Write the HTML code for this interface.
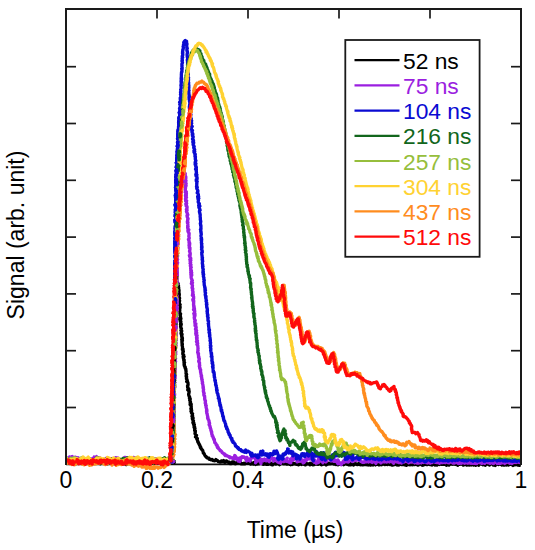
<!DOCTYPE html>
<html><head><meta charset="utf-8"><style>
html,body{margin:0;padding:0;background:#fff;}
svg{display:block;}
text{font-family:"Liberation Sans",sans-serif;}
</style></head><body>
<svg width="535" height="550" viewBox="0 0 535 550">
<defs><clipPath id="pc"><rect x="66.2" y="0" width="454.6" height="470"/></clipPath></defs>
<rect width="535" height="550" fill="#fff"/>
<line x1="66" y1="464.4" x2="521" y2="464.4" stroke="#111" stroke-width="1.7"/>
<g fill="none" stroke-width="3.3" stroke-linejoin="round" stroke-linecap="round" clip-path="url(#pc)">
<path d="M65.4,462.2 67.1,461.1 67.4,462.2 68.3,462.7 68.2,459.7 70.0,460.5 70.6,459.0 70.8,461.2 71.2,461.9 72.9,459.3 72.2,461.2 74.4,460.9 73.9,461.0 74.3,460.3 75.7,461.1 76.1,460.1 76.8,460.7 77.6,459.2 79.1,460.9 79.5,459.6 80.8,461.8 80.1,460.4 81.8,461.8 82.8,461.1 83.3,462.2 83.2,462.2 84.8,463.1 84.9,461.6 84.9,459.9 86.8,460.1 86.5,460.7 88.0,461.4 88.2,460.8 89.1,461.7 89.8,460.3 90.5,459.2 90.5,461.9 92.7,462.2 92.4,461.1 93.3,463.1 94.4,461.1 95.3,459.9 95.4,462.8 96.2,461.8 96.4,462.2 98.2,459.6 98.7,461.4 99.5,460.8 100.1,461.1 100.4,461.8 100.3,463.8 101.8,461.1 102.4,461.5 102.9,460.9 103.9,462.4 104.7,462.5 104.4,462.1 105.4,463.1 107.2,463.6 107.8,463.6 107.6,463.7 109.0,461.3 108.6,460.9 110.5,460.7 110.2,460.9 111.3,458.7 111.7,461.0 112.4,461.0 113.9,462.2 114.0,461.9 114.2,461.4 115.6,460.7 115.8,463.4 117.1,461.6 118.0,463.8 117.7,460.8 118.6,462.7 119.4,462.3 120.9,461.5 120.9,462.7 122.5,461.2 122.3,462.3 123.2,462.7 123.8,463.4 124.1,462.5 126.2,464.5 125.9,464.2 126.6,463.6 128.0,461.0 127.9,459.0 129.6,459.0 130.2,461.9 130.5,459.4 131.7,462.3 132.1,461.2 132.3,461.0 132.7,462.3 133.8,461.1 134.0,462.6 135.0,461.5 135.7,462.1 137.3,459.1 136.9,460.6 138.9,462.6 138.5,461.1 139.8,463.1 140.9,461.4 141.5,462.6 141.6,463.9 141.9,463.4 142.3,461.6 144.4,461.0 144.8,461.4 145.6,460.1 145.5,459.9 147.1,460.9 147.9,461.9 147.3,461.3 148.0,460.1 148.6,463.2 150.5,463.4 150.4,463.0 151.8,462.4 152.2,461.7 152.1,461.6 154.1,462.5 154.9,462.4 154.5,463.6 156.1,461.1 156.6,460.8 156.4,462.8 157.0,460.2 159.2,460.6 158.5,459.5 159.4,461.3 159.9,462.7 161.0,463.7 162.6,462.0 162.2,462.6 162.7,463.1 163.3,460.8 165.5,461.0 165.6,460.7 165.8,459.0 167.5,461.9 168.2,459.2 167.7,461.1 169.7,461.6 169.9,462.7 169.9,462.8 170.9,461.7 171.4,461.7 172.7,461.9 173.2,462.2 174.3,462.1 173.0,462.1 172.3,462.6 172.0,461.7 171.1,461.6 170.7,461.1 170.3,459.8 170.2,459.1 170.7,458.4 170.2,458.4 170.5,457.9 170.8,457.3 170.5,456.2 171.3,455.0 171.6,454.4 171.5,454.7 171.6,453.2 170.8,452.7 171.9,451.7 171.9,450.9 172.0,450.0 171.3,450.4 172.0,449.7 172.1,448.8 171.9,447.4 171.7,446.7 172.1,446.6 171.6,445.2 172.5,445.4 172.0,444.4 172.4,443.6 171.9,442.7 171.8,441.7 172.3,441.4 172.2,440.3 172.0,439.7 171.8,439.1 172.6,438.6 172.2,438.2 172.0,436.7 172.4,436.6 172.5,435.9 172.6,435.5 172.1,434.5 172.4,433.5 172.3,433.2 173.0,432.9 172.2,431.9 172.0,430.5 172.5,430.8 172.1,430.0 173.0,428.7 172.8,428.7 172.4,427.8 172.9,426.9 173.1,426.6 173.2,425.5 172.3,424.4 172.3,424.1 173.0,422.8 172.9,422.9 172.5,422.0 172.3,421.5 172.2,421.1 173.1,420.0 172.5,419.6 173.4,418.0 173.1,418.1 173.0,417.3 172.8,416.8 173.4,415.5 173.2,414.9 172.5,414.0 172.5,414.0 173.5,412.4 173.1,412.0 172.5,411.2 172.7,411.0 172.4,409.7 172.9,408.8 173.2,408.8 173.4,407.6 172.8,407.3 172.8,406.6 172.8,406.1 173.4,405.5 173.7,404.5 173.1,404.2 173.5,403.1 173.0,402.1 172.7,402.0 172.7,401.2 173.2,400.8 173.5,400.1 172.8,398.8 173.3,397.9 173.3,397.3 173.3,396.1 173.2,396.0 173.1,395.2 173.7,394.9 173.3,394.1 173.2,392.9 172.8,392.3 173.5,392.3 173.8,391.2 174.0,390.4 173.8,389.6 173.8,389.6 173.2,387.9 173.6,387.7 173.3,386.3 173.4,386.2 173.4,386.0 173.7,385.1 174.1,384.4 173.6,383.7 173.8,382.9 173.8,381.9 173.8,381.5 174.2,381.0 174.1,380.3 174.1,379.4 173.5,378.3 174.0,378.3 173.8,376.7 174.2,376.4 173.7,375.2 173.8,375.3 173.7,374.2 174.0,373.1 173.8,373.5 174.1,372.1 174.1,371.7 173.5,370.5 174.4,369.9 173.4,369.8 174.0,368.6 174.0,368.3 173.6,367.5 174.2,367.0 173.7,366.1 173.7,365.3 173.6,364.9 174.5,363.6 173.7,363.7 174.3,362.9 173.5,362.2 174.3,360.8 174.1,360.7 174.5,359.3 174.3,358.6 174.8,358.2 174.7,357.8 174.4,356.6 174.3,355.7 173.8,355.7 174.1,355.1 174.0,354.3 174.6,353.1 173.9,352.5 174.3,351.5 174.0,350.7 174.5,351.0 174.1,349.3 174.7,349.5 175.0,348.6 174.3,348.2 174.0,347.3 174.0,346.2 174.5,345.5 174.1,344.6 174.9,344.2 174.7,343.2 174.8,342.7 174.7,342.6 175.2,340.9 175.0,341.2 174.4,339.9 174.8,339.9 174.6,339.1 175.0,337.5 175.2,336.7 174.3,336.8 174.2,335.7 174.3,335.1 175.2,334.9 174.3,333.2 175.2,332.5 174.6,331.9 174.4,331.1 175.1,331.3 175.1,330.7 175.1,329.4 175.1,329.4 175.1,327.9 174.5,328.0 175.1,326.6 175.2,326.1 175.1,324.8 174.9,324.6 174.7,324.4 175.0,323.5 175.4,322.9 175.4,322.2 174.9,321.7 174.8,321.0 175.6,320.2 174.7,318.6 175.6,318.3 175.1,318.2 174.7,317.0 175.2,315.8 175.2,315.8 175.8,314.3 175.4,313.7 175.8,313.0 174.9,312.6 175.7,311.8 175.0,311.7 175.9,311.1 175.3,309.9 175.2,309.3 175.4,308.4 175.9,308.4 175.7,306.7 175.8,306.4 176.3,306.0 176.1,305.3 175.8,304.9 176.2,303.4 175.4,302.8 175.9,301.8 175.7,301.7 175.4,301.3 176.1,300.0 175.7,299.3 175.8,299.1 176.1,298.1 175.7,297.9 176.0,296.5 175.7,296.6 176.3,295.8 176.9,295.2 176.8,294.4 177.0,293.6 176.1,292.5 176.7,292.4 177.0,291.4 177.1,290.3 177.4,289.9 176.8,289.0 177.5,288.4 176.6,287.2 177.3,287.0 177.6,285.9 177.1,285.8 176.7,284.4 177.3,283.9 176.8,283.2 177.4,282.8 177.4,282.3 178.2,283.7 177.5,284.6 177.4,284.7 178.5,285.9 177.9,286.8 178.3,287.4 178.7,287.6 178.6,288.4 178.9,289.4 178.8,290.2 179.1,290.2 178.2,291.5 179.0,291.9 178.7,292.5 179.2,293.6 178.9,293.4 179.3,294.6 178.5,295.1 179.2,295.5 178.5,296.5 179.5,297.8 179.6,298.2 179.2,298.9 179.2,299.6 179.6,300.8 179.1,301.1 179.1,301.4 179.3,302.5 179.4,303.6 179.0,303.9 180.1,304.7 179.6,305.0 179.4,306.4 180.1,306.7 180.1,307.7 180.1,307.8 179.7,309.0 179.6,309.6 179.8,309.8 179.8,310.3 179.7,311.3 179.3,311.7 179.7,313.3 180.1,313.3 180.6,313.9 180.1,315.2 180.3,315.5 180.5,316.3 180.4,317.0 180.8,318.0 179.8,318.0 180.9,318.8 179.8,319.5 180.4,321.1 180.3,321.5 180.9,321.4 180.7,323.2 180.7,323.4 180.5,324.5 181.3,324.2 180.8,325.3 181.0,325.6 180.6,326.5 180.9,327.9 181.4,328.5 181.2,328.4 181.0,329.8 180.9,330.3 181.7,330.5 181.7,331.2 181.2,332.9 181.0,333.1 181.3,334.2 182.1,334.2 181.6,335.6 181.7,335.5 182.0,336.4 181.7,336.7 182.4,338.1 182.4,339.2 181.7,339.4 181.9,340.4 182.5,340.4 181.9,341.7 182.1,341.7 181.9,342.9 182.4,344.1 182.4,344.4 182.0,344.8 182.2,345.9 182.3,346.0 182.5,347.0 182.5,347.8 182.4,348.9 183.1,349.2 182.4,349.6 183.2,350.7 183.4,351.7 182.9,351.9 183.0,352.2 182.8,353.0 182.8,354.0 183.6,354.8 183.7,355.1 183.2,356.2 184.1,356.7 183.1,356.9 183.5,358.3 183.4,358.5 184.2,360.1 183.8,360.4 184.1,360.4 184.0,361.2 184.0,362.7 184.6,362.5 184.0,364.0 184.1,364.2 184.4,364.6 184.2,365.4 184.8,367.0 185.2,366.9 185.3,367.6 185.2,368.4 185.9,369.1 185.8,370.1 186.0,370.8 186.1,371.2 186.0,372.2 185.9,372.8 186.0,373.3 186.6,374.3 186.3,374.3 186.3,375.1 186.1,376.1 186.6,376.6 186.4,377.6 186.7,378.1 186.4,378.8 187.1,379.7 187.1,380.7 187.4,381.2 186.7,381.5 187.6,382.0 188.0,382.7 188.0,383.4 188.1,384.9 187.6,385.6 187.5,386.3 187.8,386.5 187.6,387.4 187.9,388.1 188.7,388.8 187.8,389.9 189.0,390.2 188.5,390.8 189.2,391.4 189.1,392.2 188.8,393.3 188.9,393.6 188.6,394.1 188.7,395.1 188.7,395.0 189.0,395.8 189.6,396.8 189.4,398.2 190.2,398.5 190.2,399.4 189.7,400.1 189.7,400.5 190.0,400.7 190.6,402.3 190.1,402.9 190.3,403.4 191.2,404.2 190.1,404.5 190.6,405.0 191.3,405.9 191.2,406.8 191.1,406.8 191.4,408.5 190.9,408.9 191.4,409.2 191.7,410.7 191.0,411.3 191.5,411.9 191.4,412.4 191.4,412.7 192.6,413.7 192.4,414.2 192.2,414.9 192.6,415.9 192.0,416.3 192.6,417.1 193.1,418.1 192.3,418.3 192.4,418.5 192.5,419.4 193.4,420.7 193.5,420.9 192.9,422.4 193.8,423.1 193.0,423.1 193.8,424.2 194.3,424.7 193.7,424.7 194.4,426.6 194.6,426.9 194.0,427.1 194.7,428.6 195.0,428.4 194.7,429.5 194.6,430.5 195.4,431.1 195.2,431.7 195.3,432.2 195.0,433.2 195.0,433.7 195.4,434.3 195.9,434.9 196.5,435.3 195.5,436.8 196.0,436.7 196.4,437.7 197.3,438.5 196.8,439.0 197.1,439.6 197.3,439.9 197.6,440.8 197.8,441.9 198.1,441.8 198.5,443.3 199.0,443.6 199.2,443.9 199.2,444.4 199.6,445.1 200.0,445.6 200.1,446.3 200.4,447.6 200.9,447.5 201.2,449.0 201.6,449.2 201.8,449.4 202.3,449.9 202.7,450.5 203.0,451.5 203.3,452.3 203.3,452.9 203.7,453.1 204.2,453.8 204.8,455.2 205.0,455.6 205.4,456.0 205.9,456.3 206.2,457.1 206.8,457.2 207.4,458.0 208.2,458.2 208.9,458.1 209.1,459.1 209.9,459.4 210.9,459.4 211.1,459.9 212.1,459.4 212.5,459.9 213.1,460.5 214.1,460.6 214.6,460.8 215.1,460.5 215.9,459.5 216.4,460.1 217.7,460.7 218.1,461.4 218.6,461.6 219.7,462.1 220.2,462.0 221.3,461.9 221.5,460.9 221.9,461.9 222.7,461.4 223.6,460.6 224.1,462.1 225.1,462.3 226.1,460.8 226.6,460.8 227.1,461.7 228.3,462.3 228.3,462.4 229.3,462.1 229.8,463.5 231.1,463.4 230.9,463.6 232.0,463.2 232.4,461.8 233.8,462.0 233.7,462.6 235.3,463.5 235.4,463.8 236.5,463.2 237.1,462.2 238.0,462.2 238.7,462.5 239.4,462.4 239.7,462.8 240.3,462.3 241.2,463.8 241.6,463.9 242.8,463.6 243.1,463.9 244.2,463.1 244.3,463.2 244.9,463.8 245.9,462.8 246.8,463.1 247.5,462.7 248.2,463.4 248.8,463.0 249.8,462.4 249.9,463.1 250.7,464.1 251.3,462.7 252.2,463.4 253.3,464.1 254.0,463.3 254.0,462.4 255.2,464.0 255.6,464.5 256.6,463.8 257.3,462.7 257.6,464.0 258.4,462.4 259.1,463.7 259.8,462.8 260.5,463.3 261.6,462.8 262.5,463.9 263.1,462.4 263.4,464.4 264.5,463.4 264.9,464.0 265.8,463.2 266.2,464.3 267.4,463.1 267.8,464.4 268.8,464.1 269.5,463.7 269.5,463.3 270.6,463.0 271.0,463.1 271.5,464.7 272.5,464.9 273.5,463.7 274.4,463.3 275.1,463.3 275.2,464.0 275.7,464.1 276.4,463.9 277.1,463.4 278.0,463.4 278.9,464.1 279.5,464.7 280.0,463.7 281.2,463.6 282.1,463.7 282.4,462.9 282.7,463.0 283.9,463.9 284.9,463.5 285.4,463.4 285.5,463.5 286.8,464.2 287.7,464.2 288.1,463.8 288.7,463.9 289.6,464.4 290.4,464.2 290.8,464.7 291.7,464.0 292.3,464.4 293.0,463.4 293.4,464.0 293.9,463.8 295.4,463.4 295.7,464.2 296.8,464.3 297.2,463.9 297.8,464.5 298.4,464.8 298.8,464.7 300.1,463.8 300.2,463.7 301.4,464.5 302.3,463.5 302.3,463.3 303.9,464.3 303.8,464.4 305.2,464.2 305.3,464.9 306.4,463.5 307.2,464.0 307.7,463.8 308.1,463.9 309.0,464.0 310.0,463.3 310.1,464.8 311.2,464.3 311.9,463.6 312.4,463.5 312.9,464.9 314.1,464.7 314.2,464.4 315.1,464.1 316.2,463.2 316.6,464.2 317.8,464.1 318.0,464.3 318.9,463.7 319.6,463.7 319.8,463.7 320.5,464.1 321.6,464.8 322.5,464.5 323.5,463.7 323.6,463.6 324.1,464.1 325.1,463.4 326.2,465.0 326.1,463.2 326.8,464.5 328.2,463.3 328.2,464.2 329.2,463.2 329.6,463.6 330.4,463.8 331.5,463.7 331.9,463.6 333.2,463.7 333.6,464.0 334.1,464.0 334.5,463.6 335.7,464.6 336.1,463.6 337.4,463.4 338.0,464.8 338.1,464.7 338.8,463.3 339.6,463.9 340.6,464.0 341.5,464.4 341.6,463.6 342.8,463.5 343.7,464.7 343.8,463.8 344.5,464.0 345.2,463.3 345.9,463.6 346.7,464.1 347.9,464.5 348.3,464.8 348.8,464.0 349.4,464.8 350.7,464.9 351.1,463.5 351.3,464.7 352.8,464.2 353.5,465.0 354.0,464.0 354.5,463.9 355.1,464.1 355.5,463.5 356.3,464.3 357.6,464.6 357.7,464.1 358.8,463.5 359.0,464.4 359.9,464.5 360.5,464.8 361.3,464.1 362.3,464.9 363.3,464.8 363.8,463.4 364.0,464.3 365.5,464.6 365.4,464.0 366.8,464.2 367.4,464.9 368.1,464.5 368.7,463.9 368.9,465.0 369.5,463.8 370.7,465.1 371.1,463.8 372.3,463.9 372.6,464.0 373.0,465.0 374.3,463.4 374.5,463.6 375.4,464.9 375.9,463.8 376.7,464.3 378.0,464.3 378.7,464.3 379.0,464.9 379.8,464.2 380.4,464.0 381.1,463.5 381.5,464.7 382.2,463.7 382.9,464.0 383.5,464.0 384.7,464.6 385.6,463.5 386.1,463.7 386.6,464.4 387.7,464.6 388.6,463.4 388.6,464.2 389.1,463.5 390.1,464.4 390.6,463.5 391.5,464.7 392.4,465.2 393.1,465.0 393.8,464.3 394.3,463.5 394.7,464.6 396.1,463.4 396.2,464.0 397.0,464.9 397.7,463.9 398.6,465.1 399.1,464.5 399.6,464.2 401.1,463.8 401.3,464.6 402.2,464.4 402.9,464.6 403.4,464.0 404.1,464.3 405.0,465.0 405.5,464.2 406.6,465.2 406.8,464.7 407.5,464.8 408.0,464.3 409.2,464.7 410.2,464.9 410.6,464.3 410.8,464.4 412.0,464.8 412.3,464.5 412.9,464.7 414.3,464.2 414.9,464.6 415.2,463.6 416.3,464.1 416.5,464.2 417.8,465.2 418.3,465.2 418.6,464.3 419.2,463.9 420.7,463.5 421.2,464.4 422.2,465.2 422.1,463.9 423.6,464.0 423.5,465.1 424.6,464.0 425.3,464.2 425.9,464.4 426.3,464.6 427.7,464.5 428.3,464.0 428.4,463.5 429.8,463.7 430.0,464.6 431.0,464.6 431.5,464.9 432.2,465.0 432.5,464.8 433.3,464.2 434.3,463.8 435.0,465.0 435.3,463.8 436.8,464.3 437.0,465.1 438.1,463.8 438.6,463.8 439.5,464.5 440.2,463.6 441.0,463.9 441.6,464.3 442.4,463.7 442.3,464.3 443.8,464.3 444.1,463.8 444.9,464.3 445.9,464.8 446.2,463.8 446.6,465.2 447.7,463.9 448.6,463.9 449.0,465.1 449.4,463.7 450.0,463.8 451.0,464.1 451.6,463.5 452.5,464.3 453.4,464.0 454.0,464.1 454.8,463.8 455.3,464.3 456.0,464.5 456.7,464.1 457.7,465.2 458.2,464.6 459.0,464.1 459.6,464.3 460.2,464.2 460.9,463.9 461.4,463.9 462.4,464.0 463.3,465.1 463.9,464.1 464.8,464.1 465.0,464.6 466.0,464.3 466.8,465.1 467.0,463.9 467.8,464.8 468.8,463.8 469.2,465.1 470.4,464.6 471.0,465.0 471.2,463.6 472.2,464.2 473.0,464.1 473.5,465.0 473.8,464.3 474.6,464.5 475.8,465.3 476.5,463.8 477.0,464.5 477.8,464.8 478.8,465.2 478.9,463.8 480.2,463.8 480.9,463.8 481.3,463.8 481.6,464.1 482.9,464.8 483.1,463.8 483.9,463.9 484.5,464.4 485.4,465.2 485.7,464.5 486.9,463.8 487.4,463.8 488.6,464.2 488.5,464.4 489.6,465.1 490.5,463.9 491.4,463.6 491.9,463.6 492.7,463.9 493.4,465.0 494.1,463.8 494.4,463.7 495.4,465.4 495.9,464.7 496.8,463.8 497.2,464.2 498.2,464.3 498.6,464.6 499.1,463.7 499.9,463.6 501.0,464.4 501.6,464.6 501.8,465.0 503.2,463.6 503.6,465.0 504.2,465.1 505.2,464.8 506.1,465.0 506.5,463.7 507.1,464.8 507.8,464.6 508.4,465.1 509.0,464.7 509.9,463.9 510.2,463.8 511.1,464.4 511.6,463.7 513.0,465.4 513.4,464.4 514.2,463.8 514.8,464.8 515.9,464.7 516.3,464.3 517.3,464.5 517.6,464.9 518.3,463.7 519.1,465.2 519.6,463.8 520.1,465.2 520.6,464.8" stroke="#000000" />
<path d="M66.8,461.7 65.9,458.1 68.0,460.1 68.4,458.1 69.0,458.8 69.6,456.9 70.1,457.8 71.3,460.1 72.4,458.5 72.2,457.4 72.2,456.5 73.6,457.5 74.2,459.8 75.1,458.9 75.3,457.2 76.2,457.6 77.2,460.7 78.2,457.7 79.3,459.8 79.7,460.1 80.5,459.7 80.4,460.8 82.2,458.2 82.6,460.6 82.7,460.3 83.5,462.1 84.2,462.0 84.6,462.1 86.3,460.4 86.4,462.0 87.4,460.3 87.2,459.7 88.8,459.1 89.8,459.9 90.5,460.4 91.3,461.9 91.2,460.7 92.2,460.5 92.3,458.6 93.3,460.6 94.2,457.0 95.3,458.9 96.1,457.0 96.5,456.6 97.1,457.5 97.0,459.7 97.5,458.4 99.5,457.6 99.1,460.2 100.2,459.9 100.2,459.0 101.1,460.4 101.6,461.7 102.2,461.2 102.9,459.8 105.1,459.8 104.6,461.7 105.7,458.5 107.5,457.9 106.5,458.1 108.2,459.9 108.0,458.8 108.6,459.6 110.6,460.8 111.5,461.1 112.2,461.0 112.2,459.0 113.2,459.1 112.9,459.4 115.0,458.0 115.2,458.8 115.7,457.7 117.2,458.0 117.3,458.4 116.9,459.1 117.9,458.0 118.4,459.2 119.2,461.4 120.6,462.8 122.1,462.9 121.5,460.8 122.3,460.5 123.6,460.5 124.5,458.0 124.7,459.0 124.6,457.3 126.0,457.7 127.3,458.4 126.9,458.5 127.8,458.8 129.0,459.6 129.4,460.2 129.9,461.2 131.9,460.8 131.7,460.4 132.6,458.7 133.1,459.7 133.3,457.4 135.1,458.0 135.3,460.4 136.2,458.5 137.6,459.2 136.5,460.8 137.4,460.0 139.4,461.7 138.6,460.6 140.0,460.5 140.4,460.5 140.8,458.8 142.1,460.5 142.2,459.7 143.1,459.9 144.2,460.4 145.6,460.8 145.1,459.7 145.7,462.3 147.5,462.4 148.2,458.3 148.9,460.3 149.7,459.0 149.7,459.6 151.2,459.6 151.4,460.8 152.9,461.7 153.6,461.6 153.1,459.2 154.2,459.0 154.8,460.1 156.3,459.8 156.9,458.8 156.7,462.9 157.1,461.4 157.6,460.1 159.8,463.3 160.1,460.3 160.1,460.8 161.5,462.6 161.8,462.0 161.9,461.3 164.1,461.4 163.3,460.2 165.1,460.0 166.1,461.4 166.5,461.5 167.7,462.5 167.6,459.9 168.1,459.2 169.1,462.0 169.0,460.5 170.3,459.8 171.1,461.2 171.8,460.5 172.7,460.4 173.2,461.0 173.9,461.5 173.4,461.6 172.9,461.9 172.6,461.8 171.3,461.3 171.3,461.4 171.2,460.6 170.5,460.1 171.4,459.0 171.7,458.7 170.9,457.9 171.7,456.3 171.8,456.2 171.2,455.8 171.2,454.8 171.7,453.6 171.9,453.2 171.5,453.2 171.4,451.2 172.0,451.6 172.3,450.8 172.1,450.0 172.0,448.7 172.3,447.7 171.8,448.0 172.0,447.3 172.8,446.2 172.7,446.0 173.0,444.4 172.2,444.0 172.6,443.2 172.1,442.9 173.2,441.9 172.8,441.2 172.7,441.2 172.6,440.2 172.8,439.3 173.4,438.0 173.3,437.6 173.1,437.6 173.1,436.3 173.4,435.2 173.1,434.9 173.0,434.9 173.4,433.9 172.8,432.6 173.0,431.9 172.8,432.2 172.6,431.3 173.0,430.0 172.9,428.9 173.1,428.3 173.1,427.8 173.7,428.0 173.2,426.9 173.8,425.8 172.8,424.9 172.9,424.9 173.1,423.7 173.7,422.8 173.7,422.7 173.2,422.3 173.2,421.6 173.9,420.4 173.6,420.3 173.7,419.4 173.8,418.9 173.7,418.3 173.2,417.1 173.6,416.0 173.3,415.0 174.0,414.6 173.5,414.7 173.1,414.0 173.1,412.0 173.3,411.8 174.0,411.8 173.9,410.5 173.6,409.5 174.0,409.1 173.3,408.7 173.2,407.5 174.1,406.5 173.2,406.0 173.4,405.6 173.4,404.8 173.4,403.9 173.8,403.4 173.6,403.3 173.2,401.7 174.2,401.4 174.1,400.3 173.8,400.6 173.6,399.8 174.0,398.6 174.5,397.9 173.8,397.5 173.7,397.1 174.0,396.0 174.0,395.9 174.5,395.0 173.9,393.7 174.0,392.5 173.5,393.1 173.6,392.3 174.3,391.6 173.6,390.0 174.4,388.9 173.6,388.7 173.7,387.7 174.3,386.9 174.7,387.0 173.6,386.7 173.9,385.4 174.3,384.2 174.2,383.4 173.9,383.9 174.7,382.6 174.5,382.4 173.9,381.2 173.9,380.0 173.9,379.4 173.8,378.7 174.3,378.6 174.8,378.3 174.7,377.0 175.0,375.8 174.0,376.1 174.6,374.5 174.4,373.9 174.5,373.4 174.4,373.2 174.9,372.2 174.6,371.1 174.9,371.4 174.3,370.3 174.9,369.5 174.1,368.7 174.3,367.5 174.8,367.4 174.9,366.9 175.0,365.8 174.2,365.5 175.2,364.9 174.9,363.1 174.5,362.5 175.0,362.4 174.5,362.3 175.5,361.5 174.9,359.9 174.6,360.0 175.2,358.5 175.5,358.2 174.9,357.3 175.3,356.7 175.2,355.5 175.3,355.0 175.6,354.2 174.9,354.0 175.0,353.3 175.6,352.1 175.5,352.1 175.5,351.1 175.1,350.2 175.2,349.4 174.9,349.0 174.9,348.3 175.4,347.4 174.9,347.1 175.7,345.8 175.5,345.8 175.8,345.1 175.1,343.7 175.8,343.1 174.8,343.2 175.1,341.8 175.2,341.0 175.7,340.4 175.4,339.8 175.9,338.6 175.6,338.0 175.1,338.0 175.4,336.5 175.7,337.0 175.8,335.7 176.0,335.6 175.3,334.1 176.3,334.2 175.4,333.2 176.2,332.4 176.0,331.6 175.5,330.4 175.3,330.4 175.4,329.6 175.7,328.6 176.4,327.9 175.9,327.2 175.6,326.3 176.0,326.4 175.5,325.9 176.2,323.9 176.2,323.7 176.0,322.6 176.1,322.5 176.4,321.9 176.3,321.4 175.8,319.7 176.1,319.1 175.7,318.7 176.2,318.4 176.4,318.2 175.7,316.9 175.7,316.4 176.2,314.9 176.0,315.0 176.2,314.7 176.1,313.1 176.8,312.8 175.9,312.3 176.2,311.9 176.5,311.0 176.9,309.9 177.0,308.5 176.2,308.9 175.8,308.0 177.0,307.3 176.9,305.8 176.5,305.8 176.4,304.8 176.9,303.8 176.0,303.7 177.1,303.3 176.8,301.9 177.1,300.8 176.3,301.2 177.1,299.9 177.1,298.8 176.7,298.0 176.3,297.5 176.1,297.1 176.7,296.2 176.8,295.2 176.7,295.2 176.6,295.0 176.2,293.6 176.7,292.9 177.3,292.4 176.7,291.6 176.7,291.6 177.1,290.5 176.3,289.7 176.3,288.6 176.2,288.4 177.3,287.6 176.9,286.4 176.7,286.0 176.7,285.0 176.5,285.0 177.3,284.4 176.9,282.6 176.6,283.0 177.4,281.9 176.9,281.4 176.5,280.7 176.7,280.2 176.8,279.3 176.9,278.4 176.8,278.3 177.2,276.8 176.9,276.8 177.2,275.8 177.4,274.3 177.0,274.3 176.8,274.1 177.4,272.6 177.0,272.4 177.1,271.2 177.2,270.4 176.5,270.2 177.1,269.1 176.9,269.2 177.3,267.7 177.4,267.2 176.8,266.7 177.3,266.3 177.1,265.3 176.8,263.7 176.9,263.1 177.5,262.8 177.1,262.6 176.6,262.0 176.8,260.3 177.1,260.0 177.5,259.4 176.5,258.1 176.4,258.0 177.3,256.7 176.8,256.6 177.5,256.6 177.5,255.4 177.1,254.2 177.2,253.4 176.8,253.6 177.1,252.8 177.0,251.4 177.1,251.2 176.8,250.8 177.7,249.2 176.8,249.4 177.4,247.9 177.2,247.2 177.6,247.0 177.2,245.7 177.1,245.4 177.0,244.3 176.8,244.3 177.7,243.8 177.4,243.1 176.8,241.5 177.5,240.6 176.8,240.9 176.9,239.4 177.2,239.6 176.8,239.0 177.1,237.9 177.4,236.5 178.0,235.9 177.8,236.2 177.4,235.6 177.0,233.8 177.5,233.0 177.9,232.9 177.9,231.9 177.0,232.0 177.3,230.6 177.2,230.2 177.7,228.9 177.2,228.4 178.1,227.5 177.5,227.4 178.0,227.0 178.0,226.4 177.5,225.8 177.4,223.9 177.5,224.2 178.0,223.7 178.6,223.0 178.2,221.5 178.7,221.3 177.8,220.3 177.6,218.9 178.4,219.2 178.7,218.5 177.9,217.8 178.9,217.0 178.4,215.8 177.9,215.6 179.0,214.1 178.9,214.5 178.4,213.8 178.2,212.3 178.7,212.4 178.8,210.6 179.3,210.6 179.1,209.4 178.7,208.5 178.5,208.3 178.8,207.9 179.4,206.8 179.6,206.5 178.9,205.2 179.7,205.1 178.6,204.5 179.1,203.4 179.6,202.4 179.1,202.2 179.9,200.8 179.8,201.0 179.1,200.2 179.7,199.6 179.7,198.4 179.7,197.6 179.7,197.1 179.3,196.2 179.7,195.7 180.0,195.5 179.7,194.5 179.9,193.4 179.7,193.7 180.7,192.8 179.9,191.2 179.9,190.7 180.4,189.6 180.5,189.8 181.1,188.5 180.2,188.6 180.8,187.2 180.6,186.5 180.9,185.8 180.9,185.5 181.7,184.5 181.3,184.0 181.9,183.7 182.2,182.2 182.1,181.7 181.9,181.3 182.0,180.3 181.5,179.2 182.7,179.7 182.2,177.9 182.8,177.8 182.5,177.3 182.3,176.1 183.2,176.1 183.6,175.0 183.8,175.0 183.5,174.3 183.5,172.5 184.3,172.0 184.6,173.2 184.9,173.2 185.3,173.6 185.1,175.5 185.2,175.4 185.8,176.7 185.7,177.6 185.9,177.8 185.8,178.4 185.1,178.8 185.2,179.2 185.6,180.4 186.0,180.6 185.8,181.5 185.3,182.3 186.1,183.5 185.5,183.6 185.0,184.5 186.1,185.4 185.8,186.7 185.1,186.6 185.5,187.1 185.5,188.5 185.2,189.2 185.4,189.8 185.3,190.7 185.6,191.5 186.3,191.8 185.2,192.2 186.4,193.3 186.1,193.8 186.4,195.1 186.0,195.3 185.4,195.2 185.6,196.9 186.4,197.7 186.5,197.4 185.5,198.4 185.5,199.5 186.6,200.7 185.6,201.0 186.4,201.7 186.1,201.8 186.7,203.5 186.5,203.7 185.8,204.0 186.1,204.7 186.1,205.9 186.7,206.0 187.0,206.4 187.1,207.9 186.8,208.2 186.9,209.7 186.4,209.4 187.1,210.2 186.4,211.3 186.5,211.6 186.7,212.1 187.4,213.5 187.3,213.8 187.5,215.4 187.8,214.8 187.0,215.6 187.3,217.1 187.5,217.4 188.0,218.4 188.1,218.9 187.7,219.1 187.7,220.6 187.4,221.2 187.3,221.7 187.9,222.4 187.4,222.7 187.8,224.1 187.9,224.1 187.8,225.0 187.6,226.1 188.1,226.4 187.6,227.9 187.7,227.5 188.0,229.1 188.8,229.8 188.0,230.6 187.9,230.3 188.0,231.6 188.6,232.4 189.1,233.3 188.9,233.2 189.1,234.9 189.1,234.4 189.0,235.7 188.8,236.1 189.1,237.5 189.2,237.5 189.2,237.9 189.2,238.6 188.4,239.4 189.2,241.3 189.1,241.5 189.2,242.5 189.7,243.2 189.0,242.8 189.7,243.8 189.6,245.3 189.0,245.1 189.3,246.7 189.9,247.6 189.2,247.8 190.0,248.1 189.7,248.6 190.0,249.6 189.6,250.6 189.5,251.5 189.7,251.7 190.1,252.7 190.1,253.7 190.3,253.8 190.1,255.1 189.4,255.5 190.1,255.8 189.6,256.4 190.4,257.9 190.8,258.4 190.7,259.2 189.9,259.7 190.8,260.5 190.1,261.1 190.3,261.5 190.7,262.5 190.1,263.2 190.0,263.2 191.0,264.9 190.4,265.4 190.3,265.8 190.6,265.9 190.7,267.2 191.3,267.3 190.7,267.9 190.6,268.9 191.4,270.6 190.7,270.6 191.1,271.3 191.7,272.7 190.7,272.6 191.3,273.6 191.3,274.6 190.9,274.8 191.8,275.1 191.1,276.4 191.1,277.0 191.1,277.2 191.4,278.7 191.8,279.2 191.9,279.6 192.3,280.5 192.0,280.5 191.6,281.9 192.5,282.8 191.4,283.6 191.7,284.0 191.7,284.0 192.5,285.3 192.3,286.3 192.4,286.6 192.1,287.4 192.0,287.8 192.8,288.6 192.7,289.7 192.5,290.6 192.4,290.2 193.0,291.9 193.0,292.9 192.6,292.9 192.9,294.2 192.6,294.7 193.4,294.7 192.4,295.3 193.2,296.1 193.6,296.6 193.6,297.7 193.7,298.3 192.8,299.5 193.0,300.6 193.7,300.3 193.4,301.4 193.8,301.7 193.6,302.8 193.7,303.5 193.5,304.0 193.6,305.5 193.8,305.0 193.7,306.6 194.1,306.3 193.8,307.6 194.4,308.0 194.5,309.5 193.5,309.7 194.2,310.6 194.7,310.7 194.7,311.1 194.7,312.2 193.8,313.6 195.0,314.1 194.8,314.5 194.3,315.5 195.0,315.7 194.5,316.4 194.5,317.9 194.2,317.4 194.5,319.2 195.0,319.8 195.3,320.7 195.2,320.2 194.7,321.5 194.8,322.0 195.0,323.6 195.9,323.9 195.3,324.2 195.0,325.0 195.1,325.8 196.0,326.3 195.9,327.6 196.2,327.7 195.5,329.1 195.9,328.9 196.2,330.4 196.6,330.5 195.8,331.0 195.9,331.6 196.7,332.9 195.7,332.9 196.0,334.8 196.2,335.2 196.1,335.1 197.1,335.6 196.6,336.9 196.5,338.0 197.2,337.9 196.6,339.0 196.9,339.9 197.3,340.2 197.5,341.0 196.5,341.7 197.2,342.0 197.7,343.3 197.3,343.6 196.9,344.3 197.6,345.5 197.7,345.3 197.9,346.9 197.9,347.4 198.1,348.7 197.9,348.7 197.9,349.9 198.1,350.5 197.8,351.0 197.8,351.6 197.6,352.3 198.5,353.5 198.3,354.1 198.0,353.6 198.5,354.8 198.4,355.8 198.9,356.9 198.5,357.2 198.9,358.1 198.9,358.4 199.3,358.5 199.3,359.4 198.7,360.8 199.1,361.1 198.7,361.3 199.0,362.1 199.6,362.9 199.4,363.9 199.8,365.2 199.8,365.0 199.3,366.2 199.7,367.1 199.6,367.8 200.0,367.9 200.0,369.3 200.3,369.7 200.6,369.6 200.6,370.7 200.5,372.1 200.6,372.2 200.8,372.5 200.8,373.0 201.1,374.6 201.6,375.8 201.2,376.5 201.2,376.0 201.6,377.4 201.7,377.2 201.7,378.6 201.8,379.6 202.2,379.4 202.1,380.9 202.4,381.6 202.6,382.4 202.3,383.2 202.6,383.6 202.7,384.5 202.9,384.7 203.0,385.4 203.1,386.8 203.0,386.4 203.4,387.2 203.0,387.6 203.3,388.8 203.6,389.2 203.4,390.7 203.3,390.9 203.5,392.1 203.7,391.9 203.7,392.7 204.2,393.3 203.8,394.1 203.9,395.5 204.5,395.9 204.3,395.9 204.7,396.9 204.7,398.6 204.6,398.9 204.9,399.4 204.9,400.3 205.1,400.1 205.5,401.0 205.2,402.1 205.5,403.2 205.3,403.3 205.8,404.1 205.6,405.3 206.2,405.8 206.0,405.8 206.1,407.3 206.1,407.5 206.3,408.1 206.5,408.7 206.9,410.2 206.6,409.8 206.5,411.5 206.9,411.2 206.7,412.9 207.0,413.7 207.2,414.0 207.3,414.8 207.3,414.9 207.4,415.3 207.9,417.3 207.6,417.8 207.9,417.5 207.9,418.4 208.1,419.3 208.5,419.6 208.9,420.8 209.0,421.0 209.1,422.4 209.3,422.3 209.6,423.4 209.1,424.7 209.4,425.4 209.5,424.9 209.9,426.2 210.2,427.0 210.1,427.9 210.4,427.7 210.6,428.7 210.8,429.1 210.8,429.9 211.2,430.3 211.2,431.5 211.7,431.7 211.7,433.4 211.8,434.2 211.9,434.3 212.2,434.6 212.2,436.0 212.9,436.7 213.0,436.5 213.3,438.2 213.5,437.9 213.7,439.4 214.2,439.7 214.4,439.5 214.2,440.2 214.7,441.5 214.7,442.6 215.4,443.1 216.0,443.8 216.1,444.2 216.3,445.0 216.8,445.0 217.2,445.4 217.3,447.1 217.5,447.6 218.0,448.0 218.2,447.6 218.7,448.9 219.6,449.4 219.7,449.7 220.2,450.7 220.9,450.7 221.2,451.3 221.5,451.3 222.1,452.6 222.7,452.8 223.4,453.3 223.9,453.9 224.6,454.0 224.8,455.0 225.3,455.5 225.9,454.9 226.6,455.9 227.1,455.8 228.2,456.4 228.6,456.6 229.2,456.7 229.6,457.7 230.6,457.2 231.1,457.8 231.5,458.0 232.8,458.3 233.1,457.6 233.9,458.4 234.7,458.9 234.7,455.3 237.0,458.4 237.5,459.9 238.2,461.0 238.5,461.1 239.7,461.6 240.5,460.1 239.5,458.0 240.7,458.3 241.9,456.7 243.2,456.8 241.8,457.8 243.9,456.9 244.8,457.5 245.9,459.4 246.7,461.0 246.9,458.0 247.9,460.3 247.0,457.4 247.7,459.8 250.0,461.1 250.5,459.9 250.9,457.7 250.4,459.2 252.5,457.3 251.6,455.9 253.0,457.0 255.0,458.1 255.6,459.9 255.9,461.4 255.6,462.8 257.1,461.0 257.6,458.9 259.1,459.2 258.3,460.8 259.8,458.7 261.0,463.7 260.9,461.1 261.3,459.3 262.6,459.7 263.5,460.5 263.2,460.8 264.5,459.0 264.6,460.0 266.4,460.9 267.4,459.1 267.5,460.3 267.9,457.7 269.3,461.7 269.4,460.7 269.2,458.2 270.7,457.4 271.3,458.7 271.6,457.8 272.8,459.4 273.5,461.2 274.4,459.1 274.3,458.5 276.4,459.7 277.5,459.7 276.9,461.4 278.9,462.6 277.7,462.0 278.5,461.0 280.6,463.2 280.9,460.4 281.4,460.0 281.6,459.0 283.8,461.7 282.8,460.9 284.7,460.7 284.4,460.1 286.3,461.2 287.2,458.1 286.6,459.3 287.5,461.7 289.4,461.9 289.4,462.5 290.6,460.9 290.8,462.8 290.5,458.9 291.6,459.1 292.5,457.0 293.0,460.3 294.1,458.6 295.4,458.7 294.4,459.1 296.5,458.0 295.9,456.8 298.0,460.3 297.1,461.9 298.0,461.1 300.1,459.6 300.1,461.3 300.5,460.8 300.7,461.0 301.8,459.7 304.2,462.0 303.1,462.9 304.3,462.3 304.7,459.9 307.0,459.9 305.9,460.7 306.4,458.9 307.1,457.1 309.8,459.0 309.7,457.3 309.8,456.8 311.5,456.4 312.5,460.8 311.5,458.1 312.2,457.1 313.5,460.4 315.1,461.4 314.3,462.3 314.9,460.1 316.1,463.2 316.2,463.3 318.5,462.4 318.7,458.4 319.8,456.7 319.9,460.0 320.7,460.0 320.6,460.8 321.2,459.3 322.9,462.7 322.6,460.8 324.7,460.1 324.6,459.2 326.6,461.3 325.9,461.9 327.7,458.6 326.7,460.0 328.6,457.7 327.9,457.6 330.6,459.0 330.8,459.4 330.6,460.4 331.7,460.9 332.7,459.9 334.0,461.4 334.4,461.4 334.4,459.7 334.8,461.1 336.9,462.0 336.1,460.5 337.9,463.8 337.9,459.9 339.4,463.4 339.3,462.2 339.9,462.9 341.2,464.6 341.2,464.8 342.5,462.5 343.7,460.7 343.8,462.7 345.1,461.5 345.1,460.9 346.1,460.2 347.0,461.7 347.2,461.3 348.4,460.1 348.3,462.1 348.8,461.3 349.8,459.9 350.2,459.6 351.2,460.8 352.4,461.2 352.4,461.5 353.9,460.5 354.4,460.1 354.7,460.5 355.9,460.3 355.9,460.2 356.5,460.4 357.7,459.6 358.5,459.7 359.1,460.3 360.1,459.5 361.0,461.1 360.8,461.3 361.6,461.7 362.3,462.4 363.7,462.3 364.2,462.3 364.8,460.9 365.7,461.7 366.1,461.9 366.6,461.3 367.7,461.3 368.5,462.0 368.5,460.7 370.0,460.6 369.8,461.6 370.6,461.3 372.1,462.4 372.6,460.4 372.8,460.2 374.3,459.9 374.1,461.7 375.5,462.4 375.9,463.5 376.7,461.2 377.6,460.7 378.5,461.5 378.8,461.2 379.8,462.0 380.1,461.8 381.0,463.0 381.6,462.3 382.2,461.2 383.2,460.4 383.4,461.8 384.5,462.0 385.2,461.5 385.8,460.6 386.7,462.0 386.8,460.9 387.7,461.6 388.0,460.2 389.6,461.9 389.8,460.9 390.0,461.1 391.7,461.4 392.3,462.0 393.0,462.4 393.6,463.3 394.1,461.7 394.8,461.3 396.0,461.5 396.2,461.0 396.8,462.0 398.0,462.0 398.8,462.5 398.4,461.0 399.2,462.4 400.0,462.5 400.7,461.3 401.6,463.1 402.2,461.8 403.5,462.2 403.9,462.1 404.8,461.6 405.0,460.3 406.3,460.6 406.4,461.5 407.9,461.1 407.9,461.2 408.7,462.7 409.5,462.1 410.0,461.4 410.8,462.1 412.0,461.9 411.9,462.1 412.7,460.8 413.6,460.4 414.4,462.6 414.6,462.9 415.7,461.7 416.5,461.5 417.0,463.1 417.6,463.2 418.3,463.2 419.5,462.7 419.9,461.9 420.2,462.2 421.2,462.9 421.6,461.3 422.6,462.3 423.7,462.5 423.9,461.3 425.0,461.4 425.9,462.5 426.7,462.1 426.9,462.5 427.2,463.0 428.5,462.6 428.6,461.7 429.4,461.8 430.3,463.2 431.1,462.4 431.8,462.0 432.1,462.6 433.2,461.6 434.2,461.2 435.1,462.3 435.7,462.3 435.7,462.2 436.4,462.4 436.9,462.7 438.5,462.4 438.7,462.7 439.4,463.3 440.7,462.1 441.3,461.7 442.1,462.7 441.8,462.6 442.9,462.6 443.3,462.0 444.9,462.5 445.2,462.7 445.4,461.5 446.5,462.0 447.2,462.4 447.5,461.9 449.0,462.9 449.5,461.3 450.2,461.4 450.4,461.8 452.0,462.0 452.0,461.5 452.8,463.0 453.4,462.2 453.8,461.6 454.5,463.1 456.0,462.3 456.4,462.1 457.3,461.8 457.6,462.9 458.3,463.5 459.1,461.3 459.8,463.2 460.2,462.2 461.3,463.2 461.4,462.9 462.2,462.8 463.8,462.7 463.5,461.9 464.7,463.3 465.4,461.8 466.4,462.9 467.4,462.7 467.9,463.2 467.9,461.4 469.3,462.7 470.1,463.2 469.9,461.9 471.4,462.5 472.1,463.3 471.9,461.9 472.7,461.8 473.7,463.3 474.2,462.4 475.2,463.4 476.2,462.2 476.2,461.9 476.9,463.5 477.8,461.7 478.2,461.7 479.6,462.4 480.3,462.9 480.5,462.7 481.7,463.5 482.2,461.8 482.7,462.9 484.0,462.0 484.7,463.4 484.9,461.6 486.2,461.9 487.0,462.2 487.2,462.4 487.4,462.2 488.1,462.5 488.8,462.7 490.0,463.4 491.0,462.7 491.7,462.3 492.4,462.8 493.1,463.3 493.6,463.4 493.6,463.5 494.8,462.5 495.3,462.1 496.3,462.2 496.4,462.2 497.3,463.6 497.9,463.0 499.3,463.6 500.0,463.0 500.6,463.4 501.5,462.5 502.4,462.7 502.5,462.1 503.4,462.7 503.8,462.5 504.6,463.4 504.9,461.6 506.1,462.6 506.2,462.4 507.1,461.9 508.5,461.5 508.5,462.5 509.9,463.2 510.3,462.6 511.3,462.6 512.0,462.4 511.9,463.5 512.7,462.7 514.0,462.6 514.3,461.6 515.1,461.6 515.9,462.5 516.1,462.3 517.2,462.1 518.5,462.1 518.2,461.6 518.9,462.4 519.5,462.5 521.2,462.1 521.2,462.7" stroke="#9b1fe0" />
<path d="M65.5,461.4 66.5,462.0 67.6,460.3 67.2,462.9 68.4,460.5 70.4,461.0 70.8,460.6 71.2,459.0 71.8,461.4 72.3,461.8 73.3,460.1 74.2,462.6 74.0,460.7 75.8,462.3 76.2,463.6 76.9,463.0 77.0,461.7 77.8,461.7 79.3,458.9 78.6,459.6 80.8,460.6 80.9,460.4 81.4,460.9 81.8,461.9 83.0,463.4 83.8,463.8 84.8,464.0 85.2,460.0 86.2,462.0 87.0,460.1 87.4,459.3 88.3,461.1 88.0,459.8 89.7,463.6 89.1,463.4 90.3,461.3 90.8,463.1 92.6,460.1 92.8,459.8 93.7,461.0 94.7,463.4 94.7,463.6 95.1,460.3 96.3,460.3 96.3,461.6 97.7,460.3 97.4,462.6 98.6,462.6 100.3,460.3 100.2,460.5 101.3,460.7 101.8,461.1 103.2,461.1 103.0,462.1 103.3,460.5 105.4,461.2 105.3,459.3 105.7,461.1 105.7,461.0 107.5,459.0 108.2,461.1 109.0,461.3 109.8,463.0 109.2,459.9 111.1,462.6 111.1,460.4 112.4,460.0 112.7,460.2 113.4,461.4 113.9,460.9 115.5,460.0 115.8,462.8 116.1,461.0 117.6,461.1 117.2,461.9 118.9,460.8 118.9,461.7 120.5,462.1 121.2,460.8 121.0,462.3 122.7,461.2 122.2,459.6 123.5,459.3 124.7,461.5 124.2,460.2 126.1,462.3 126.8,461.7 126.2,461.6 128.1,461.6 128.0,462.1 128.9,461.9 130.5,460.7 129.5,463.4 131.8,463.6 131.7,463.6 133.3,460.9 133.6,462.8 134.2,461.4 134.2,460.5 134.8,459.5 136.2,460.3 137.3,459.4 138.1,461.8 138.9,462.7 139.5,461.5 138.6,461.5 139.6,459.4 141.2,460.0 141.4,462.2 142.5,460.7 142.6,463.0 143.7,463.0 144.1,461.1 145.2,463.3 145.2,462.3 147.3,461.6 147.8,458.3 148.1,462.1 147.8,460.6 148.9,462.1 149.9,461.8 151.2,460.1 150.6,460.3 151.4,459.4 153.7,461.5 152.8,459.7 153.9,458.9 154.6,460.0 155.8,459.1 155.7,459.7 156.3,461.1 158.1,460.9 157.6,459.7 158.9,460.8 160.3,459.7 161.0,460.6 161.1,459.8 161.9,461.2 162.5,461.6 163.2,460.3 164.1,462.2 163.9,461.3 165.3,462.9 166.9,461.2 167.5,462.8 167.1,461.7 167.5,463.0 169.2,463.0 170.1,462.0 170.7,461.4 170.7,461.2 171.4,460.5 172.6,460.5 172.8,460.7 173.4,461.2 172.2,462.3 171.5,462.2 171.3,461.9 171.0,461.1 170.9,459.6 170.9,459.6 170.9,458.4 171.0,458.8 170.3,457.3 170.9,457.3 170.6,455.7 170.7,455.6 171.4,454.6 171.0,453.9 171.0,453.2 170.8,452.6 171.9,451.8 171.7,450.8 171.7,450.9 171.7,449.9 171.5,449.4 172.1,448.0 171.2,448.1 172.2,447.1 171.7,446.7 171.4,445.3 171.5,445.1 171.7,443.9 172.2,444.2 171.7,443.2 171.9,442.7 172.1,441.1 171.7,440.1 172.1,439.9 171.7,439.2 171.9,439.1 171.8,438.7 172.2,437.4 172.2,437.0 172.6,436.0 172.3,435.5 172.7,434.3 172.6,434.4 172.3,432.7 172.1,432.7 172.6,432.3 172.8,430.6 172.1,429.9 172.1,429.9 172.9,429.4 172.2,428.7 172.3,427.4 172.8,426.2 172.0,426.5 172.3,425.2 172.7,424.9 172.0,423.7 172.5,423.3 172.3,422.7 173.2,421.7 172.7,420.6 172.4,420.7 172.2,420.3 173.2,418.5 173.2,418.2 173.1,418.0 172.5,417.2 172.9,416.7 172.5,415.9 173.3,415.1 172.8,413.6 172.8,413.3 173.1,413.0 172.9,411.6 173.0,411.6 172.5,411.2 173.1,409.5 173.4,408.8 172.7,408.9 173.0,408.0 173.1,407.1 172.7,406.0 172.5,406.1 173.3,405.1 173.3,404.2 172.7,403.5 173.5,402.3 173.1,401.9 173.4,401.4 172.9,400.8 173.1,400.6 172.9,400.0 172.7,398.5 172.7,397.5 173.5,397.7 172.8,396.3 173.1,396.3 173.6,395.6 173.3,394.1 173.1,393.5 173.3,393.3 172.9,392.1 173.6,391.1 173.7,391.6 173.8,390.2 173.4,389.8 173.5,389.7 173.6,388.0 173.8,387.6 173.5,387.2 172.8,386.6 173.6,385.5 173.4,384.7 173.1,384.1 172.9,383.4 173.6,382.6 173.6,382.6 174.0,380.8 173.9,380.8 173.0,379.7 173.2,378.6 173.6,379.1 173.3,378.3 173.8,376.6 174.0,376.5 174.1,376.0 173.9,374.8 174.0,374.9 174.1,373.5 174.0,372.9 173.2,371.6 173.2,371.1 173.3,370.8 173.9,370.1 173.6,369.6 173.5,368.6 174.1,367.9 173.4,367.9 174.0,366.4 173.6,365.9 173.9,364.8 173.2,364.1 174.2,363.3 173.8,362.7 173.5,361.9 173.8,361.2 173.3,360.4 173.5,360.3 173.4,358.9 173.9,358.8 174.2,357.6 173.8,357.3 173.4,357.4 173.6,355.5 174.0,354.9 174.2,354.5 173.6,353.4 174.3,353.0 174.4,352.5 174.6,351.6 173.8,350.9 174.5,350.7 173.9,349.2 174.3,349.8 174.2,347.7 173.6,347.1 173.8,346.3 173.6,346.5 174.7,345.2 174.8,344.9 174.6,344.8 174.8,342.8 174.0,342.9 174.8,341.5 174.0,341.9 173.8,340.5 174.1,340.3 174.8,338.8 174.6,338.9 174.8,338.0 174.9,337.0 174.3,336.1 174.7,335.8 174.2,334.6 174.7,334.5 174.7,333.5 174.5,332.5 174.7,331.6 174.5,332.0 174.7,330.3 174.2,330.7 174.7,330.0 175.0,328.7 175.1,328.4 174.4,327.2 174.1,326.6 175.2,325.4 174.7,324.8 174.2,324.8 174.4,323.3 174.3,323.4 174.8,321.8 174.4,322.5 174.4,321.2 174.7,320.8 174.9,320.1 174.8,318.6 174.4,317.7 175.2,317.1 174.3,317.6 174.5,316.8 174.4,315.5 174.5,315.3 175.0,314.3 175.2,313.9 174.7,312.8 174.9,311.5 175.3,311.4 175.3,310.2 175.0,309.9 175.2,308.6 174.8,308.5 174.5,307.9 175.3,307.0 175.2,306.6 174.7,305.5 175.6,304.8 175.0,303.7 174.7,303.1 175.6,303.2 175.5,302.9 175.2,302.1 175.1,300.7 175.6,300.7 175.6,299.4 175.4,298.6 175.7,298.6 174.9,297.9 174.8,296.0 175.4,295.6 175.2,295.4 174.6,294.8 174.9,293.7 175.0,293.4 175.5,292.1 174.7,291.4 175.1,290.4 174.8,290.7 175.4,290.3 175.8,289.4 175.0,287.7 175.0,287.5 175.2,286.9 175.0,286.6 174.9,285.4 175.7,285.1 175.0,283.6 175.6,282.6 174.8,282.6 175.2,281.4 174.7,280.8 175.5,280.5 175.8,280.2 175.8,278.5 174.8,277.7 175.1,277.5 174.7,277.1 174.7,276.0 174.9,276.0 175.1,274.6 174.7,274.1 175.4,273.8 175.7,273.2 174.9,271.6 175.5,271.8 175.2,271.2 175.3,269.7 174.8,268.6 175.4,269.2 175.7,267.9 175.4,267.8 175.6,266.7 175.1,265.8 174.8,264.7 175.4,265.1 175.3,263.6 175.0,262.9 175.6,262.2 175.8,261.1 175.0,260.9 175.1,260.7 175.6,260.1 175.4,258.1 175.3,258.2 175.2,257.1 175.5,257.3 174.8,256.2 175.1,255.3 175.7,255.3 175.4,253.5 175.7,252.8 175.1,253.0 175.0,251.5 175.8,251.7 175.0,250.3 175.0,249.2 175.0,249.7 174.7,247.9 174.9,247.0 175.3,247.2 175.7,246.4 175.6,244.8 175.0,245.5 174.8,243.8 175.3,243.1 175.3,242.1 175.0,242.6 174.9,241.9 174.9,241.3 175.5,240.1 174.9,238.6 175.6,238.1 174.9,238.3 175.8,236.5 175.9,236.5 175.2,235.2 175.2,235.7 175.1,233.8 174.9,233.1 175.2,233.5 174.9,231.8 175.9,232.2 176.0,230.5 175.2,230.7 175.4,229.7 175.2,228.0 175.2,228.4 175.8,227.4 175.4,226.7 175.4,226.0 175.8,224.8 175.6,225.1 175.9,223.4 176.0,223.6 175.1,222.1 175.1,221.1 176.1,220.9 176.0,219.8 174.9,220.1 175.9,219.6 175.8,218.2 175.9,216.9 175.6,216.7 175.1,216.2 175.4,215.4 175.4,214.5 175.4,214.1 176.2,213.9 176.0,213.1 175.4,212.6 175.4,210.7 175.6,210.8 175.5,210.0 175.4,209.8 175.6,208.4 175.7,208.2 176.3,207.0 175.6,206.5 175.2,205.5 176.1,205.3 175.2,204.7 175.6,204.2 175.6,202.4 175.8,202.6 175.7,201.9 176.0,200.5 175.6,200.0 175.7,199.1 176.0,199.1 175.9,197.4 175.5,197.0 176.0,196.0 175.4,195.6 175.6,194.5 176.0,195.0 176.0,194.0 176.3,193.5 176.4,192.2 176.2,191.1 176.4,190.7 176.0,190.8 175.8,189.1 176.4,189.0 175.5,187.5 175.9,186.7 176.5,186.3 175.8,185.9 176.1,185.2 176.3,184.8 176.1,183.3 176.7,183.5 175.7,182.4 176.5,182.5 175.7,180.4 176.2,180.3 176.7,180.2 176.1,178.9 176.4,178.9 176.0,177.5 175.8,177.1 175.8,176.8 176.4,175.6 175.9,174.4 176.4,174.6 176.5,173.1 177.1,172.9 176.5,171.6 176.3,171.9 176.1,170.7 176.7,169.7 176.9,169.8 177.1,168.9 176.3,167.2 176.6,166.9 176.4,166.9 176.4,166.2 177.3,164.5 177.3,164.2 176.5,163.2 176.3,162.9 176.8,162.7 177.3,160.9 176.8,160.7 176.6,159.8 176.7,159.7 176.9,158.2 176.8,158.0 177.2,157.0 177.4,156.2 177.4,156.1 176.8,155.6 177.1,154.6 177.4,154.0 177.3,152.5 177.7,152.9 177.4,151.8 177.2,151.6 177.7,150.0 177.9,150.3 177.4,149.6 177.6,147.8 177.9,147.3 177.9,147.0 177.2,146.2 178.1,145.4 177.8,145.3 177.7,144.0 177.9,143.8 177.5,142.1 178.2,142.0 177.7,141.8 178.5,140.6 178.6,140.3 178.4,138.9 177.5,138.7 178.4,137.6 178.2,137.2 177.9,136.6 178.4,135.5 177.8,135.0 178.1,134.6 178.0,133.4 178.1,132.7 178.6,131.6 178.0,131.4 178.2,130.8 178.2,129.5 178.7,130.0 179.1,128.7 178.6,127.4 178.5,127.0 179.3,126.0 179.4,125.8 178.8,124.8 179.5,124.0 179.1,123.8 178.6,122.7 179.6,122.8 179.4,122.3 178.7,121.3 179.5,119.9 179.2,120.3 179.1,119.3 178.9,118.4 179.1,117.5 179.2,117.3 179.7,116.1 179.7,115.3 179.9,114.4 179.6,114.1 179.5,112.7 179.3,112.8 179.4,112.3 179.7,111.8 180.2,110.8 179.7,109.2 179.9,109.5 180.4,108.0 179.5,108.4 180.3,107.0 180.3,105.8 180.1,105.9 180.2,104.4 179.7,104.4 180.7,103.0 179.6,102.2 180.6,102.0 180.3,102.1 180.5,100.4 180.6,99.3 180.3,99.6 180.2,98.0 180.5,97.7 180.9,96.7 180.8,96.4 180.8,95.8 180.8,94.9 180.5,94.4 180.9,93.5 180.6,92.9 180.5,92.1 180.9,91.7 180.9,90.6 180.6,89.6 180.8,89.1 181.0,88.5 181.2,88.3 181.1,87.8 181.1,86.6 181.0,85.4 181.3,85.3 180.9,85.2 181.2,84.1 181.2,82.7 181.6,82.1 181.2,82.5 181.0,81.1 181.3,80.1 181.7,79.6 181.1,79.0 181.1,78.6 181.7,78.2 181.2,77.2 181.4,76.2 181.4,75.3 181.3,75.0 181.4,74.8 181.4,74.1 181.5,72.2 181.9,72.1 182.0,71.4 181.9,70.1 182.0,70.0 182.2,68.6 181.6,68.8 182.2,67.8 182.1,67.2 181.9,66.4 182.1,65.1 181.9,65.4 181.9,64.3 182.0,63.5 182.3,63.3 182.5,62.2 182.0,61.3 182.0,60.5 182.4,60.3 182.2,59.0 182.1,58.3 182.4,57.7 182.7,57.5 182.4,56.6 182.2,56.3 182.8,55.1 182.8,54.3 182.5,53.5 182.5,53.3 182.9,52.8 182.5,52.2 182.8,50.9 182.9,50.3 182.8,49.5 183.1,49.3 183.4,47.9 183.4,48.0 183.4,47.6 183.1,46.6 183.7,45.0 183.6,45.5 183.5,44.6 184.1,43.4 183.7,42.4 184.4,42.0 184.3,41.4 185.2,40.6 185.2,41.2 185.9,40.9 186.6,41.4 186.1,43.0 186.3,42.7 186.9,43.4 187.0,44.3 186.6,44.8 186.8,46.0 186.8,46.6 186.8,47.7 187.3,48.3 187.2,48.1 186.9,49.0 186.9,50.7 187.4,51.3 187.2,50.9 187.2,51.5 187.5,52.5 187.1,54.2 187.1,54.9 187.2,55.2 187.1,56.2 187.3,56.1 187.5,57.2 187.3,57.2 187.5,57.8 187.8,58.9 187.3,59.6 187.3,60.3 187.6,61.1 187.5,61.7 187.6,63.0 187.6,63.7 187.7,63.5 187.5,65.2 187.7,65.3 187.8,66.6 187.7,66.7 187.7,66.9 187.9,68.2 187.9,68.9 187.9,70.0 187.7,71.0 187.7,71.6 187.7,72.2 187.8,71.9 188.1,73.6 188.3,74.4 188.4,73.9 188.0,74.7 188.3,75.9 188.3,77.1 188.6,77.6 188.5,78.1 188.0,79.3 188.0,78.9 188.6,79.8 188.5,80.2 188.2,81.8 188.1,82.3 188.7,82.5 188.6,84.0 188.6,84.7 188.7,84.4 188.3,85.8 188.9,86.0 188.7,86.6 188.9,87.8 188.7,88.8 188.5,89.6 189.0,90.4 188.6,90.3 188.6,91.9 188.8,91.9 188.9,93.0 188.8,93.2 189.1,94.5 188.9,94.2 189.3,95.8 189.1,96.1 189.4,96.8 189.0,97.1 189.1,98.5 189.1,99.6 189.4,99.7 189.5,100.6 189.5,101.1 189.5,101.8 189.9,102.1 189.9,102.9 190.0,103.3 189.6,104.5 189.9,104.9 189.5,105.5 189.9,106.8 189.3,106.9 189.5,108.7 189.9,108.9 189.8,109.7 190.5,110.4 189.6,110.8 190.2,110.9 190.6,112.0 190.1,113.2 190.5,113.7 190.9,114.4 190.3,114.5 190.7,115.6 190.7,116.2 190.1,116.5 190.4,117.3 191.3,118.7 190.6,119.5 191.2,119.3 191.4,120.3 191.7,120.8 190.9,121.7 191.7,123.2 191.4,122.9 191.3,124.4 190.9,125.4 191.9,126.1 191.8,126.4 192.2,126.6 191.5,127.1 191.4,128.7 191.4,129.3 191.8,130.2 192.3,130.7 192.5,130.5 191.9,131.6 192.1,132.7 192.7,133.5 192.9,134.2 192.3,134.6 192.8,135.7 192.4,135.8 192.8,136.3 193.2,136.7 193.0,138.0 192.5,138.9 192.9,140.1 193.5,140.3 193.5,141.4 192.8,142.0 193.7,142.9 193.6,142.8 193.1,143.8 193.1,144.7 193.7,145.5 193.5,145.4 194.2,146.6 193.7,147.2 193.8,148.0 194.0,148.2 194.7,149.7 194.5,149.6 193.9,150.9 194.7,151.5 194.1,152.3 194.5,152.5 194.7,153.3 194.9,154.4 195.3,154.2 194.9,156.1 195.1,156.2 195.4,156.2 195.4,157.7 195.2,158.0 195.4,158.4 195.3,159.3 195.9,160.7 195.4,161.4 195.3,161.7 195.1,162.9 195.9,163.5 195.1,164.2 195.1,164.6 195.7,164.6 195.7,166.4 196.0,166.3 196.3,167.1 196.4,167.8 195.5,169.3 195.5,169.0 196.4,169.5 196.2,171.3 196.3,171.3 196.5,172.6 196.3,173.1 196.1,173.4 196.9,174.9 195.8,174.5 196.1,176.1 196.1,175.9 196.8,176.6 197.1,177.7 197.1,178.9 196.3,179.6 196.6,179.5 196.2,180.8 196.8,181.0 197.2,181.5 196.8,182.1 196.7,183.9 196.9,183.6 196.7,185.0 196.8,186.0 196.5,186.7 197.3,187.3 197.0,186.9 196.8,188.4 196.7,188.4 197.7,190.2 197.9,190.8 197.6,191.6 197.8,191.8 197.6,191.8 197.2,192.8 197.8,193.3 198.4,194.6 198.3,195.8 197.7,196.4 198.7,196.3 197.8,197.7 198.8,198.4 198.3,198.8 198.0,199.0 198.5,200.4 198.2,201.4 198.2,202.1 198.5,202.6 199.3,203.5 199.0,203.8 198.9,204.7 198.7,205.5 199.4,205.0 199.9,206.1 198.9,206.7 198.9,207.4 199.8,209.1 199.8,209.6 200.1,210.1 199.6,210.2 199.4,211.3 199.5,212.2 199.7,212.7 200.0,213.5 199.8,213.7 200.2,214.3 200.2,216.0 200.1,216.7 200.3,217.4 200.3,217.8 200.4,217.8 200.3,219.0 200.3,219.8 200.7,220.7 200.7,220.5 200.6,221.9 200.8,221.7 200.3,223.7 200.5,224.1 200.7,224.3 200.6,225.3 201.0,225.9 200.9,226.3 200.9,227.4 201.0,228.5 200.5,229.3 200.9,229.0 200.9,229.5 200.7,231.2 201.1,232.0 200.8,231.6 201.0,232.9 201.2,233.3 201.3,234.4 201.0,235.4 200.9,235.8 201.0,235.7 201.2,237.1 201.4,237.6 201.6,238.9 201.1,238.5 201.7,239.7 201.2,240.1 201.6,240.8 201.4,242.2 201.4,242.9 201.9,243.8 201.7,244.2 201.5,244.9 201.8,245.6 201.7,246.5 201.5,247.1 202.1,246.9 201.6,248.9 201.5,249.4 201.9,249.0 202.0,249.7 202.2,250.8 202.3,252.3 201.7,252.3 201.8,253.5 201.8,253.2 201.8,255.0 202.0,255.0 202.1,256.0 202.1,257.3 202.1,257.3 202.5,257.7 202.1,259.2 202.2,260.0 202.6,260.0 202.3,260.3 202.7,261.4 202.4,261.8 202.3,263.5 202.3,263.7 202.7,264.4 202.7,264.9 202.5,266.2 203.0,266.5 202.6,267.7 202.6,267.4 203.0,269.0 203.0,268.7 203.3,269.4 202.9,271.3 203.3,271.7 202.9,272.5 203.2,272.0 203.5,274.0 203.0,274.0 203.7,274.6 203.3,275.9 203.5,276.9 203.9,277.4 203.8,277.2 203.9,278.4 203.8,279.1 203.8,279.2 204.3,280.2 203.8,281.7 204.1,282.0 204.1,282.0 204.2,283.6 204.2,284.4 204.3,285.1 204.3,285.2 204.3,285.4 204.7,286.4 204.8,286.9 204.7,287.8 205.2,288.1 204.9,289.9 205.1,289.8 205.5,290.3 205.0,290.8 205.2,292.7 205.2,292.6 205.6,293.0 205.2,294.5 205.3,295.0 205.4,295.8 206.0,296.3 205.7,297.2 206.0,297.1 205.8,298.3 206.0,298.8 206.2,299.5 206.5,300.3 206.1,300.7 206.1,301.5 206.7,302.5 206.4,304.0 206.9,304.4 206.4,304.5 206.7,305.1 206.7,305.7 206.7,307.2 207.0,307.4 207.0,308.4 207.2,308.2 207.4,309.5 207.1,310.9 207.5,310.8 207.0,311.6 207.4,312.2 207.2,313.2 207.4,314.1 207.7,314.2 207.9,315.1 207.5,315.6 207.5,316.5 208.2,317.9 208.1,317.5 207.9,318.2 208.0,319.5 207.9,320.0 208.2,321.0 208.6,321.3 208.5,321.8 208.4,323.0 208.2,323.5 208.6,323.8 208.5,325.4 208.6,325.2 208.6,326.3 208.8,326.8 208.8,327.3 209.0,328.5 208.8,329.2 209.0,330.5 209.5,330.0 209.4,331.0 209.0,332.4 209.7,333.0 209.5,334.0 209.5,334.2 209.7,335.2 209.9,335.1 209.5,336.1 209.8,336.6 210.1,338.0 210.0,338.2 210.1,338.4 210.2,339.0 210.4,340.4 210.0,340.5 210.3,341.6 210.4,341.8 210.6,342.9 210.3,344.1 210.5,344.4 210.4,345.1 210.3,345.5 210.9,346.0 210.4,347.7 210.7,348.0 210.9,348.9 210.8,349.7 210.6,350.5 210.9,350.9 211.0,351.8 211.1,352.2 211.1,353.3 211.5,353.1 211.6,354.8 211.3,354.5 211.8,356.2 211.3,356.7 212.0,356.6 211.9,357.4 212.0,358.4 211.9,358.5 212.1,360.0 211.9,359.8 211.8,360.8 212.6,362.2 212.6,362.9 212.1,363.1 212.8,364.4 212.9,365.1 212.8,365.7 213.0,365.9 212.5,366.4 212.6,367.1 213.1,367.8 212.9,368.2 213.1,369.5 213.4,370.8 213.1,370.5 213.2,372.2 213.7,372.5 214.0,372.2 214.2,373.4 214.1,374.2 214.3,374.7 214.1,375.3 214.5,376.3 214.2,376.9 214.7,377.6 214.8,378.9 214.9,379.6 214.8,380.4 215.4,380.6 214.9,380.6 215.5,382.4 215.6,382.6 215.6,382.7 215.8,384.7 215.6,384.8 216.2,385.6 216.0,385.7 216.4,387.3 216.6,387.3 216.7,388.5 216.5,389.1 216.7,389.0 216.6,390.5 217.2,390.2 216.9,391.3 217.1,392.5 217.2,393.0 217.6,393.4 218.0,394.2 217.9,395.2 218.0,395.2 218.5,396.7 218.4,397.0 218.6,397.4 218.3,398.4 219.1,398.5 219.3,399.6 219.4,400.8 219.1,400.7 219.7,402.5 219.8,402.6 219.7,403.5 220.1,404.3 219.9,405.0 220.5,405.3 220.0,405.4 220.6,406.5 221.0,407.4 221.0,407.4 221.0,408.9 221.4,409.9 221.1,410.0 221.8,410.1 221.3,410.9 222.0,411.8 222.1,413.1 222.4,412.7 222.5,414.5 222.7,415.2 222.9,415.6 223.1,416.1 222.8,416.4 223.5,417.2 223.4,418.6 223.8,419.2 223.8,419.4 223.7,419.7 224.0,420.8 224.5,420.8 224.8,421.6 224.8,422.1 225.1,422.9 225.6,423.9 225.7,424.7 225.6,425.9 225.8,426.1 226.3,427.5 226.6,426.8 226.6,428.7 227.2,428.6 226.9,429.1 227.6,429.6 227.9,430.4 228.1,431.6 228.0,432.0 228.5,432.3 228.8,433.5 229.3,433.6 229.1,434.6 229.7,435.2 230.2,435.4 230.2,436.4 230.3,437.0 230.8,437.5 231.4,439.0 231.9,438.5 231.8,440.2 232.0,439.6 232.3,441.4 233.0,441.2 233.1,442.5 234.1,442.8 234.4,443.2 234.4,443.2 234.8,443.7 235.2,444.2 235.4,445.9 236.4,446.4 236.5,446.4 237.1,447.4 237.4,447.5 238.1,448.5 238.4,447.8 239.0,449.5 239.4,449.6 239.9,449.5 240.8,449.7 241.3,450.7 241.9,451.2 242.8,450.9 243.4,451.8 244.0,451.8 244.6,452.3 245.7,449.9 246.2,451.6 246.4,452.5 246.7,450.8 248.0,451.1 247.8,451.7 248.3,451.4 249.8,452.4 251.5,454.4 250.6,454.6 251.9,453.2 251.6,456.2 252.7,454.7 253.6,455.8 254.3,455.4 255.6,454.9 256.8,456.9 257.9,455.1 258.0,457.8 258.8,457.1 258.2,457.5 260.1,454.2 260.8,451.5 261.8,455.1 262.9,451.0 262.9,453.9 262.3,454.1 263.1,453.3 263.4,454.7 266.1,455.0 266.7,455.6 265.8,453.7 268.3,454.6 267.7,454.3 268.6,457.2 268.9,457.3 270.5,453.9 270.1,453.6 272.1,454.1 272.6,454.9 273.6,452.4 274.3,453.5 274.0,451.1 274.8,453.8 276.4,451.9 276.6,450.9 277.4,452.7 278.5,456.2 277.5,458.2 278.5,459.7 281.1,456.4 280.2,456.1 282.4,459.2 283.2,458.5 282.4,457.3 283.1,454.1 284.0,455.1 284.4,453.7 285.7,454.0 286.2,451.7 287.1,451.4 288.2,449.1 287.6,449.0 288.9,453.0 290.0,452.2 291.5,453.6 290.7,451.3 292.0,451.8 292.8,451.9 293.0,455.9 293.4,454.0 295.3,454.2 296.3,456.2 297.0,455.8 296.7,455.0 296.4,458.9 297.5,455.3 299.9,457.4 299.8,459.2 300.8,456.0 300.5,456.8 302.1,453.6 301.8,453.9 302.0,456.0 304.1,453.7 304.7,456.6 304.2,455.3 306.6,454.9 307.1,453.3 308.5,456.1 308.1,453.6 308.3,454.3 309.2,453.9 309.5,453.3 309.9,451.9 311.5,452.9 312.3,458.8 313.4,460.7 312.6,457.3 313.6,456.3 315.0,453.0 316.3,451.5 315.4,456.2 317.8,455.8 316.6,453.3 319.2,456.0 318.9,455.3 320.6,453.0 321.2,458.8 322.1,459.5 321.8,456.7 321.7,456.1 323.7,452.7 323.0,453.2 324.5,458.6 325.4,460.1 325.4,455.3 326.2,453.4 328.3,451.7 327.8,454.7 328.8,457.5 330.1,459.0 330.2,457.0 330.9,459.8 332.8,457.7 332.4,454.9 334.0,457.1 333.6,454.5 334.5,456.4 334.7,453.5 336.0,453.8 335.5,452.2 337.0,455.8 337.8,453.0 338.1,454.1 340.1,454.4 341.3,454.9 340.1,453.1 341.5,455.0 342.9,455.2 343.0,452.1 344.7,453.0 343.7,452.5 345.2,456.4 345.3,456.1 345.3,459.4 347.6,456.7 347.2,459.1 349.0,455.5 350.4,457.6 350.4,455.1 351.7,455.1 351.7,458.4 352.8,455.4 351.8,456.5 352.5,459.9 354.2,458.0 354.5,458.1 355.4,458.2 356.0,457.8 357.7,456.7 358.2,454.1 358.1,458.5 358.7,458.3 359.0,459.7 360.2,457.5 361.5,456.9 361.2,457.4 362.4,456.2 363.1,457.4 364.4,457.9 364.9,456.1 365.1,457.2 365.4,458.5 366.4,459.1 367.6,458.4 367.9,458.8 368.4,457.5 369.4,457.8 369.9,458.8 371.2,457.7 371.0,458.2 372.0,456.7 373.3,458.9 373.4,458.2 374.8,458.3 374.9,457.5 375.2,459.4 376.8,458.0 377.3,458.3 378.2,459.0 378.8,459.6 378.8,459.9 380.1,458.8 380.1,458.9 381.6,459.9 382.0,458.9 383.0,457.4 383.4,458.7 384.1,457.9 385.1,457.4 385.5,458.6 386.3,459.4 386.7,458.7 387.6,457.4 388.7,459.1 389.1,457.8 389.6,458.1 390.3,457.8 391.7,458.0 391.5,458.7 392.0,457.9 393.3,459.0 393.7,457.2 395.2,457.1 395.2,458.7 396.6,458.8 396.4,459.2 397.3,458.6 398.6,459.0 399.1,457.9 399.7,459.7 399.9,460.2 400.7,460.1 402.2,459.9 402.9,460.1 403.0,461.8 403.9,459.2 404.0,459.6 405.0,457.7 406.2,458.6 407.0,459.3 406.9,460.0 408.3,461.2 408.7,459.4 409.4,459.3 409.9,458.4 410.2,460.2 411.8,458.2 412.3,458.2 413.2,460.3 413.8,460.6 414.2,461.5 414.7,459.5 415.2,461.4 416.1,459.0 417.1,458.9 417.7,460.1 418.1,459.5 419.7,461.1 420.3,459.6 421.1,460.4 420.8,460.7 421.5,459.9 422.1,458.1 423.3,460.1 424.1,461.3 424.3,461.2 425.2,461.8 426.3,461.2 426.4,461.2 427.3,458.8 428.1,459.5 428.7,459.2 429.8,459.4 429.9,460.6 431.3,461.3 431.4,461.1 432.8,461.1 432.8,459.6 434.4,461.3 434.3,461.5 435.3,460.8 435.8,460.3 436.5,459.1 437.1,460.1 438.5,459.5 438.2,459.8 439.8,460.2 439.6,460.7 440.8,458.8 441.8,459.9 442.7,460.7 443.3,460.8 443.5,460.6 444.3,460.2 444.7,460.2 445.2,460.7 446.1,460.1 447.6,460.7 448.3,459.7 448.0,461.1 449.0,460.8 449.8,459.8 450.7,460.0 451.7,460.1 451.6,460.0 452.3,460.8 453.1,459.6 454.3,459.6 455.3,460.6 455.3,459.8 456.5,460.0 457.1,459.6 457.7,460.2 458.8,459.6 459.4,459.3 459.5,459.3 461.0,459.0 460.9,459.9 462.1,460.4 462.1,459.7 463.5,459.1 463.5,460.8 464.0,459.0 465.0,460.8 465.9,459.8 466.8,460.9 466.9,459.3 468.0,460.4 468.4,459.9 469.6,459.0 470.0,459.0 471.4,458.9 471.2,460.3 472.0,460.2 472.9,461.2 473.8,459.7 474.1,460.0 475.5,460.6 476.1,460.1 477.1,459.8 477.3,461.2 478.3,460.0 479.0,460.7 479.1,459.8 480.4,459.8 480.6,460.2 480.9,459.5 482.7,459.5 483.2,458.9 483.3,460.1 484.0,461.2 485.5,459.6 485.2,461.1 486.7,460.2 486.5,458.9 488.0,460.6 488.4,459.7 488.9,459.8 489.7,460.4 490.4,459.7 490.9,460.5 492.5,459.4 493.0,460.5 493.0,459.3 494.4,459.3 494.3,459.2 495.8,459.9 495.5,459.6 496.9,460.1 497.1,461.0 498.5,459.6 498.7,459.6 499.1,460.4 500.1,460.6 501.4,459.8 501.5,459.9 502.4,459.1 503.0,459.8 503.4,461.0 504.8,460.2 504.7,460.8 505.8,461.1 506.8,459.6 507.6,460.4 507.9,460.9 508.5,459.4 508.9,460.5 509.9,459.4 510.3,460.9 511.3,461.1 512.7,461.0 512.6,461.3 513.8,461.1 514.8,459.8 514.9,461.2 515.5,459.3 515.9,460.4 516.9,461.3 517.3,460.0 518.8,460.5 519.6,460.6 520.4,461.4 521.1,460.5 520.9,460.4" stroke="#0a0ad2" />
<path d="M65.5,457.5 66.5,457.8 66.6,458.9 68.9,461.2 69.3,459.9 69.6,460.6 69.6,459.5 70.4,461.9 72.2,461.3 72.8,459.6 72.7,461.6 74.1,462.9 75.1,460.3 75.3,462.7 75.8,461.0 76.5,460.2 78.0,462.6 78.0,460.1 79.3,460.6 80.0,461.1 80.0,459.1 80.9,459.1 80.8,458.6 82.7,457.9 82.0,461.0 83.1,461.6 84.1,461.4 85.8,460.3 85.4,459.8 86.5,459.6 86.7,461.1 87.4,460.3 89.1,458.7 88.3,459.9 90.3,462.0 90.0,461.3 90.6,460.8 91.1,460.7 93.3,461.2 93.7,462.1 93.1,460.5 95.5,462.6 95.2,462.1 96.3,460.6 96.4,457.8 97.4,458.1 98.0,461.6 98.6,458.5 98.8,458.9 100.8,459.5 100.6,458.7 102.6,460.6 101.9,460.1 102.3,460.8 104.1,460.1 103.7,460.7 104.7,462.2 105.2,460.6 107.1,460.3 108.2,460.7 107.5,460.8 107.9,461.1 108.9,462.9 110.7,461.3 110.0,460.2 111.0,460.0 111.7,462.6 112.3,459.9 114.4,461.9 115.2,461.3 115.7,462.2 116.2,462.3 116.4,459.0 116.6,460.9 118.5,460.5 118.2,459.6 119.7,459.6 120.5,459.4 120.9,460.3 120.9,461.5 122.8,458.6 123.5,461.8 123.7,458.5 124.8,458.9 125.6,461.4 124.7,460.1 126.4,461.7 127.3,462.1 127.1,458.0 129.1,457.8 129.7,459.1 130.3,462.6 131.1,462.4 131.8,460.9 132.1,461.2 133.2,462.6 133.1,461.5 133.0,459.5 134.8,460.9 136.0,460.8 135.3,459.5 137.2,459.9 136.5,461.7 138.7,459.6 138.9,461.1 140.0,460.7 139.7,461.3 141.7,459.9 140.9,461.9 143.0,461.7 142.9,462.9 144.2,459.4 145.1,459.2 144.7,461.2 145.7,461.6 145.9,462.5 146.6,460.1 147.9,460.1 148.7,461.4 149.7,457.8 149.7,460.0 150.7,460.9 151.4,458.7 151.6,461.1 152.5,460.5 154.4,459.7 154.5,459.8 154.6,461.1 155.5,461.4 156.0,462.1 157.5,462.0 157.6,460.9 158.9,461.7 159.4,461.0 159.0,460.8 161.1,459.9 161.9,459.6 162.0,458.9 162.8,458.6 163.1,462.2 163.4,461.4 164.4,459.3 164.5,457.6 166.9,460.0 167.3,460.4 168.3,458.5 168.4,460.0 169.0,461.7 170.1,461.9 169.6,460.8 171.1,460.9 171.8,461.0 172.3,461.2 173.0,460.9 174.0,461.3 173.4,461.1 172.7,461.8 172.5,462.1 171.4,461.2 171.2,460.6 170.7,459.6 170.5,459.6 171.2,459.0 170.9,458.8 171.3,457.0 170.7,457.4 171.9,456.7 171.5,455.1 171.0,454.3 171.2,454.6 172.1,453.7 171.3,452.2 171.5,452.5 171.4,451.6 172.1,450.6 172.5,449.5 172.0,448.6 171.6,447.8 171.9,447.2 171.6,447.7 172.0,446.9 172.5,445.9 172.5,445.6 172.8,444.5 172.5,443.8 172.7,442.9 172.5,441.6 172.9,441.4 172.0,440.3 173.0,439.7 172.5,439.6 173.1,438.4 172.5,437.8 172.1,437.8 172.2,437.2 172.4,435.3 173.2,435.6 172.5,434.5 172.8,434.0 172.5,433.5 173.5,432.6 173.4,432.2 172.8,431.4 173.3,430.4 172.5,429.7 173.5,428.6 173.2,428.7 173.1,426.8 173.2,426.4 173.5,426.3 172.8,425.9 173.2,424.4 173.5,424.5 173.6,423.8 173.3,422.8 173.3,421.9 173.7,420.9 172.7,420.7 173.2,419.8 173.3,418.7 172.9,417.7 173.6,418.2 173.5,416.4 173.8,416.7 173.3,414.8 173.7,415.0 173.4,413.5 173.6,412.8 173.3,412.2 173.2,412.6 173.6,411.8 173.1,410.5 173.5,409.3 173.3,409.9 173.7,409.0 173.2,408.1 173.8,407.4 173.4,406.0 172.9,406.3 174.0,404.7 173.8,404.2 173.7,404.1 173.3,403.1 173.3,402.3 173.0,401.2 173.3,401.4 173.2,400.5 173.1,400.1 173.2,398.2 173.3,398.6 173.9,397.9 173.7,396.1 173.5,395.9 174.3,394.8 173.4,395.0 173.3,394.5 173.5,393.2 174.0,393.0 173.3,392.2 173.4,391.3 173.3,390.7 173.5,389.2 173.3,388.7 173.7,388.9 174.0,387.4 174.5,386.4 173.6,386.8 174.5,385.7 174.5,384.1 174.5,384.3 174.2,383.8 173.5,382.2 173.6,381.9 174.1,381.3 173.9,380.9 174.5,380.2 173.5,378.7 173.8,378.1 174.2,377.3 174.3,376.8 174.0,376.6 174.7,375.2 174.0,375.6 173.9,373.6 173.9,374.0 174.5,373.5 174.3,371.5 174.1,371.8 174.2,370.2 174.2,370.0 174.2,369.3 173.9,368.0 174.7,368.3 174.3,366.7 174.2,366.6 174.9,365.8 175.0,365.2 174.1,364.6 174.6,363.9 174.8,362.4 174.4,362.8 174.1,361.0 174.2,360.6 174.5,360.0 174.7,359.1 174.4,359.1 174.7,358.8 175.1,357.1 174.4,356.8 174.7,355.9 175.1,354.9 174.7,354.1 175.2,354.1 175.3,352.8 175.0,352.7 174.2,352.3 175.2,350.6 175.3,350.9 174.9,349.8 174.5,348.4 174.8,348.9 174.5,347.6 174.6,347.2 175.4,346.8 174.7,345.4 174.3,344.9 175.4,344.6 174.5,343.4 174.5,342.6 175.5,341.8 175.4,342.0 175.4,340.2 175.6,340.5 175.7,338.6 174.5,338.3 175.1,337.8 174.6,337.4 175.4,336.6 175.2,335.8 175.4,334.4 175.1,333.8 174.8,334.0 175.0,332.7 175.0,332.4 174.8,331.8 174.8,331.5 174.9,330.5 175.4,329.4 175.1,328.6 175.7,328.1 175.4,327.0 175.6,326.2 175.4,326.2 175.5,325.4 175.6,324.1 176.0,324.1 175.8,323.8 175.5,322.2 175.3,321.5 175.3,320.8 175.2,320.3 175.3,319.5 175.8,318.7 176.1,318.7 175.4,318.0 175.3,316.3 176.3,315.5 175.1,316.0 175.1,315.0 175.8,313.7 175.4,314.0 175.6,312.3 175.7,312.3 175.5,310.7 176.2,310.0 175.3,309.2 176.4,309.1 176.1,308.5 176.4,307.5 175.7,307.3 175.3,306.2 176.2,305.8 175.9,305.6 175.8,304.6 175.8,303.0 175.8,302.5 175.4,301.9 175.5,301.4 176.3,301.1 176.5,299.8 176.2,299.9 175.9,299.2 175.6,298.6 176.5,297.9 176.4,296.9 176.0,296.2 176.5,295.3 176.2,295.1 175.8,293.5 175.5,293.6 176.3,292.6 175.8,291.2 176.1,291.5 175.9,290.2 176.0,290.1 175.7,289.4 175.6,288.4 176.5,287.4 176.4,286.5 175.7,285.9 175.9,285.7 176.2,284.9 176.7,284.4 176.5,283.9 176.7,282.9 176.0,281.9 176.5,281.6 176.7,280.8 176.4,279.4 176.4,278.6 176.4,277.9 175.6,278.3 176.7,276.7 175.7,276.7 176.6,275.1 176.6,275.3 176.3,273.9 175.7,272.9 176.2,273.1 176.4,271.7 176.6,270.8 176.4,270.2 175.7,269.5 176.6,268.9 175.7,268.5 176.1,268.0 176.4,267.5 176.8,266.2 176.4,265.2 176.0,264.5 176.7,264.1 176.6,264.2 176.2,262.6 176.0,262.3 176.2,261.0 176.7,261.1 176.8,260.7 176.6,259.9 176.6,258.7 176.7,258.7 175.9,256.9 175.9,256.6 176.8,256.0 176.8,255.1 176.4,254.2 176.5,253.5 175.8,253.0 176.4,253.0 176.1,252.4 176.8,250.6 176.7,251.0 177.0,249.9 176.3,249.0 176.6,248.4 176.0,248.1 176.5,246.3 176.2,245.6 176.4,244.9 176.5,244.5 176.8,244.4 176.1,243.8 176.6,242.3 177.0,241.3 176.4,241.4 176.1,240.6 177.0,239.7 176.8,238.7 177.1,239.1 176.1,238.1 176.3,236.4 176.2,236.7 176.5,235.7 176.1,234.5 176.4,234.3 177.0,233.5 176.4,233.4 176.8,232.5 177.0,231.4 176.4,230.2 176.8,230.4 177.1,230.0 176.7,228.7 177.2,227.4 176.5,227.3 176.8,226.7 176.3,225.9 176.3,225.0 176.4,224.2 176.9,223.6 176.4,223.0 177.0,222.1 176.5,221.6 177.0,220.3 177.0,219.6 177.3,219.1 177.2,218.2 176.9,217.8 177.2,217.9 176.4,216.1 177.2,216.0 176.8,215.2 176.8,214.8 176.8,213.5 176.9,214.0 177.3,212.9 177.5,211.8 176.8,211.6 176.5,210.8 176.6,209.9 177.1,209.5 176.5,208.6 177.5,207.0 177.3,206.7 177.4,206.9 176.5,205.4 177.1,205.5 177.7,203.5 176.7,203.3 177.5,203.2 177.3,202.7 177.6,201.9 177.4,200.3 177.5,200.3 177.8,198.8 176.7,198.4 177.0,197.7 176.8,197.3 177.2,196.1 176.9,195.9 176.9,195.6 177.1,194.9 177.0,193.5 177.8,193.0 177.4,192.8 177.1,192.1 177.5,190.6 177.3,189.9 177.7,189.4 177.6,189.0 178.0,188.4 177.3,187.6 177.8,187.3 177.5,186.0 177.9,185.1 177.5,184.8 177.5,184.4 177.5,182.8 177.9,182.6 178.3,182.4 177.7,181.0 178.0,180.4 177.9,179.5 178.3,179.5 178.2,178.6 178.4,177.2 178.5,176.5 177.5,176.2 177.6,175.1 178.1,174.3 177.9,173.9 178.6,172.8 178.1,172.6 177.7,171.8 178.0,171.1 178.3,170.7 178.2,169.8 178.4,169.2 177.8,168.7 178.2,168.3 177.9,167.2 178.1,166.6 178.8,165.9 178.5,165.6 178.2,165.0 178.4,163.8 178.1,162.2 178.2,162.3 178.3,161.9 178.2,161.0 179.2,160.4 179.2,159.9 179.2,158.1 178.8,157.7 178.8,157.6 179.2,156.2 178.5,155.3 179.2,155.7 178.5,154.0 178.6,154.5 178.6,153.2 179.6,152.0 179.4,151.5 179.4,151.0 178.8,150.9 179.3,150.3 179.5,149.6 179.6,147.6 178.9,148.2 179.7,147.2 180.0,145.9 179.8,145.6 179.1,144.8 180.2,144.1 180.1,142.7 179.7,142.6 179.9,142.4 179.9,141.3 180.0,140.8 180.1,139.7 179.8,139.7 179.9,138.7 179.9,138.4 179.9,136.9 180.1,136.9 180.6,135.3 180.1,135.3 180.4,133.8 180.0,133.9 180.7,133.3 180.1,132.1 180.2,131.6 180.4,130.4 180.8,129.6 181.2,128.9 180.6,129.0 180.6,127.7 181.3,127.4 181.4,127.1 181.6,125.3 181.0,125.1 180.9,125.0 181.1,124.4 180.8,123.0 181.5,122.8 181.4,122.3 181.2,120.8 181.2,119.9 181.6,119.9 181.3,118.9 181.6,118.9 181.8,118.0 181.5,117.4 181.3,115.6 182.1,115.5 182.1,114.9 181.9,114.3 182.0,113.5 182.5,112.4 182.6,112.4 182.9,110.6 182.3,110.1 182.1,109.8 182.9,108.6 183.0,108.9 183.2,108.1 182.4,107.4 182.9,106.0 183.2,105.4 183.4,105.5 182.9,103.8 183.5,103.1 182.7,103.4 182.9,101.9 183.2,101.8 183.0,100.5 182.9,99.8 183.7,99.6 183.7,99.3 183.3,97.7 183.8,97.1 184.2,96.2 184.2,96.2 184.1,95.8 184.0,94.3 184.1,94.2 184.4,93.3 184.5,92.7 184.6,91.2 184.7,91.1 184.4,89.8 184.7,89.3 184.6,89.0 184.5,87.9 184.5,87.4 185.1,86.5 184.8,85.7 185.1,85.8 184.9,85.2 184.9,83.6 185.0,83.8 185.1,83.0 185.3,81.7 185.3,81.8 185.6,81.2 185.9,80.0 185.8,79.3 186.0,79.2 185.8,77.4 186.5,77.4 186.3,76.4 186.0,75.4 186.6,74.8 186.6,74.4 186.4,73.1 186.4,73.3 186.6,72.3 186.9,72.0 186.7,70.8 187.3,70.5 187.2,69.7 187.5,69.4 187.4,67.6 187.3,67.7 187.8,66.7 187.9,65.7 187.8,65.2 188.2,65.4 188.1,63.5 188.3,63.9 188.9,62.0 188.6,61.9 189.1,61.4 189.0,61.3 189.4,60.5 189.7,60.0 189.8,59.0 189.9,58.2 190.4,57.9 190.6,56.9 190.5,55.8 190.7,55.9 191.1,55.0 191.3,53.4 191.4,53.1 192.1,52.9 192.0,52.1 192.7,51.5 192.9,50.6 193.1,50.7 193.5,50.0 194.4,50.0 194.8,49.1 195.8,49.1 196.4,48.5 196.6,49.0 197.2,49.1 197.9,49.6 198.6,49.7 199.0,49.9 199.7,50.9 200.0,50.9 199.7,51.6 200.2,53.4 200.3,53.4 201.0,53.7 200.9,54.2 201.0,55.4 201.5,55.6 201.8,56.6 202.1,56.9 202.1,58.4 202.7,58.9 202.7,59.3 203.1,60.1 203.8,60.4 203.7,61.4 204.0,61.5 204.0,62.8 204.7,63.5 204.8,64.2 205.5,63.9 205.7,64.3 205.9,65.9 206.2,65.9 206.3,66.4 206.9,67.6 207.1,68.1 207.1,69.4 207.7,69.7 207.8,70.6 207.8,70.5 208.4,71.6 208.6,72.3 208.6,72.1 209.1,73.9 209.2,73.7 209.7,74.2 209.5,75.4 209.9,76.3 209.8,77.2 210.2,77.3 210.3,77.8 210.9,79.2 210.9,78.7 211.6,80.5 211.6,80.6 212.1,81.2 212.0,81.8 212.1,82.2 212.4,82.6 212.7,84.2 213.3,84.0 213.1,85.7 213.8,85.6 213.5,87.0 213.8,87.4 214.4,87.5 214.2,88.6 214.3,89.2 214.8,89.7 215.1,90.7 215.2,91.6 215.1,91.4 215.4,92.1 216.1,93.7 216.3,93.7 216.4,95.1 216.6,95.7 216.7,95.2 216.6,96.2 216.9,97.3 217.4,97.6 217.6,98.1 217.7,99.0 217.7,100.1 217.5,100.7 218.1,100.9 217.9,102.1 218.2,102.2 218.3,103.4 218.7,103.8 218.6,104.3 219.1,105.2 219.0,106.5 219.4,106.5 219.9,107.4 219.5,108.0 219.7,109.2 220.3,108.8 220.0,110.3 220.4,110.5 220.6,111.0 220.7,112.2 221.2,113.0 221.1,112.9 221.2,114.3 221.5,114.6 221.9,115.8 221.9,116.9 222.2,116.4 222.3,117.6 222.3,117.6 222.1,119.4 222.4,120.3 223.0,120.4 222.9,121.1 223.0,122.1 223.5,122.1 223.2,122.9 223.1,123.3 223.3,124.8 223.5,125.2 224.2,125.7 224.3,126.1 224.0,126.7 224.0,127.7 224.6,128.8 224.3,128.6 224.4,129.7 224.8,129.9 224.6,131.5 224.9,131.3 225.4,132.1 225.5,132.7 225.7,134.0 225.4,134.3 225.9,135.3 225.8,135.9 225.6,136.5 225.8,137.8 226.3,138.6 226.1,138.7 226.6,139.5 226.5,139.6 226.8,140.9 226.5,141.6 226.6,142.1 226.8,142.9 226.9,143.2 227.4,144.4 227.2,145.3 227.1,145.5 227.4,146.4 227.9,147.1 227.7,148.0 228.1,148.3 228.2,149.0 227.8,149.3 228.0,150.4 228.3,151.4 228.8,151.9 228.9,152.4 228.7,153.8 229.1,153.6 229.1,155.2 229.0,155.9 229.2,156.6 229.6,156.2 229.6,157.3 230.0,158.5 230.3,158.4 230.3,159.9 230.1,160.6 230.3,161.0 230.7,161.6 231.1,161.7 230.8,163.6 231.2,164.2 231.1,164.0 231.5,165.3 231.6,165.0 231.7,166.7 232.2,166.4 232.0,168.3 232.4,168.5 232.1,169.0 232.4,169.7 232.6,169.8 233.0,171.0 232.7,172.0 233.0,172.0 233.3,172.5 233.7,173.9 233.4,175.1 233.8,174.5 234.0,175.3 233.9,176.7 234.3,177.9 234.5,177.5 234.5,178.1 234.8,179.2 234.9,179.4 234.9,180.6 234.8,181.6 235.6,182.4 235.7,182.2 235.6,183.5 235.7,184.5 235.8,184.2 236.1,185.9 236.1,186.3 236.1,187.5 236.8,186.8 236.7,188.8 236.8,188.3 237.1,189.6 237.0,189.6 237.0,191.4 237.3,191.7 237.6,192.1 237.8,193.3 237.5,193.9 237.6,194.3 238.4,195.5 238.1,196.3 238.2,196.7 238.7,196.4 238.5,197.8 239.2,198.0 238.9,199.7 238.9,200.3 239.4,200.9 239.3,201.3 239.3,201.6 239.9,202.0 239.9,202.7 240.2,204.1 239.8,205.2 240.3,205.5 240.0,206.5 240.6,206.5 240.3,207.8 240.5,208.5 240.9,208.6 240.9,209.1 241.0,210.7 241.2,210.7 241.4,212.2 241.1,212.3 241.7,213.0 241.3,213.2 241.8,214.4 241.4,214.4 241.7,215.8 241.8,216.1 241.8,217.2 242.3,217.6 242.1,218.7 242.1,219.5 242.0,219.5 242.5,220.0 242.2,221.4 242.6,222.2 242.9,222.4 243.0,223.8 243.1,223.8 242.6,225.1 242.8,224.8 243.2,226.4 243.3,226.3 243.4,227.1 243.3,228.4 243.3,228.7 243.7,229.8 243.8,229.7 243.8,230.5 243.6,231.9 244.0,232.6 243.8,233.1 244.0,233.4 243.9,234.4 243.8,235.1 244.3,235.2 244.1,237.2 244.6,236.7 244.6,238.5 244.5,238.2 244.5,238.8 244.6,239.5 244.6,240.2 244.8,241.2 245.0,242.6 244.6,243.1 245.1,243.2 245.2,243.6 244.9,245.2 245.4,246.2 245.3,246.6 245.6,247.6 245.2,247.6 245.6,248.4 245.2,249.7 245.5,249.3 245.5,249.8 246.0,250.7 245.4,252.5 245.7,252.7 245.8,253.0 246.3,254.3 245.9,255.1 246.3,255.9 246.1,255.9 246.5,256.7 246.2,257.6 246.5,258.2 246.2,259.5 246.3,259.7 246.5,259.6 246.5,260.8 246.4,261.1 246.8,262.2 246.6,262.8 246.8,264.2 247.3,264.9 247.4,265.1 247.0,266.0 247.1,267.1 247.2,267.3 247.6,267.3 247.8,268.5 247.8,269.3 248.0,269.4 247.8,270.9 247.8,271.2 248.4,271.5 248.3,273.0 248.3,273.1 248.7,274.5 248.9,275.2 249.0,274.9 249.5,276.0 249.1,276.9 249.4,276.8 249.5,277.6 249.7,278.6 250.2,278.9 249.8,279.6 250.0,280.7 250.1,281.2 250.1,282.8 250.6,283.0 250.5,283.3 250.8,283.7 250.6,285.1 250.7,286.4 250.8,285.9 250.5,287.3 250.5,287.7 251.1,288.5 251.3,289.2 250.9,289.4 251.1,290.5 251.3,291.5 251.5,292.0 251.2,292.2 251.5,293.2 251.4,294.4 251.5,294.4 251.7,295.1 251.9,296.9 252.0,296.9 251.6,297.7 252.0,297.9 252.0,298.8 251.9,299.1 252.2,300.2 252.2,301.2 252.5,302.1 252.5,303.1 252.6,302.7 252.7,304.4 252.3,304.3 252.8,305.8 252.4,306.4 253.1,306.6 252.7,307.0 252.8,308.5 253.3,308.4 253.3,309.9 253.1,310.7 253.4,310.2 253.4,311.3 253.3,312.4 253.6,313.5 253.7,313.7 254.1,313.6 253.8,315.6 254.1,316.2 253.8,316.8 254.0,316.8 254.1,317.8 254.6,318.7 254.5,318.8 254.6,319.7 254.8,320.7 254.4,321.1 254.8,322.2 254.6,322.2 255.0,322.8 254.9,324.4 254.8,324.1 255.4,325.9 255.3,326.5 255.4,326.8 255.6,328.2 255.5,328.5 255.1,328.5 255.5,330.0 255.2,330.9 255.9,330.4 255.8,332.0 255.6,332.5 255.6,333.0 256.2,333.7 256.0,334.2 256.2,335.2 256.0,335.9 256.3,337.2 256.1,336.8 256.2,337.6 256.5,338.1 256.3,339.3 256.3,339.9 257.0,340.4 256.8,341.7 257.0,342.8 257.0,342.4 257.2,343.0 257.1,343.6 257.1,344.6 257.4,346.1 257.1,346.9 257.4,346.7 257.3,347.4 257.4,348.2 258.0,349.1 257.8,350.4 258.3,350.6 258.0,351.0 257.9,352.2 258.4,352.8 258.6,353.2 258.6,353.7 258.5,354.0 258.8,355.4 259.2,355.9 259.3,356.1 259.1,357.4 259.3,358.6 259.3,359.0 259.7,360.1 259.3,360.6 259.6,361.1 260.0,361.0 259.5,362.8 260.0,363.4 259.8,363.6 260.2,363.7 260.4,364.6 260.5,365.2 260.7,366.5 260.8,367.2 261.0,367.0 260.6,368.3 261.0,369.1 261.3,369.6 261.2,370.2 261.3,371.2 261.9,371.4 261.9,372.8 261.8,373.4 262.1,374.4 261.8,374.7 262.2,375.0 262.6,375.7 262.6,377.0 262.9,376.9 262.9,377.6 263.1,378.0 263.0,379.9 262.9,379.8 263.5,380.4 263.8,381.2 263.6,382.0 263.8,382.3 263.9,383.6 263.8,383.8 263.8,384.9 264.1,385.6 264.5,386.4 264.4,387.1 264.8,387.7 264.5,387.7 264.8,389.2 264.9,390.1 265.5,390.7 265.1,391.2 265.7,392.3 265.3,392.6 265.6,393.2 265.9,394.4 265.8,394.1 266.4,395.6 266.2,396.6 266.6,396.9 266.4,397.6 266.9,397.3 266.8,398.3 267.6,399.0 267.5,399.6 267.5,400.6 267.5,400.7 268.0,401.5 268.1,402.0 268.4,403.0 268.7,404.3 269.1,405.2 269.1,405.5 269.6,406.0 269.5,406.4 269.6,406.7 270.1,408.1 270.5,408.3 270.2,409.0 270.5,409.5 271.0,410.4 270.8,411.0 271.4,411.3 271.7,413.1 272.0,413.5 271.9,413.2 272.7,414.9 272.7,414.7 273.1,415.8 273.6,416.7 274.4,416.4 274.7,417.7 274.9,417.4 275.4,419.2 275.3,419.1 275.4,419.4 276.1,421.1 275.7,420.7 275.7,422.2 276.2,423.2 276.2,423.2 276.9,422.9 276.3,425.4 277.2,426.3 277.3,425.2 276.7,426.2 276.6,427.5 277.0,427.1 277.6,428.2 277.2,429.3 277.7,431.0 278.1,430.6 278.2,432.2 278.0,432.0 277.4,432.6 278.7,433.0 278.9,435.0 278.8,435.9 278.5,436.5 278.8,437.0 278.3,436.0 279.2,436.8 278.9,437.3 279.7,439.9 280.0,440.8 279.8,440.0 280.0,440.4 280.4,440.4 280.6,440.2 281.2,437.6 281.1,437.1 281.6,437.7 281.5,437.3 281.4,436.1 281.5,434.7 282.4,434.9 282.3,434.5 282.5,433.3 282.3,433.0 282.8,432.0 283.2,430.5 283.9,430.7 283.9,428.9 283.9,431.1 284.6,430.4 285.2,430.7 284.9,432.9 285.7,434.0 285.6,433.9 285.4,434.5 285.7,436.9 286.0,436.8 286.3,437.5 285.7,438.1 286.8,438.5 286.8,439.8 286.8,439.9 287.3,439.6 287.4,439.1 288.0,440.8 288.4,442.5 289.0,442.0 288.5,441.9 289.4,443.8 289.9,445.4 289.9,443.4 290.4,442.6 291.9,441.9 291.8,442.0 291.9,441.9 293.2,440.2 293.3,441.3 294.9,441.4 294.5,441.2 294.9,442.0 295.2,444.0 296.3,444.3 295.9,445.0 296.6,444.8 297.2,445.4 296.8,445.0 298.3,447.6 298.3,447.9 298.7,447.4 299.2,448.6 299.3,448.5 300.7,449.3 300.8,448.2 300.7,447.2 301.2,448.6 302.1,447.1 302.3,446.2 302.5,445.8 302.6,444.0 303.1,443.5 304.0,444.0 304.5,442.7 304.3,442.3 304.7,443.7 305.3,444.0 305.2,445.0 306.0,447.3 306.6,448.7 306.0,448.6 306.8,449.2 306.6,448.8 307.7,450.3 307.4,450.4 308.5,450.8 308.2,450.7 309.7,451.7 310.0,450.5 310.0,450.5 310.7,449.8 311.5,449.5 311.9,448.2 312.4,448.5 313.5,448.1 313.6,449.2 314.2,448.0 314.4,449.0 314.8,450.5 315.3,451.8 316.3,451.8 317.1,453.7 316.8,453.5 317.3,452.7 318.8,454.3 318.8,454.4 319.8,453.6 320.8,454.2 320.4,453.7 321.1,452.7 321.9,454.2 322.6,454.6 323.2,453.0 324.8,454.3 325.0,455.1 326.3,455.4 326.8,456.7 327.1,457.8 328.3,457.2 328.2,457.3 329.0,456.6 330.0,456.2 330.9,456.4 331.7,456.6 332.0,457.7 332.2,457.8 333.2,456.7 333.5,454.9 334.4,453.9 335.7,452.9 336.4,453.5 336.9,452.6 337.0,453.6 337.7,453.9 339.3,455.0 339.1,456.2 340.3,454.8 341.6,456.2 342.1,455.0 342.9,453.9 343.4,454.7 344.2,455.0 344.9,454.6 344.8,454.8 345.5,453.7 346.6,453.3 347.3,452.7 348.4,453.5 349.0,453.3 349.6,453.7 350.6,453.8 350.7,454.0 351.1,453.1 352.1,452.6 352.9,451.9 354.1,452.0 354.0,452.2 355.1,453.2 356.1,452.1 356.2,453.0 357.1,452.9 358.3,454.4 358.9,453.2 358.8,455.1 359.4,454.9 360.4,454.9 361.1,454.2 362.0,453.7 362.6,455.5 363.0,456.5 363.7,455.5 365.0,454.4 365.3,453.4 365.8,454.8 366.8,454.5 367.8,454.4 368.2,454.7 368.6,454.8 369.7,456.2 370.2,456.0 371.5,455.1 371.6,455.3 372.0,455.8 373.5,455.1 373.6,454.1 375.0,455.7 375.4,455.5 376.3,456.1 376.8,455.6 377.6,454.7 377.6,455.5 378.3,454.5 379.9,456.1 380.1,455.3 380.5,454.4 381.9,455.6 382.7,455.4 382.7,454.3 383.6,455.8 384.3,454.4 385.6,456.2 385.9,456.3 386.1,455.0 387.1,455.8 387.6,454.9 388.6,455.6 388.9,454.9 389.9,455.1 391.0,455.7 391.5,456.1 391.8,455.2 392.3,456.6 393.8,454.9 394.6,454.7 394.7,455.2 395.1,455.3 396.1,455.9 396.5,455.8 397.5,455.3 397.9,454.3 399.6,456.2 399.8,454.2 400.3,454.5 401.7,456.0 401.6,456.4 402.8,455.4 403.2,457.2 403.5,455.9 405.0,455.6 405.2,455.1 406.6,454.9 406.9,456.5 407.4,455.3 408.0,455.2 408.3,456.0 410.0,455.3 410.6,457.0 411.0,456.5 411.8,454.8 412.3,456.8 413.1,455.9 413.4,456.8 414.9,457.2 415.2,455.2 415.7,456.5 416.7,455.3 417.2,457.3 417.6,457.6 419.0,457.1 419.8,456.4 419.7,457.2 420.7,455.6 421.8,455.7 422.7,457.8 422.6,456.5 424.1,457.2 424.5,456.7 425.1,456.7 425.8,456.7 426.1,456.8 427.0,456.9 427.7,457.8 428.0,457.5 429.0,456.4 429.4,456.5 430.9,457.9 431.5,458.1 432.2,457.2 433.0,457.7 432.8,457.7 433.9,456.9 435.0,456.9 435.5,455.9 435.7,456.4 436.8,456.5 437.5,457.1 438.6,456.8 438.7,457.2 439.6,457.5 440.8,455.7 441.3,457.0 442.2,457.8 442.1,457.8 443.1,456.2 443.7,456.2 444.8,456.1 444.8,455.7 446.4,457.7 446.7,455.7 447.2,455.9 448.4,456.0 448.5,457.4 449.4,456.1 450.5,457.8 450.8,457.0 451.1,456.5 451.8,457.2 453.4,457.2 453.8,455.8 454.6,456.6 454.9,457.3 455.5,457.7 456.1,457.2 457.3,456.8 457.8,455.9 458.6,456.6 458.9,455.8 459.9,457.1 460.5,457.7 461.4,457.4 462.2,456.7 463.0,456.5 463.2,456.5 464.3,456.1 464.5,457.5 465.5,456.4 466.7,457.8 466.6,456.8 468.0,457.6 467.9,456.6 469.1,455.9 470.2,456.4 470.3,456.5 471.0,457.4 472.2,457.0 472.3,458.0 473.0,457.1 474.4,457.1 474.6,457.6 475.7,456.0 475.8,456.7 477.3,456.4 477.3,457.7 478.3,456.0 478.4,457.7 479.2,456.1 479.9,456.1 481.2,456.1 482.1,457.3 482.7,456.6 483.5,456.0 483.8,456.0 485.0,457.6 485.2,457.7 486.0,457.3 486.4,456.3 487.4,456.6 487.6,456.4 488.3,457.6 489.8,456.8 489.6,456.9 490.2,457.4 491.2,458.0 492.0,458.1 492.7,456.4 493.4,457.3 494.1,456.1 494.6,456.5 495.5,458.0 496.5,457.4 497.0,456.3 497.8,457.2 498.8,456.2 499.5,457.4 499.7,457.2 500.8,457.8 501.7,457.9 502.0,456.6 502.4,457.0 503.6,456.6 503.6,457.4 505.1,456.4 505.8,456.6 505.8,457.2 507.1,456.5 507.3,457.9 508.3,456.8 509.4,457.2 509.2,458.1 510.6,456.6 510.8,456.9 512.2,457.8 512.1,457.9 513.5,456.6 513.7,456.5 514.8,456.4 515.7,456.8 515.9,456.8 516.9,458.2 517.2,457.9 518.6,458.2 518.4,458.1 519.6,456.3 519.9,457.0 520.3,457.6 520.7,456.8" stroke="#12661c" />
<path d="M66.2,461.6 67.2,461.7 67.8,461.3 67.3,460.1 69.6,461.1 70.2,459.3 70.1,459.2 71.0,459.8 70.7,458.1 71.9,460.6 73.5,457.9 74.2,457.8 74.6,457.7 74.2,460.3 75.3,458.1 77.4,461.2 76.8,462.3 78.0,461.7 78.1,462.5 79.6,462.5 80.7,459.8 80.5,459.0 80.8,458.2 81.7,460.0 81.9,460.9 83.2,460.2 84.8,461.2 84.6,460.9 86.0,459.2 87.2,458.9 87.4,461.8 86.8,461.5 88.2,460.5 88.2,457.9 89.2,460.4 90.0,459.5 92.0,461.1 91.6,459.9 92.6,462.1 92.6,462.2 94.5,462.8 93.9,462.9 94.7,459.6 96.3,460.6 96.5,459.9 97.6,457.9 97.9,457.7 98.1,457.9 99.9,461.4 99.7,458.5 101.9,460.6 101.5,459.6 102.6,461.8 103.0,460.5 103.0,462.5 103.7,461.2 105.8,460.0 106.3,462.6 106.8,461.6 106.6,460.1 107.4,461.4 108.3,459.9 110.3,461.4 111.0,460.4 110.8,461.9 111.5,460.5 112.0,459.5 112.7,462.1 114.4,460.5 114.3,459.7 114.3,459.8 116.2,461.9 116.2,461.1 117.6,460.2 118.1,460.2 118.3,460.6 118.8,460.4 120.4,461.5 120.2,462.3 121.6,460.8 121.1,460.5 122.3,460.6 123.3,460.9 124.4,460.6 124.5,460.1 125.9,460.8 125.9,461.0 127.6,460.9 128.5,462.4 128.3,461.2 128.4,462.4 130.5,461.1 130.7,462.0 131.5,459.7 132.3,460.8 132.8,460.0 133.4,461.1 134.1,460.7 133.7,458.5 135.2,460.0 135.5,459.7 136.9,457.4 137.3,458.8 137.3,459.2 138.5,459.8 138.9,458.8 140.1,459.5 141.1,460.2 141.1,462.0 141.4,460.9 142.6,461.5 143.0,462.9 144.2,460.0 145.3,460.0 145.9,459.9 146.6,461.2 147.8,458.7 148.5,460.0 148.4,458.7 149.5,460.6 150.8,462.0 150.9,459.7 152.1,458.5 151.4,461.0 153.0,459.9 153.7,462.9 154.0,461.2 154.4,460.6 156.5,460.7 157.1,461.8 157.2,458.7 158.6,459.2 158.2,459.1 160.0,460.3 159.4,460.5 159.8,460.4 161.1,458.5 162.4,460.1 161.7,459.6 162.9,461.5 164.5,459.5 164.3,459.5 166.3,460.4 166.3,461.1 167.1,460.8 167.9,458.3 168.7,458.5 169.0,458.9 169.2,459.8 170.2,459.4 171.2,460.2 171.4,459.7 172.4,460.7 173.3,460.4 173.4,460.9 173.7,461.2 173.2,461.5 172.4,462.0 171.6,461.2 171.4,460.5 170.8,460.7 170.5,460.0 171.4,458.8 171.0,458.6 171.8,457.0 171.4,456.8 171.5,455.8 171.2,455.5 172.0,454.1 171.4,454.4 172.2,453.5 171.3,452.9 172.5,452.6 172.3,450.6 172.5,450.1 172.3,450.4 172.5,448.6 172.0,449.0 171.9,447.9 172.3,446.5 172.6,445.7 172.0,445.5 172.0,444.3 172.7,444.6 173.1,443.0 172.6,442.6 172.8,442.1 173.2,441.3 172.2,441.0 172.4,440.2 172.8,439.9 172.9,438.8 172.6,438.0 172.6,437.6 173.0,436.0 172.6,435.7 173.3,434.7 173.3,434.7 172.5,434.0 172.6,432.5 173.2,432.0 173.6,431.6 172.9,431.4 172.6,430.6 172.6,429.0 173.7,429.1 172.9,427.6 173.8,427.7 173.6,426.2 173.4,425.8 172.9,425.1 173.4,424.4 173.2,423.4 173.7,423.4 173.7,422.4 173.8,421.9 173.5,421.2 173.7,420.3 172.9,419.1 173.0,418.4 173.9,418.3 173.7,416.9 173.4,417.5 173.6,416.1 173.4,415.0 173.1,414.4 173.3,414.0 174.0,413.0 173.2,412.4 173.1,411.7 173.2,411.3 173.0,411.2 173.4,410.6 173.8,409.5 173.6,409.2 173.2,408.1 173.4,407.4 173.9,406.0 173.3,405.1 173.4,404.5 173.6,405.0 173.6,403.4 173.7,402.6 174.0,402.6 173.4,401.2 174.0,401.5 174.0,400.0 174.4,398.8 173.3,399.1 173.7,397.4 173.9,398.0 173.9,396.4 173.4,395.3 174.4,395.2 174.5,393.9 173.6,393.2 173.8,392.5 173.7,392.3 173.8,391.1 173.5,391.7 173.6,390.4 173.9,389.7 173.6,388.7 173.6,388.3 174.6,387.7 174.5,386.4 173.6,386.2 174.1,385.5 174.0,384.9 174.5,384.6 174.0,383.3 174.6,382.3 173.8,381.7 173.8,381.6 174.7,380.3 173.8,379.3 174.0,378.6 174.2,378.6 174.0,377.1 174.6,376.4 174.0,376.1 174.2,375.1 174.3,374.7 174.7,374.3 174.9,373.8 174.8,373.0 174.4,372.6 174.7,372.1 174.8,371.0 174.2,370.5 174.4,368.8 174.0,368.2 174.3,368.2 174.3,366.6 174.9,366.6 174.1,365.2 174.2,365.0 175.1,365.1 174.8,363.4 174.6,362.9 174.5,361.7 174.8,362.1 175.0,360.4 174.8,359.8 175.0,359.5 175.3,359.3 174.3,357.9 175.3,357.4 174.8,356.7 175.2,356.7 174.9,356.0 175.0,354.1 175.3,353.8 174.4,353.9 174.4,352.7 174.9,352.4 174.8,350.8 174.7,350.0 175.1,349.6 175.3,348.7 174.9,348.0 175.6,348.1 175.5,347.1 175.0,345.8 175.5,345.5 174.6,344.4 174.7,344.5 175.6,343.0 175.5,342.5 175.4,342.6 175.4,341.8 175.1,340.0 175.3,340.1 174.9,339.1 175.1,337.9 175.1,337.7 175.3,337.4 175.2,337.1 175.7,336.4 175.6,335.3 175.5,334.8 175.3,333.8 175.7,333.0 175.2,331.7 175.0,331.4 175.6,331.2 175.8,329.9 176.1,329.2 175.8,328.2 175.9,328.3 176.1,327.9 175.8,327.1 175.9,326.1 175.3,325.3 176.1,324.2 176.3,323.9 175.6,322.5 175.6,322.0 175.9,322.3 176.3,321.2 175.6,319.8 176.0,319.7 176.1,318.8 176.3,317.9 175.6,317.2 176.0,317.4 175.5,316.4 176.2,315.1 175.4,314.9 176.3,314.6 176.2,313.3 175.9,312.7 176.5,311.7 175.7,311.4 176.6,310.1 175.5,309.3 176.1,309.3 175.7,308.0 176.2,308.0 176.3,307.4 175.6,306.4 176.5,306.3 175.9,305.5 176.3,304.9 175.8,303.8 176.6,302.8 175.7,301.7 175.8,300.9 175.8,300.9 175.7,300.4 176.5,299.8 176.6,299.0 176.7,298.6 176.4,297.9 175.8,296.0 175.7,295.5 176.1,295.1 176.5,294.8 175.8,293.6 176.3,292.9 175.8,292.5 176.2,291.9 176.3,291.6 176.9,289.7 176.6,289.9 176.1,288.3 176.3,288.0 176.6,288.1 176.2,286.5 176.4,286.4 176.7,285.5 176.1,284.4 176.8,284.0 175.8,283.2 176.1,282.8 175.9,281.6 175.9,281.1 177.0,280.5 176.3,280.4 175.9,278.9 176.8,277.7 176.7,277.5 175.8,276.6 176.4,276.1 176.4,275.0 176.1,275.5 176.4,274.1 175.9,273.2 177.0,273.0 176.5,271.5 176.3,271.8 176.4,270.8 176.9,270.2 176.6,268.6 175.9,269.0 176.4,268.4 176.9,267.8 176.3,267.2 176.8,266.3 176.1,265.5 176.4,265.0 177.1,263.3 176.4,262.7 176.5,262.0 176.7,261.0 176.1,260.8 176.0,260.0 177.0,260.0 176.2,258.1 176.9,258.7 176.6,256.9 176.2,257.3 177.1,255.3 176.2,255.2 176.3,254.9 176.4,254.3 176.1,253.2 177.1,252.8 176.1,251.2 176.8,250.9 176.4,250.3 176.7,250.3 176.3,249.1 176.3,248.3 176.9,247.1 176.6,247.2 176.0,246.6 176.5,245.5 176.8,245.2 176.1,244.1 176.1,243.2 176.5,242.0 176.4,241.9 176.9,241.9 176.5,240.6 177.0,240.5 177.3,239.9 176.5,238.0 177.3,237.2 176.7,237.4 176.8,236.2 177.3,235.4 176.8,235.4 176.4,234.1 176.8,233.7 176.5,232.8 176.3,231.6 176.6,231.0 177.4,230.4 176.6,230.5 177.2,229.0 177.3,228.9 176.8,228.2 176.6,226.9 177.4,226.5 177.4,225.4 176.5,224.6 177.3,224.6 176.4,223.1 177.4,223.1 177.5,221.7 177.1,221.1 177.3,221.1 177.2,219.9 177.6,219.0 176.6,219.1 176.6,217.6 177.1,217.7 177.6,217.1 176.6,216.3 177.6,214.9 177.5,214.3 176.9,213.3 177.5,213.3 177.7,212.5 176.8,211.5 177.0,211.8 176.9,209.9 177.1,209.2 177.2,209.3 177.5,207.9 176.9,207.7 177.6,206.9 177.5,206.9 177.0,205.3 177.4,204.9 177.9,204.3 177.6,203.4 177.8,203.3 177.2,201.5 177.2,201.2 178.0,200.4 177.7,200.2 178.1,198.7 177.9,198.4 177.1,198.1 178.0,197.3 177.1,197.1 177.5,196.0 177.9,194.8 177.6,194.1 177.2,193.1 178.0,192.9 178.2,191.7 177.5,191.1 178.3,191.3 178.3,190.2 177.3,189.4 177.5,188.1 177.9,187.8 177.4,187.4 178.4,187.3 177.9,185.4 178.3,184.8 178.0,184.0 178.6,184.0 177.9,182.9 178.1,183.2 178.0,181.4 178.1,181.7 178.0,180.6 178.6,179.5 178.5,179.0 177.8,177.7 178.7,177.5 178.2,177.5 178.4,176.2 178.0,175.8 178.0,174.8 178.7,174.2 177.9,173.0 178.6,173.0 178.0,172.7 178.0,170.8 178.0,170.5 178.7,170.4 178.2,169.5 178.1,168.6 178.3,167.6 178.1,167.4 178.2,166.8 178.5,165.8 178.9,165.0 179.2,164.9 178.6,163.4 179.3,162.4 178.8,162.1 179.5,161.0 179.1,161.2 179.3,159.4 179.6,159.2 179.5,158.9 179.0,158.5 179.4,157.1 179.5,156.6 179.5,156.1 179.6,154.7 179.3,153.8 179.7,154.2 179.8,152.5 179.5,152.4 179.0,151.3 180.1,151.5 179.2,150.8 179.8,149.5 179.8,148.6 179.4,147.5 179.9,147.7 180.1,146.8 179.8,145.9 180.2,145.3 180.1,145.1 179.9,144.3 179.5,143.0 180.5,142.2 179.6,141.3 180.5,140.7 180.2,140.5 180.7,139.8 180.4,138.5 180.8,138.8 180.6,138.2 180.7,137.4 181.0,136.5 180.0,136.2 181.3,134.6 180.2,134.0 180.3,133.4 180.3,132.5 180.3,132.1 180.7,131.8 180.9,130.3 181.6,130.6 181.3,129.0 181.0,128.6 181.1,127.3 181.2,127.7 181.6,127.1 181.6,126.3 181.9,125.8 181.8,124.4 181.7,124.0 182.1,123.4 181.6,122.0 181.5,121.4 182.0,121.4 181.5,120.4 182.3,119.4 181.5,119.1 181.9,117.7 181.8,116.8 181.7,116.7 181.7,115.4 182.3,116.1 182.7,114.5 182.9,113.5 182.0,112.7 182.0,112.8 182.9,111.9 183.0,111.2 183.2,110.7 182.8,109.4 182.8,109.1 183.3,108.1 182.7,108.2 182.5,107.1 182.8,106.6 183.3,105.1 183.5,104.9 183.1,104.8 183.7,103.3 183.7,102.4 183.6,101.6 183.8,102.1 183.8,100.2 183.8,100.1 183.8,98.9 183.7,98.6 183.7,98.3 183.9,97.0 183.8,96.4 184.5,95.6 184.0,95.0 184.7,94.0 184.3,93.4 184.6,93.1 184.3,93.0 184.5,92.0 184.7,91.6 184.5,90.0 184.7,89.3 185.2,89.0 184.9,88.3 185.4,87.7 185.2,87.1 185.4,86.1 185.3,85.0 185.4,85.3 185.4,83.9 185.7,83.5 185.5,82.6 185.9,81.4 185.6,81.7 186.2,80.0 185.8,80.1 186.0,79.5 185.9,78.5 186.1,77.6 186.5,77.2 186.8,76.9 186.7,76.3 186.5,75.0 186.7,74.6 186.6,74.2 186.9,73.4 187.4,72.9 187.1,72.1 187.6,70.4 187.5,70.5 187.4,69.2 187.4,68.7 188.0,68.0 187.6,67.6 187.9,66.9 188.0,65.8 187.9,65.8 188.5,64.4 188.5,64.2 188.7,63.9 189.1,62.4 189.0,62.2 189.2,62.0 189.3,60.7 189.8,60.1 189.9,59.0 190.8,59.2 190.5,58.1 190.7,57.0 191.0,57.5 191.4,55.8 191.5,55.0 192.4,55.2 192.6,54.7 192.8,53.3 192.7,52.7 193.0,52.0 194.0,51.9 194.0,51.1 195.1,51.5 195.6,51.0 196.4,50.6 196.8,50.7 197.3,50.4 197.7,51.5 198.0,51.5 198.4,52.5 199.2,53.3 199.5,54.3 199.5,54.4 199.6,55.0 200.0,56.5 200.4,56.3 200.1,56.6 200.7,57.6 200.5,58.3 200.9,58.9 201.4,60.1 201.4,60.9 201.6,61.8 201.8,62.0 202.5,62.8 202.6,63.7 203.0,64.1 202.9,64.0 203.5,65.1 203.5,66.1 204.0,66.3 204.4,67.5 204.5,67.7 205.0,68.5 205.0,68.6 205.4,69.7 205.8,69.7 205.9,71.0 206.0,71.0 206.8,71.5 206.7,72.5 206.7,73.2 207.0,74.0 207.8,74.2 207.6,75.7 208.0,75.4 208.0,76.5 208.7,77.3 208.5,78.1 208.9,78.3 209.3,79.7 209.4,80.1 209.8,81.4 209.9,80.7 210.1,82.3 210.2,83.0 210.4,83.5 210.8,84.3 211.3,85.0 211.4,85.6 211.3,86.2 211.8,86.1 212.1,87.0 212.1,88.0 212.5,89.0 212.6,89.9 212.8,90.1 213.4,90.4 213.4,91.9 213.2,92.4 213.8,92.7 214.1,93.8 213.9,93.9 214.5,94.9 215.0,95.7 215.1,95.3 215.0,97.2 215.6,97.6 215.4,98.3 215.8,98.8 216.1,99.8 216.4,100.6 216.4,100.6 216.8,101.3 216.6,102.5 217.0,102.6 217.0,102.8 217.8,103.6 217.6,105.0 217.8,105.5 218.2,106.5 218.4,106.3 218.4,107.1 218.4,107.4 218.7,108.3 219.4,109.9 219.3,109.6 219.4,110.8 219.7,110.7 220.0,111.6 219.9,113.0 220.1,113.2 220.7,114.0 221.0,114.4 221.2,114.7 221.4,115.9 221.0,116.3 221.8,117.6 221.9,118.4 221.5,118.4 222.0,119.9 222.5,119.5 222.8,120.8 222.5,120.8 222.7,122.1 223.0,122.5 223.5,123.4 223.2,124.5 223.3,124.6 223.4,125.1 224.2,126.3 224.1,127.0 224.4,127.5 224.3,127.6 224.3,128.3 224.7,128.8 225.0,130.0 224.9,130.6 225.3,131.1 225.7,132.2 225.3,132.3 226.0,133.7 225.8,134.6 225.8,135.5 226.5,135.9 226.1,136.2 226.8,137.1 226.5,137.3 226.6,138.4 226.8,139.0 227.5,140.3 227.3,140.8 227.2,141.7 227.9,141.7 228.1,142.2 228.3,142.9 228.4,144.3 228.6,144.8 228.1,144.9 228.7,146.4 228.8,145.9 228.8,147.0 228.8,147.5 229.2,148.4 229.2,149.2 229.8,150.1 229.8,151.2 229.5,151.9 229.7,151.6 230.3,153.0 230.3,153.3 230.6,154.0 230.3,154.4 230.4,154.8 231.2,156.7 230.9,156.7 231.0,157.9 231.3,157.7 231.7,159.4 231.3,159.5 231.6,160.4 231.8,160.6 231.9,161.7 232.2,162.2 232.5,162.9 232.8,163.5 232.8,164.9 232.9,165.1 233.1,166.0 232.9,166.3 233.0,166.4 233.5,167.5 233.4,167.8 233.3,169.3 233.7,169.7 234.1,171.0 234.3,170.8 234.6,171.4 234.5,172.7 234.4,173.8 234.8,174.2 234.6,175.0 234.9,175.4 235.3,175.7 235.1,176.4 235.8,177.5 235.6,178.1 235.8,178.4 235.6,178.8 236.1,180.2 236.5,180.9 236.6,182.1 236.4,182.0 236.6,182.6 236.9,183.6 236.6,184.8 237.0,185.2 237.2,185.7 237.4,185.7 237.2,187.2 237.5,187.1 238.0,188.6 238.1,188.8 237.8,190.0 238.0,190.6 238.5,190.7 238.1,191.8 238.8,192.5 239.1,192.7 239.1,193.7 239.1,194.2 239.0,195.2 239.5,196.4 239.6,196.5 239.8,197.4 239.8,197.5 240.1,198.4 239.8,198.8 240.2,200.2 240.5,200.6 240.8,201.0 240.6,202.3 241.0,202.5 241.3,202.7 241.2,204.5 241.6,204.3 241.7,205.4 242.0,205.8 242.0,206.9 242.4,207.2 242.1,207.6 242.5,208.2 242.8,208.9 242.5,210.7 242.9,211.1 243.0,211.1 243.2,212.8 243.3,213.4 244.0,213.7 243.7,214.5 244.4,214.9 244.1,215.6 244.9,216.3 244.5,216.4 245.1,216.8 244.8,218.0 245.3,218.8 245.3,219.6 246.0,219.9 246.2,220.8 246.5,221.6 246.6,222.2 247.0,222.2 246.7,224.0 247.5,223.4 247.8,224.9 248.0,225.7 247.9,225.5 248.4,227.0 248.4,227.1 248.6,228.7 248.9,228.3 249.5,230.0 249.2,229.6 249.8,230.5 249.9,231.6 249.9,232.1 250.1,232.3 250.6,233.2 251.0,233.5 251.3,234.3 251.1,234.8 251.3,236.7 251.5,237.1 252.2,237.6 251.8,237.9 252.0,238.3 252.3,238.9 252.8,240.0 252.7,240.3 252.8,240.8 253.2,241.4 253.5,242.3 253.9,243.0 254.2,244.6 254.4,244.3 254.6,245.3 254.8,246.0 254.7,246.4 255.1,247.2 255.4,248.3 255.2,248.1 255.3,249.3 255.6,250.2 255.5,250.7 256.3,252.1 256.3,252.4 256.5,253.5 256.8,253.4 256.7,254.7 257.0,254.9 257.0,255.7 257.3,256.8 257.8,257.5 258.0,256.9 257.6,257.9 258.3,258.9 258.1,258.9 258.3,259.7 258.4,261.2 258.7,261.0 259.2,261.7 259.6,263.0 259.9,263.8 260.1,263.8 260.1,264.6 260.4,266.0 260.7,266.5 261.2,266.1 261.2,267.4 261.9,267.6 261.8,268.4 262.3,269.1 262.9,270.0 262.7,270.3 263.1,270.7 263.2,271.2 263.7,273.0 264.0,273.3 263.9,273.9 264.2,274.0 264.3,275.1 264.3,275.7 264.9,276.7 264.7,276.8 265.1,277.9 265.0,278.5 265.2,279.4 265.7,279.7 265.7,280.7 265.9,280.9 265.8,282.5 265.9,282.9 266.1,283.3 266.4,283.6 266.4,285.3 266.4,284.9 267.1,285.9 266.9,287.1 267.6,287.0 267.6,287.9 268.0,288.9 268.1,289.6 267.8,290.0 268.3,290.3 268.1,292.1 268.9,292.3 268.4,293.1 269.2,293.9 269.2,294.1 269.3,295.4 269.4,294.9 269.3,296.8 269.8,297.5 269.6,297.0 270.1,298.2 270.1,298.6 270.4,300.0 270.5,300.2 270.5,300.9 270.6,301.5 270.8,303.0 271.1,302.6 271.2,304.2 271.0,305.0 271.6,304.5 271.5,305.7 271.5,306.6 271.9,307.4 272.0,307.5 272.1,308.4 271.8,309.7 272.2,309.6 272.5,310.6 272.5,312.0 272.4,312.1 272.6,312.4 272.7,314.1 273.0,313.8 273.1,315.0 273.0,315.7 273.1,316.6 273.2,317.3 273.3,317.1 273.4,317.7 273.9,319.6 273.7,319.3 274.2,320.8 273.9,320.7 274.2,321.2 274.1,322.2 274.1,322.6 274.6,323.5 274.9,325.1 274.9,324.8 275.0,325.6 275.2,326.4 275.2,327.6 275.3,328.3 275.2,328.1 275.3,329.9 275.2,329.7 275.5,330.6 276.0,330.9 275.5,331.4 275.8,333.1 276.0,333.7 276.1,333.9 276.1,334.2 276.5,335.9 276.0,335.8 276.6,336.9 276.6,338.0 276.3,338.8 276.4,338.5 276.8,340.2 276.6,340.2 277.0,340.8 276.8,342.5 276.7,343.1 277.3,343.9 276.9,343.5 277.1,344.1 277.5,345.4 277.5,346.0 277.3,347.3 277.1,347.0 277.7,348.2 277.7,349.5 277.8,349.6 277.8,350.2 277.5,350.6 278.1,351.6 277.5,352.5 278.2,353.1 278.0,353.6 278.1,354.5 278.1,355.6 278.4,356.1 278.4,356.7 278.1,357.1 278.2,357.4 278.7,358.1 278.7,359.7 278.5,359.3 278.4,360.8 278.9,361.1 278.9,361.5 279.0,363.1 279.2,363.5 279.1,363.4 279.0,364.7 278.9,364.9 279.6,366.4 279.4,367.1 279.7,367.8 279.5,368.1 280.0,369.6 279.5,370.1 280.0,370.1 280.1,370.7 280.2,371.8 280.2,371.8 280.6,373.7 280.6,373.5 280.7,373.9 280.7,375.0 280.8,375.6 280.7,376.4 281.0,376.8 281.3,377.4 281.4,379.2 281.8,379.6 282.7,378.7 283.4,379.3 283.8,379.7 284.2,379.9 284.9,381.3 284.8,381.3 285.5,381.9 285.1,382.5 285.8,383.3 285.8,384.8 285.9,384.5 285.9,385.3 286.0,386.4 286.5,387.2 286.3,388.1 286.4,387.9 286.6,388.7 286.4,389.6 286.7,389.8 286.7,391.8 286.9,391.6 287.0,392.8 287.1,393.1 287.3,393.6 287.5,394.5 287.6,395.1 287.6,395.5 287.6,396.6 287.4,396.8 287.8,398.4 288.2,399.2 288.3,400.1 288.0,399.6 288.1,401.2 288.3,401.2 288.4,402.7 288.6,402.5 289.0,403.8 288.8,404.3 289.3,405.0 289.4,406.0 289.8,406.8 289.6,406.3 289.8,407.0 290.1,408.3 290.4,409.4 290.5,409.9 290.4,410.7 290.8,410.6 291.2,411.7 291.1,411.9 291.5,413.0 291.6,414.2 291.7,414.5 291.9,414.7 292.3,416.3 292.0,415.7 292.5,416.4 292.8,417.5 292.9,418.7 293.4,419.6 293.5,419.4 294.1,420.6 294.3,420.4 294.6,421.5 295.4,422.2 295.7,423.1 295.8,423.2 296.5,424.1 296.6,423.9 297.3,424.6 297.4,425.0 298.2,426.1 298.9,426.5 299.1,427.4 299.4,427.4 300.9,427.2 300.4,426.3 300.6,427.2 301.2,426.7 301.9,424.1 301.4,424.0 301.5,422.8 301.7,422.8 302.3,422.7 303.3,422.2 302.5,424.8 302.9,424.6 303.1,426.1 304.0,426.0 303.1,426.3 303.9,427.4 303.5,427.7 303.4,428.4 304.4,429.1 304.1,429.2 304.5,430.5 304.2,432.1 304.3,431.1 304.8,433.3 304.2,433.1 305.3,434.2 304.9,434.0 304.9,435.7 305.8,436.6 306.0,436.7 305.1,437.2 305.6,437.2 305.6,439.9 306.9,438.6 306.5,440.8 307.2,438.7 307.7,438.0 307.8,438.0 309.1,436.4 309.1,436.0 309.8,437.2 310.2,435.7 309.8,435.6 310.2,435.4 311.0,436.0 311.3,436.3 311.7,435.8 311.9,436.9 311.6,437.9 312.2,438.9 312.0,439.4 312.0,439.9 312.1,441.2 312.2,440.7 312.2,441.4 312.9,441.9 312.6,444.2 313.1,443.2 313.6,445.3 314.5,445.9 314.8,445.0 315.4,444.6 316.3,446.6 317.3,446.6 317.7,446.6 317.9,445.6 318.5,446.1 319.6,444.0 320.9,445.0 320.6,445.4 321.8,445.0 322.8,444.5 322.8,445.5 323.4,445.7 324.4,444.1 324.6,443.8 325.7,445.9 326.3,446.9 326.3,447.9 326.3,448.0 327.2,448.8 327.1,450.5 326.7,451.6 327.8,453.5 327.7,454.2 327.8,454.2 329.2,453.3 329.3,451.9 330.1,450.2 329.6,450.8 330.7,448.8 330.6,448.7 330.5,448.8 330.7,448.0 331.1,445.8 332.0,445.0 331.3,444.1 331.8,443.4 331.8,445.1 332.2,444.0 332.5,441.7 332.6,441.5 334.1,441.8 333.8,440.5 334.9,441.2 334.8,442.0 335.9,442.3 336.0,442.6 336.3,442.8 337.1,445.5 336.9,445.0 337.0,446.2 337.4,446.7 337.5,446.5 338.1,446.6 338.0,447.4 338.1,449.7 338.6,450.3 338.6,451.7 339.6,452.1 339.8,452.3 341.1,450.8 340.7,450.2 341.8,450.3 341.3,448.5 342.6,447.6 341.8,448.2 343.0,446.4 343.1,446.3 343.5,444.2 343.7,445.2 344.1,443.5 344.1,443.8 345.5,443.2 345.4,443.7 346.3,443.2 345.7,444.0 346.0,443.9 346.8,445.0 347.2,446.5 347.8,446.0 348.1,446.7 347.7,448.5 348.8,448.7 349.0,450.1 348.9,450.4 350.2,449.6 349.8,452.3 351.0,451.6 351.9,451.6 351.8,451.2 353.2,451.8 353.6,450.3 354.9,450.4 354.7,452.2 356.2,452.2 356.3,452.6 357.3,452.5 358.1,452.3 358.5,451.5 359.5,451.0 359.4,453.0 360.1,454.2 360.9,453.9 361.7,453.5 362.8,452.4 363.4,453.7 363.7,452.0 364.4,451.7 364.9,453.6 366.6,452.3 367.2,454.1 367.2,455.4 367.8,454.2 369.1,453.7 369.3,451.9 370.5,452.7 371.1,453.9 371.2,454.0 373.0,453.5 373.2,453.5 374.2,453.5 374.1,454.3 375.2,454.5 375.6,455.4 376.7,453.8 377.6,452.5 378.5,453.8 378.5,453.6 378.9,454.9 380.6,455.0 381.3,454.2 381.9,454.6 382.7,453.3 382.9,452.4 384.1,452.6 384.4,453.8 384.7,453.7 385.5,453.3 386.3,454.5 387.4,455.0 388.3,455.2 388.2,454.4 389.4,454.9 389.5,454.1 390.7,454.2 391.8,454.2 392.2,453.3 393.1,455.1 393.9,453.8 394.5,455.4 394.4,453.5 395.7,455.5 395.7,455.1 397.1,454.2 397.2,454.6 398.3,454.3 399.4,455.8 399.3,455.5 400.5,456.1 401.6,456.0 401.3,454.9 402.1,455.5 402.7,455.6 404.0,455.4 405.1,456.1 405.6,455.8 406.1,455.1 406.2,453.9 407.6,453.9 408.0,455.4 408.7,455.7 409.8,456.5 409.9,455.7 410.9,455.4 411.1,454.2 412.0,455.6 413.3,454.8 413.8,455.0 414.4,454.7 414.9,456.3 416.2,454.5 416.1,456.2 417.1,455.8 418.0,455.9 419.0,455.1 419.7,455.5 419.5,455.8 420.7,456.6 421.5,456.6 421.8,454.9 422.9,455.4 423.7,455.3 423.8,455.9 425.2,454.2 425.9,453.9 426.5,455.1 426.8,454.0 427.4,455.1 428.4,455.5 428.7,455.4 429.6,454.4 430.2,454.8 430.8,454.7 432.4,455.4 432.9,455.6 433.3,455.4 434.5,455.5 435.2,457.0 435.8,455.4 436.6,456.5 436.9,456.1 437.4,456.6 438.7,456.2 438.5,454.8 439.8,454.1 440.7,456.2 440.6,455.2 441.9,456.5 442.9,455.2 443.5,455.9 443.6,455.1 444.1,454.7 445.1,454.9 445.6,455.4 446.2,455.1 447.0,456.8 447.9,456.0 448.7,456.8 449.8,456.7 450.5,456.3 451.2,455.4 451.6,455.4 452.7,455.3 453.4,455.3 453.4,456.4 454.4,455.2 454.6,456.7 455.4,455.9 456.8,455.8 457.1,455.1 458.3,456.1 458.7,455.7 459.4,455.6 459.5,455.6 460.9,456.7 461.3,456.3 462.5,456.3 463.2,455.4 463.8,456.5 464.2,456.2 464.4,454.9 465.0,456.8 466.1,456.2 466.8,456.8 467.9,455.7 468.4,455.4 469.5,455.3 470.1,456.1 470.0,457.1 470.8,456.4 471.5,455.2 472.8,456.9 473.6,456.4 474.0,455.3 475.1,455.7 475.4,455.0 475.8,456.1 476.7,455.9 477.3,455.0 478.3,455.8 478.4,455.8 479.7,456.7 480.1,455.3 481.0,456.3 481.6,457.2 482.1,456.2 482.5,455.3 483.4,455.5 484.0,455.3 485.6,456.4 485.8,456.3 486.3,457.0 487.5,456.0 487.4,455.1 488.1,456.7 488.8,456.1 490.0,455.9 490.5,457.2 491.9,456.8 492.1,457.2 493.0,455.6 493.1,455.5 493.8,456.0 495.0,455.6 495.1,455.9 496.2,457.1 497.4,457.0 497.4,457.0 498.1,456.5 499.1,455.7 499.8,455.8 500.8,455.7 501.5,455.6 501.3,456.2 503.0,456.6 503.0,456.3 503.8,456.7 504.5,455.6 505.9,455.3 505.7,456.0 506.6,456.5 507.5,455.6 508.6,456.8 508.5,455.7 509.2,456.4 510.4,456.9 510.7,457.2 512.1,456.4 512.0,455.7 513.3,455.5 513.9,456.9 514.0,455.7 514.9,456.3 516.3,457.1 516.5,455.4 517.3,455.8 517.8,457.4 518.5,456.2 519.6,457.4 519.6,456.7 521.0,455.7 520.6,456.1" stroke="#96be3c" />
<path d="M66.5,459.9 66.7,458.4 66.5,460.2 68.0,460.3 68.6,460.1 69.1,460.2 70.6,459.4 71.0,461.0 71.0,460.8 72.8,459.4 73.5,460.5 74.3,459.0 73.7,461.0 75.6,460.0 75.1,459.1 76.7,458.7 78.0,459.1 77.4,459.1 78.3,460.9 80.0,460.2 80.3,461.3 81.2,461.6 80.6,458.7 82.3,457.9 83.0,456.9 84.2,458.3 83.5,458.9 84.6,458.1 85.6,458.8 85.8,461.8 87.4,457.9 88.2,457.1 88.1,459.8 89.3,458.3 89.6,459.2 89.8,461.9 90.4,460.0 92.3,460.1 93.5,459.6 94.2,461.8 94.3,461.6 94.6,461.2 95.9,459.9 96.0,460.4 96.6,458.1 97.9,459.3 98.2,461.6 98.3,458.9 98.9,460.1 100.0,458.0 100.9,459.9 101.3,458.4 103.1,459.4 102.7,459.3 103.8,458.7 104.3,459.9 105.7,460.0 106.2,461.3 107.4,458.1 107.5,457.3 107.8,458.6 109.2,460.9 109.0,458.1 110.0,458.5 110.0,461.3 110.8,461.1 112.0,461.4 113.5,457.9 113.0,460.7 114.5,458.8 115.5,460.2 115.7,458.9 115.7,458.8 116.5,460.0 118.0,458.5 118.7,458.4 118.5,460.6 119.8,461.6 120.8,461.2 120.6,461.9 121.3,461.2 123.4,462.1 124.1,460.4 124.4,461.4 124.1,461.6 126.2,459.3 126.7,459.0 126.5,459.9 126.8,460.1 129.2,458.1 129.8,457.3 130.3,457.8 131.2,458.4 131.9,457.4 131.1,460.7 132.7,460.0 132.4,458.8 133.7,458.5 135.5,461.0 136.1,460.4 135.7,457.8 137.1,457.6 137.5,458.6 138.1,457.0 138.0,458.5 138.7,458.9 139.6,458.4 140.3,459.7 141.4,458.4 141.8,459.5 143.7,458.8 143.1,458.1 143.9,458.6 145.6,458.4 145.2,457.6 146.3,458.1 147.0,460.5 148.0,460.2 149.0,461.0 149.8,460.6 150.3,462.2 150.1,460.4 151.2,457.8 151.3,459.8 152.1,459.0 152.8,457.7 153.4,459.3 155.4,459.1 155.7,462.2 155.9,460.4 157.4,461.6 157.1,460.7 157.7,458.5 160.0,458.1 160.6,460.6 160.8,461.0 161.5,459.9 161.8,459.8 163.2,461.5 163.8,459.1 164.2,459.0 165.2,460.7 166.3,460.5 166.4,460.8 166.1,460.1 166.7,459.2 167.5,461.1 168.1,460.5 170.4,458.3 170.9,456.8 170.7,458.9 171.4,458.9 172.6,459.1 173.1,459.6 173.4,460.0 173.6,461.4 173.1,461.2 172.6,461.5 171.9,461.0 171.0,461.5 170.7,460.3 171.4,459.7 171.7,459.4 171.3,457.7 171.4,457.5 171.9,456.9 171.7,456.6 171.5,455.9 172.1,454.3 172.2,454.6 172.2,453.2 171.6,452.2 171.8,452.5 171.9,450.6 171.8,450.0 172.3,450.3 172.7,448.6 172.1,448.0 172.8,448.3 172.4,447.7 172.4,446.8 172.5,445.5 173.1,445.5 172.7,444.8 172.8,444.0 172.1,442.4 172.2,442.4 173.0,441.0 172.8,440.3 173.0,440.5 172.3,440.1 173.1,438.2 172.7,437.5 173.2,437.9 172.5,436.2 173.1,436.4 173.3,435.2 172.5,434.7 173.0,434.2 173.1,433.4 173.6,432.6 173.6,431.4 172.5,431.6 172.6,431.0 173.1,429.0 172.9,429.2 173.1,428.4 172.7,428.0 173.1,427.3 172.8,426.4 173.2,425.3 172.7,424.8 173.7,423.5 173.2,422.6 173.9,423.3 173.6,421.9 172.8,420.7 173.6,420.9 174.0,420.3 173.3,418.8 173.5,418.2 173.5,418.3 173.4,417.7 173.7,415.7 173.8,415.9 173.6,414.2 173.9,414.2 173.6,413.1 173.0,412.1 173.2,411.9 173.1,410.8 173.8,411.0 174.0,409.6 173.9,409.5 173.1,409.2 173.5,407.5 173.3,407.8 173.3,406.4 173.7,405.6 173.9,404.6 173.6,404.5 173.9,403.9 173.5,403.2 174.3,402.3 173.9,402.1 173.5,400.6 174.4,400.0 173.7,399.3 174.4,398.9 174.3,397.7 173.6,397.6 173.7,397.0 173.9,395.4 173.4,395.2 174.0,394.2 173.7,393.2 173.7,393.0 173.8,392.7 174.4,392.1 174.3,390.8 174.0,390.8 174.5,389.4 173.5,388.4 174.1,388.9 173.7,388.0 174.3,387.4 174.6,385.7 174.5,385.0 173.7,384.7 174.2,383.5 173.9,383.0 173.8,382.2 173.7,381.6 174.0,381.2 174.5,380.8 174.3,379.7 174.4,378.8 173.9,378.0 174.5,377.3 174.0,376.9 174.4,376.6 174.5,375.9 174.0,375.6 174.7,374.2 174.3,373.7 174.0,373.1 174.9,372.0 174.5,371.2 175.0,370.7 174.3,370.4 174.4,370.0 174.4,368.9 174.3,368.2 174.5,366.8 175.1,366.2 174.7,366.2 174.6,365.0 174.6,365.2 174.1,364.4 174.8,363.1 174.9,362.6 175.1,362.4 174.7,360.8 174.6,360.9 174.7,359.0 174.9,358.4 174.6,358.5 174.9,357.6 175.2,357.0 175.4,356.6 174.6,355.8 174.7,355.4 175.0,353.9 174.5,353.8 174.8,352.0 175.3,351.3 174.4,350.6 175.2,350.6 175.0,350.5 175.0,348.7 175.6,347.9 174.5,347.4 175.6,346.9 174.9,346.2 175.0,346.0 175.3,344.6 174.8,344.7 175.2,343.5 174.8,343.5 175.2,342.7 175.4,341.6 174.7,341.3 175.7,339.5 174.8,339.6 175.5,338.2 175.9,337.4 175.4,337.2 175.2,336.8 175.3,336.2 175.7,334.5 175.2,334.5 175.2,333.9 174.9,332.5 175.5,332.0 175.2,331.5 175.7,331.2 175.7,330.3 175.5,330.1 176.0,329.4 176.2,328.4 175.3,327.7 175.4,326.5 175.6,325.4 175.6,324.9 175.4,324.6 176.0,324.2 175.5,323.6 175.7,322.4 175.7,321.6 175.4,321.8 176.0,320.7 176.0,319.8 176.0,318.4 175.4,318.4 175.9,317.0 175.6,316.7 176.5,316.7 175.4,315.4 175.8,314.4 175.8,314.8 176.5,313.1 176.4,312.2 176.2,311.5 176.2,311.5 176.7,310.8 176.6,309.6 176.3,308.9 175.6,309.2 175.6,307.7 175.9,306.7 176.6,306.8 176.1,305.8 176.6,304.4 176.4,304.9 176.4,303.7 175.9,302.5 175.9,302.1 176.0,302.0 175.9,300.3 176.7,300.1 175.8,299.9 175.8,298.6 176.2,298.1 176.0,298.0 176.4,296.4 176.5,295.8 176.4,295.4 176.1,295.1 175.9,294.5 176.3,293.2 175.9,292.5 176.2,291.9 176.6,290.5 175.9,290.9 176.1,289.9 176.7,289.4 175.8,288.5 176.9,286.9 175.9,287.4 176.7,286.5 176.8,285.6 176.1,284.3 175.9,284.3 176.7,284.1 176.2,282.2 176.3,282.6 176.2,281.8 176.7,280.9 176.0,280.3 176.4,279.5 176.0,278.2 176.6,277.4 176.6,276.5 176.2,276.6 176.3,276.3 176.4,274.7 176.4,274.5 176.3,274.2 176.2,273.0 177.0,271.8 176.2,271.5 177.0,271.3 177.0,270.4 176.0,270.0 176.1,268.0 176.6,267.3 176.0,266.8 177.1,266.2 177.0,266.5 176.2,264.6 176.2,264.7 176.8,263.5 176.9,262.5 176.0,262.2 176.8,262.1 177.1,261.5 177.2,260.4 176.5,258.9 176.7,259.4 177.0,258.1 176.8,257.8 177.2,257.1 176.7,256.7 177.2,254.7 177.2,254.4 176.0,253.7 176.2,252.6 177.0,252.4 176.2,252.2 176.3,250.9 176.6,250.2 177.0,249.3 177.1,249.0 176.6,248.1 177.2,247.3 176.6,246.6 176.3,245.6 176.9,246.0 176.5,244.8 177.1,243.5 176.5,243.8 176.5,242.4 176.8,241.7 176.4,240.7 177.4,241.1 176.5,239.4 176.8,239.3 177.4,238.4 176.4,238.4 176.4,236.8 176.5,237.0 177.4,235.6 177.1,235.4 176.9,234.8 176.7,234.0 176.5,232.5 176.5,231.8 177.5,231.2 177.2,230.2 177.4,230.5 177.2,230.2 176.5,229.1 176.6,228.7 176.5,227.1 177.1,226.6 177.5,225.4 177.6,224.6 177.7,225.0 176.6,223.2 176.7,222.6 176.8,222.1 177.2,221.8 176.9,221.7 177.3,220.4 177.7,219.8 177.7,219.4 177.1,218.8 177.5,216.9 177.1,217.1 177.6,216.5 177.7,215.8 177.9,214.4 177.9,214.6 177.8,213.0 177.6,213.2 177.9,211.6 176.9,211.3 177.0,210.6 177.1,209.3 178.0,209.3 177.1,208.5 177.4,207.7 177.9,207.6 177.1,205.7 178.2,205.2 178.1,205.2 177.8,204.5 177.6,204.1 178.3,202.6 177.5,202.1 177.6,201.6 178.4,200.5 178.4,199.8 177.7,199.7 178.1,199.2 178.1,197.7 178.3,196.9 177.4,196.3 178.6,195.2 178.4,195.5 178.2,194.6 177.7,193.8 178.7,193.6 178.0,192.3 178.0,191.5 178.0,190.6 178.7,189.6 177.8,189.7 178.7,189.1 177.8,188.2 178.9,188.0 178.0,187.5 178.9,185.6 178.8,185.0 177.9,184.6 179.0,184.3 178.1,183.8 178.3,183.0 178.6,182.1 178.6,181.4 178.7,181.1 178.6,180.3 178.7,178.5 178.8,178.9 178.6,177.6 178.9,176.7 178.5,176.3 178.4,175.5 178.8,174.9 178.8,174.3 179.3,174.0 178.9,173.1 178.8,171.7 179.0,171.1 178.9,170.9 179.2,169.5 179.3,170.0 178.9,168.9 179.0,168.2 179.8,167.9 179.7,166.2 179.8,165.3 179.8,165.4 180.0,164.3 180.0,163.7 179.0,163.6 179.2,162.5 179.8,161.9 179.8,161.5 179.9,159.6 179.8,160.1 180.1,158.7 179.9,158.5 180.2,156.8 179.6,156.6 179.3,156.2 180.1,155.0 180.1,155.3 180.0,153.5 180.0,153.5 179.7,152.7 180.3,151.1 180.2,150.5 180.3,150.1 179.8,149.6 180.5,148.4 180.7,148.2 180.5,147.7 180.5,146.4 180.0,145.9 181.2,145.7 180.1,145.0 180.7,143.8 181.0,144.0 181.4,142.8 181.3,142.6 180.7,141.4 180.6,141.1 181.5,140.3 180.9,139.6 181.0,138.1 181.1,137.5 181.8,136.5 181.7,136.4 180.8,136.3 181.2,134.6 181.7,134.4 181.5,133.5 181.2,133.5 181.2,131.7 181.7,131.9 181.6,131.5 182.3,130.3 182.4,130.1 181.6,128.5 182.6,127.9 182.6,127.8 182.3,126.9 182.5,126.5 182.4,124.8 181.8,124.1 182.7,123.4 181.9,123.0 182.3,123.0 182.9,121.1 182.5,121.3 182.5,121.1 183.2,119.1 182.7,119.7 183.5,117.9 182.7,118.0 183.0,116.6 183.4,116.5 182.7,115.5 183.4,114.6 183.1,114.7 183.0,112.9 183.5,112.2 183.2,111.9 183.7,111.9 183.5,110.3 183.9,109.9 183.5,108.7 184.2,108.9 183.8,107.5 183.7,107.1 184.7,106.8 184.7,106.2 184.4,104.5 184.0,103.8 185.1,103.6 185.0,102.8 184.3,102.5 184.4,102.2 184.9,100.8 184.8,100.5 184.9,99.3 185.4,99.0 184.9,98.6 185.2,97.1 185.1,97.2 185.2,96.3 185.2,95.2 185.6,94.3 185.3,93.9 185.8,92.7 185.7,92.4 185.9,91.3 185.6,90.6 186.1,90.7 186.2,90.0 186.4,88.8 185.8,88.6 186.0,87.3 186.0,87.3 186.6,85.9 186.3,86.2 186.6,85.6 186.4,84.5 186.3,83.4 186.7,82.5 186.7,81.5 187.1,80.9 186.9,80.3 187.0,79.9 187.3,79.6 187.4,78.8 186.9,78.4 187.1,77.7 187.5,76.2 187.8,76.2 187.6,74.9 187.5,73.9 187.4,73.5 187.7,73.7 187.8,73.1 188.1,71.3 187.9,71.7 188.0,70.4 188.5,69.4 188.2,69.0 188.6,68.2 188.5,67.1 188.8,66.5 189.1,66.3 189.0,65.5 189.4,65.3 189.7,64.2 189.5,63.2 189.7,62.5 190.2,62.3 190.0,61.7 190.3,60.4 190.5,60.4 190.4,59.5 190.8,58.1 191.1,57.9 191.0,57.8 191.1,56.0 191.5,55.7 192.0,55.0 192.1,54.5 192.4,54.4 192.6,53.7 192.9,53.3 193.0,52.6 192.9,50.8 193.6,50.8 193.8,49.4 193.8,49.9 194.1,49.4 195.0,48.6 194.8,47.9 195.7,46.4 195.7,45.9 196.5,45.5 196.9,45.8 197.3,45.5 197.8,43.8 198.3,43.6 199.0,43.2 199.2,43.3 200.0,43.6 200.6,43.6 201.3,44.8 201.7,45.1 202.3,44.9 202.4,45.8 203.1,46.0 203.5,46.7 203.8,47.4 204.5,48.2 204.9,48.9 204.9,48.9 205.4,50.0 205.3,49.9 206.3,50.7 206.0,52.2 207.0,52.5 207.2,52.6 207.2,53.6 207.4,53.8 208.1,54.5 208.4,56.0 209.0,56.6 208.9,56.6 209.2,56.7 209.3,57.6 210.1,58.2 210.2,58.6 210.3,60.3 211.0,61.0 211.1,60.6 211.4,61.3 211.4,62.1 212.0,63.3 211.9,64.1 212.6,63.8 212.2,65.0 212.6,66.3 212.8,66.5 212.9,67.1 213.3,67.2 213.6,67.9 214.0,69.4 213.9,69.4 214.3,70.8 214.2,70.5 214.5,72.2 214.8,72.7 215.4,73.5 215.3,73.4 215.4,74.2 216.0,74.6 216.3,76.1 215.9,75.9 216.5,76.5 216.3,77.4 216.8,78.0 217.1,79.2 217.6,79.8 217.7,79.6 217.8,80.9 217.8,80.9 218.5,81.7 218.1,82.6 218.4,83.7 218.8,83.9 219.1,85.3 219.3,86.2 219.7,85.9 219.8,86.5 219.7,87.0 220.4,87.8 220.7,88.3 220.8,89.2 220.6,90.3 221.2,90.6 221.2,91.0 221.6,92.1 222.1,93.2 222.1,94.0 222.5,94.2 222.4,94.3 222.6,95.3 222.5,96.8 222.7,96.4 223.1,98.0 223.3,98.8 223.8,98.7 223.8,99.5 224.3,100.5 224.1,100.8 224.2,100.9 224.8,101.7 224.8,103.5 224.9,103.3 225.2,104.3 225.7,104.6 225.6,106.0 226.0,106.3 226.5,106.5 226.3,107.7 226.4,107.5 226.6,108.7 227.1,110.1 227.1,110.1 227.4,111.4 227.7,111.0 228.0,112.2 227.7,112.5 227.8,113.3 228.2,114.5 228.3,115.1 228.8,116.2 229.0,116.0 229.2,117.1 229.0,117.5 229.6,117.6 229.5,118.4 230.1,119.0 229.9,120.9 230.6,121.1 230.5,121.3 230.7,121.7 231.1,123.2 231.1,124.3 231.3,124.7 231.3,125.2 231.7,126.2 232.1,126.0 231.7,127.3 232.3,127.0 232.2,128.7 232.8,128.7 232.5,129.4 232.7,130.6 233.3,131.0 233.1,131.6 233.3,131.9 233.4,132.9 234.0,133.5 234.3,133.9 233.8,134.7 234.5,135.3 234.2,137.0 234.4,137.5 234.6,138.4 234.8,139.0 235.1,138.7 235.1,139.9 235.4,141.3 235.2,140.7 235.7,141.6 235.7,142.6 235.8,143.8 236.4,144.7 236.5,145.1 236.2,145.6 236.5,146.0 237.0,146.6 237.1,147.1 236.8,147.6 237.1,148.6 237.2,149.6 237.6,150.4 237.6,150.6 237.9,152.1 238.1,151.7 238.5,153.0 238.2,154.1 238.5,154.4 238.5,154.9 238.8,155.4 239.0,155.6 239.4,157.4 239.9,157.5 239.4,158.5 240.1,159.6 240.3,159.8 240.0,159.9 240.5,160.4 240.3,161.2 241.1,162.4 240.8,163.3 241.1,163.6 241.4,164.5 241.5,165.7 241.4,165.4 241.7,166.1 241.9,167.3 242.1,168.4 242.2,168.0 242.8,169.2 242.9,170.0 243.2,170.0 242.7,171.2 243.2,171.9 243.6,172.7 243.3,172.7 243.8,173.8 243.9,174.2 244.4,175.1 244.2,175.8 244.1,177.2 244.5,177.7 244.8,177.9 245.2,178.4 245.0,178.8 245.3,180.4 245.6,180.9 245.6,181.2 246.0,182.7 245.8,182.4 245.9,183.3 246.4,184.2 246.4,184.2 246.6,186.0 247.1,186.5 247.2,187.4 247.3,187.4 247.3,188.7 247.8,188.2 247.6,189.3 248.1,189.5 247.8,191.3 248.1,191.8 248.4,191.9 248.5,192.4 248.5,194.2 249.2,194.6 249.2,195.4 249.3,196.3 249.5,196.6 249.8,197.4 249.5,197.0 249.7,198.6 250.2,198.5 250.1,200.3 250.6,200.0 250.9,200.5 250.9,201.8 250.8,202.0 251.0,203.4 251.3,203.0 251.4,204.7 251.4,205.0 251.9,205.5 252.0,207.0 252.1,207.2 252.5,207.7 252.3,207.8 252.6,209.1 252.8,210.3 252.9,209.9 253.1,210.5 253.5,211.3 253.3,212.1 253.9,213.6 254.3,213.7 254.3,215.1 254.5,215.7 254.8,216.2 254.9,217.1 254.8,217.4 255.2,217.3 255.0,218.9 255.3,218.7 255.7,220.2 255.7,221.3 256.2,220.9 256.4,222.6 256.2,223.0 256.3,222.8 256.7,224.5 257.1,224.3 257.4,224.8 257.2,226.4 257.8,226.7 257.4,227.5 258.1,228.8 258.1,228.3 258.1,228.9 258.2,230.0 258.3,230.9 258.8,231.6 259.1,232.7 259.1,232.6 259.5,233.8 259.4,234.4 259.4,234.7 259.5,235.7 260.1,235.8 260.2,236.2 260.6,237.8 260.8,238.6 261.0,239.0 261.2,239.1 261.4,240.3 261.3,241.0 261.5,241.5 261.5,242.1 261.7,242.8 262.3,243.7 262.1,244.4 262.3,244.6 262.8,245.7 263.0,246.4 263.1,246.9 263.5,247.6 263.4,248.4 264.0,249.0 263.6,250.3 263.8,250.0 264.4,251.0 264.9,252.3 264.7,253.0 265.0,253.4 265.0,254.1 265.8,254.2 265.9,255.1 266.4,256.1 266.1,255.8 266.9,257.0 266.7,257.5 267.1,258.0 267.8,259.2 268.4,259.9 268.2,259.6 268.3,261.1 269.1,261.6 269.1,262.0 269.6,262.6 269.6,263.1 269.8,264.0 270.2,264.8 270.6,265.3 270.4,266.4 270.8,267.1 271.2,267.5 271.6,268.3 271.8,268.8 271.6,269.5 272.1,269.0 272.1,269.9 272.4,271.1 272.8,272.2 272.8,272.2 272.9,273.0 272.9,273.6 273.1,274.6 273.7,275.7 274.0,275.7 273.7,276.6 274.5,277.0 274.3,277.9 274.5,278.9 274.8,279.5 274.9,280.0 275.1,281.0 275.4,280.9 276.1,282.1 275.9,282.6 276.6,282.4 276.7,283.6 277.1,284.3 277.0,285.1 277.2,286.1 277.3,286.9 277.7,286.5 278.3,287.2 277.9,288.6 278.6,289.2 278.7,289.6 279.0,290.8 279.3,291.5 279.7,291.7 279.6,291.7 280.0,292.4 279.9,294.0 280.5,294.9 280.3,295.2 280.9,295.6 281.0,296.4 281.0,297.0 281.6,298.1 281.8,298.6 282.0,298.3 282.2,299.5 282.0,300.7 282.7,301.1 282.7,301.1 282.9,301.6 282.8,302.3 283.2,303.7 283.5,304.2 283.3,304.6 283.5,306.1 283.7,306.6 284.1,307.5 284.4,307.1 284.2,308.9 284.9,308.7 285.2,309.1 284.9,310.8 285.5,310.8 285.7,312.1 285.9,311.9 285.8,312.4 285.7,313.4 286.3,314.1 286.0,315.4 286.0,315.4 286.5,316.5 286.6,317.8 286.9,317.2 286.7,318.4 286.9,319.7 287.2,320.5 287.4,320.6 287.4,321.2 287.4,322.6 287.3,323.1 287.8,323.8 287.7,323.5 287.8,324.1 288.2,325.2 288.1,325.8 288.7,327.2 288.6,327.5 288.2,327.6 288.7,329.4 289.1,330.0 289.3,330.1 289.0,330.5 288.9,331.9 289.3,332.6 289.3,333.1 289.6,333.7 289.7,334.9 290.1,335.3 290.2,335.4 290.1,336.6 290.3,337.6 290.2,337.3 290.5,337.9 290.5,339.2 290.8,340.4 291.0,341.2 291.4,341.2 291.0,341.6 291.0,342.0 291.7,343.2 291.6,344.1 291.7,344.9 291.4,344.9 291.8,345.8 292.1,346.6 292.4,347.9 292.4,348.4 292.6,348.4 292.7,349.1 292.3,349.6 292.8,350.5 292.7,351.3 292.8,352.3 292.8,353.4 293.0,353.9 293.3,353.7 293.2,355.6 293.8,355.9 294.0,356.6 294.2,356.9 294.3,357.9 294.1,357.9 294.5,359.3 294.8,360.2 295.0,360.1 294.9,361.5 295.0,361.4 295.4,362.3 295.6,363.5 295.5,364.0 295.6,364.6 295.6,364.6 296.4,365.5 296.6,367.2 296.3,367.0 296.4,368.4 297.1,368.6 297.1,369.1 297.1,370.2 297.2,370.5 297.5,370.9 297.8,372.5 298.1,372.9 298.4,374.0 298.0,374.1 298.2,374.5 298.8,375.1 299.0,376.0 299.5,376.8 299.2,377.4 300.0,377.8 300.2,378.4 300.4,379.6 300.7,379.7 300.6,380.3 301.2,381.9 301.0,382.3 301.7,383.0 301.9,383.6 301.5,384.2 301.9,385.2 302.1,385.1 302.4,386.1 302.5,387.0 302.4,387.5 302.6,387.7 302.9,388.1 302.8,389.9 303.4,390.7 303.2,390.6 303.5,391.1 303.7,392.1 303.2,393.2 303.4,393.5 303.8,394.3 303.8,395.3 303.6,396.0 303.7,396.3 304.1,396.9 304.1,397.1 304.2,398.3 304.4,398.6 304.2,400.5 304.5,400.4 304.6,400.5 304.7,401.7 304.6,402.3 304.6,403.7 304.5,403.8 305.1,404.4 304.6,406.1 305.2,406.2 305.6,406.4 305.5,406.9 305.8,408.2 306.5,408.2 307.3,407.6 307.7,407.3 308.5,408.1 308.5,408.5 308.7,409.4 309.5,410.0 309.7,411.2 309.4,411.4 309.9,412.8 310.3,413.5 310.4,413.5 310.4,414.2 310.7,414.9 310.6,415.5 310.6,416.2 310.7,416.7 310.9,417.7 311.3,419.0 311.9,418.7 311.5,419.4 312.1,420.5 312.1,421.3 312.3,421.9 312.5,422.9 313.0,422.6 313.2,423.4 313.1,424.1 313.5,425.0 313.8,426.0 313.5,426.0 314.1,427.0 314.6,427.8 314.7,428.6 315.4,429.2 315.8,428.6 316.6,429.0 316.8,430.0 317.2,429.6 317.9,431.0 319.1,431.0 319.6,430.0 319.9,431.6 321.5,431.5 321.9,429.7 322.5,431.0 323.3,430.5 323.4,432.3 323.2,432.5 323.2,432.7 324.6,433.1 324.7,434.4 324.9,436.1 324.2,436.1 324.3,437.4 324.7,436.9 325.5,437.3 325.0,438.4 325.0,439.9 325.6,439.3 325.7,441.6 326.3,441.1 326.3,442.1 327.2,441.7 327.5,442.4 327.9,442.9 327.9,441.2 328.8,441.0 328.4,441.7 329.3,440.3 328.9,440.4 330.1,439.0 329.7,439.1 330.3,437.9 330.5,438.3 331.7,435.6 331.1,435.2 331.7,435.7 331.9,434.5 333.1,435.3 333.5,434.6 333.8,435.7 334.0,435.7 334.7,435.3 334.3,436.7 335.1,438.3 335.1,438.6 334.9,438.6 335.4,440.5 335.6,440.3 334.9,441.0 335.2,442.4 335.9,443.7 336.0,442.5 336.4,444.9 337.0,444.7 337.7,444.0 338.2,445.1 338.7,445.2 338.3,443.3 339.6,443.9 339.2,442.3 340.4,441.5 340.3,441.4 340.3,440.1 341.7,439.4 341.9,441.2 342.8,441.8 342.6,440.8 343.1,443.0 343.7,441.8 343.5,444.4 343.3,444.0 344.3,444.6 344.5,446.1 344.0,446.7 344.9,445.8 344.6,447.6 344.8,446.2 345.9,447.1 346.3,447.4 347.2,448.1 347.1,449.3 347.8,449.6 348.2,448.2 349.1,449.4 350.5,447.8 350.4,445.9 350.9,447.4 352.4,447.8 353.0,446.6 353.5,447.0 354.4,445.2 354.0,446.4 355.2,444.6 355.3,444.1 356.7,445.3 357.0,445.1 357.4,445.4 359.2,448.1 359.9,447.6 360.3,446.4 360.6,448.6 361.8,447.6 361.8,448.4 363.0,447.1 363.5,446.8 363.6,447.6 364.2,447.3 365.4,448.2 366.5,449.5 366.3,450.4 366.9,450.5 368.5,450.9 369.3,450.3 369.5,451.3 370.5,450.6 370.5,450.1 371.7,448.9 372.4,448.9 372.9,449.2 373.7,449.6 374.5,448.9 375.5,447.9 375.5,448.1 376.3,448.6 377.6,447.8 377.5,449.5 378.1,448.6 379.0,449.3 379.9,450.5 380.9,450.5 381.0,451.5 382.4,450.7 382.5,449.4 383.1,451.2 383.8,451.7 384.3,450.1 385.9,449.5 386.0,450.5 386.6,450.6 388.0,449.8 388.5,451.4 388.4,451.0 390.0,450.9 390.7,449.8 390.9,451.4 392.0,451.7 392.8,449.8 393.1,449.8 393.9,450.2 394.1,449.6 395.3,449.1 396.3,450.4 396.6,451.9 397.0,452.7 398.0,451.2 398.4,451.2 399.0,452.3 400.1,451.0 400.9,451.0 401.4,451.9 402.3,452.0 403.1,452.0 403.5,451.4 403.9,451.8 405.1,452.3 405.3,451.9 406.9,451.1 407.3,451.0 407.9,451.3 408.9,451.4 409.3,451.3 410.0,451.2 410.9,451.8 410.8,451.6 411.6,452.7 412.4,450.7 413.0,452.6 414.4,452.8 414.3,452.1 415.5,451.5 416.7,451.6 416.5,452.5 417.8,452.4 418.3,452.7 419.5,452.4 419.3,453.1 419.9,452.9 420.6,452.1 421.8,452.5 422.1,452.1 422.6,450.9 424.0,451.5 424.6,451.6 425.5,452.9 426.1,453.3 427.2,453.4 427.4,451.8 428.3,453.6 428.5,453.4 429.7,452.4 429.8,452.7 431.1,452.2 431.1,452.7 432.3,452.8 432.8,451.6 433.3,452.4 434.3,452.0 435.3,451.6 435.4,451.5 436.8,452.0 437.6,451.8 437.9,451.9 438.3,451.6 439.6,453.9 440.4,453.6 440.6,453.4 441.7,454.1 442.2,453.3 442.4,453.6 443.7,453.0 443.6,452.6 444.8,451.7 445.3,452.7 446.1,451.8 446.5,453.1 448.1,452.7 448.2,453.6 449.2,452.8 449.3,452.1 450.0,452.1 450.9,453.2 451.4,452.8 452.6,453.5 453.3,453.3 454.1,452.2 454.2,452.6 455.0,453.5 456.3,453.5 457.0,453.9 458.0,452.9 457.9,453.2 458.7,452.7 459.3,453.4 460.0,454.1 460.9,452.4 461.3,452.3 462.6,452.7 463.1,452.5 463.5,452.5 464.9,452.7 465.7,454.3 466.1,452.5 467.0,454.0 467.6,454.2 468.2,453.0 468.7,453.1 469.2,452.8 470.1,454.6 470.9,453.8 471.7,454.8 472.4,454.6 473.4,454.8 473.3,454.2 473.8,454.0 475.0,453.9 475.4,454.7 476.1,453.5 477.1,453.5 477.9,452.9 478.7,454.0 479.0,454.7 480.1,454.3 481.0,453.8 481.2,453.8 481.8,453.5 482.2,454.3 483.7,455.2 484.3,455.0 485.0,454.7 485.1,453.9 486.4,454.1 486.9,455.2 487.6,453.6 488.0,455.2 488.5,454.2 489.3,453.4 490.6,453.4 491.5,455.0 491.5,455.4 492.3,455.3 493.2,454.9 494.1,454.5 495.1,455.7 495.7,454.5 496.4,455.5 496.1,455.3 497.1,455.2 497.9,454.4 498.8,453.6 499.6,454.7 500.4,454.0 501.1,455.3 502.1,454.1 502.0,455.9 502.8,454.4 503.7,454.2 504.9,454.9 504.7,455.2 506.2,455.6 506.7,454.4 507.5,454.6 508.1,455.8 508.9,454.9 509.8,455.6 510.4,454.8 511.1,454.2 511.3,454.1 512.6,454.6 513.1,455.2 513.3,456.0 514.1,456.2 514.9,455.7 515.5,456.2 516.0,456.4 516.8,455.2 518.0,454.6 518.2,454.9 518.5,456.0 519.3,456.0 520.9,455.8 521.3,455.1" stroke="#ffd232" />
<path d="M65.7,461.0 67.0,461.7 67.5,463.3 67.3,463.3 68.0,462.5 68.7,460.9 70.1,463.7 70.2,461.7 71.8,464.4 72.4,462.3 73.9,460.9 74.3,461.9 73.8,461.8 74.8,464.8 75.2,464.3 76.8,463.5 77.3,462.2 77.1,462.5 78.9,462.7 79.0,462.8 79.9,461.4 81.2,463.0 80.9,462.8 82.1,464.1 83.2,462.5 84.4,462.3 84.1,464.9 84.3,463.6 84.8,464.0 86.8,463.5 87.7,462.6 88.1,463.7 88.5,463.3 89.7,465.3 89.8,464.5 89.7,464.6 91.5,465.0 92.5,461.8 92.4,462.8 92.4,462.4 93.4,461.6 93.9,464.1 94.7,461.9 95.9,463.9 96.0,462.0 97.6,463.4 98.8,463.0 98.5,461.3 99.3,463.3 101.1,461.0 100.4,461.6 101.2,462.7 102.6,462.0 102.2,462.8 103.6,463.7 105.3,464.6 105.2,464.4 106.2,461.8 107.3,463.8 108.0,463.4 107.8,461.7 108.0,462.3 108.6,460.3 109.6,461.5 110.5,461.9 110.6,462.8 111.5,463.5 112.0,465.1 113.8,462.4 113.9,463.2 114.8,462.5 116.3,465.4 116.3,462.6 116.4,460.3 117.5,460.4 119.1,460.8 118.3,464.5 120.0,462.1 120.7,461.4 121.3,464.6 122.6,463.2 122.3,461.7 122.8,462.8 124.2,462.6 124.5,460.7 126.0,463.6 126.8,463.3 127.5,464.0 127.1,464.1 128.0,462.9 128.1,463.2 129.2,464.1 131.2,462.9 131.8,465.1 132.6,463.2 131.9,463.0 132.6,463.4 134.0,466.4 135.1,465.2 135.5,465.6 135.1,464.4 137.3,464.3 137.7,463.9 137.4,465.6 138.3,466.2 140.2,464.3 139.8,465.8 141.1,462.6 140.7,463.2 142.8,466.3 142.1,467.2 144.3,466.8 143.9,466.6 144.2,464.9 146.4,467.3 146.3,468.5 146.8,468.4 148.2,465.8 147.9,465.9 148.5,466.7 149.3,466.3 149.7,468.3 150.8,467.0 151.9,469.0 152.3,469.5 153.2,468.5 153.9,466.5 154.5,466.7 154.4,468.5 155.4,467.1 157.1,467.2 157.1,466.8 158.2,468.2 158.1,467.8 159.0,467.3 160.7,467.5 161.0,467.4 162.3,465.2 162.4,465.5 162.9,466.5 163.5,466.2 164.2,467.4 165.3,466.4 166.4,463.5 166.3,465.5 167.4,462.3 166.7,463.1 167.1,462.1 167.7,463.1 169.5,463.4 169.0,462.1 170.4,459.4 171.1,461.9 170.5,461.8 171.0,460.5 171.7,460.3 171.5,459.2 172.1,458.4 172.2,457.8 172.8,456.7 172.9,456.6 172.4,455.8 173.2,455.4 172.7,455.3 173.7,454.6 173.1,453.0 173.1,453.0 173.5,451.4 173.9,451.8 174.4,450.2 173.7,450.4 174.2,449.4 173.7,447.8 174.5,447.6 173.8,447.7 174.5,446.8 173.9,446.1 173.9,445.5 174.4,444.0 174.6,444.1 174.3,442.3 174.6,441.8 174.0,441.0 174.0,440.3 174.3,439.8 174.8,439.1 174.5,438.2 174.3,437.3 174.1,436.6 174.7,436.6 174.1,435.8 174.9,434.6 174.8,434.4 174.4,434.2 174.2,433.1 174.5,433.0 174.1,432.1 174.5,431.1 174.1,430.0 173.6,429.0 173.6,429.2 173.8,427.7 173.5,427.9 174.4,427.0 173.7,425.7 173.6,425.3 173.4,424.6 173.5,424.6 174.3,423.3 173.4,423.2 173.4,421.7 173.0,421.0 173.5,420.5 173.1,419.8 172.9,418.8 172.9,418.2 172.8,417.0 173.1,416.6 173.4,416.3 173.5,415.8 173.4,415.4 173.0,414.0 173.7,413.0 173.3,413.0 172.5,412.6 173.5,411.6 173.2,411.1 172.5,410.0 172.9,409.8 173.2,409.1 172.9,408.5 173.0,407.5 172.4,405.8 172.3,405.6 172.3,405.6 172.8,404.6 172.9,404.0 172.7,402.3 173.1,402.7 172.7,401.7 172.9,400.3 173.0,399.9 172.2,399.2 173.0,398.4 173.0,398.8 172.8,397.2 172.8,397.0 173.1,396.2 173.0,394.7 172.4,394.3 173.2,393.6 173.0,392.5 172.4,392.2 173.2,392.1 173.2,390.8 173.0,390.4 173.0,389.2 173.5,388.6 173.6,388.9 172.5,387.6 173.5,387.6 173.0,385.9 172.8,386.1 172.8,384.9 172.7,384.1 173.7,382.9 173.6,382.7 173.7,382.3 172.9,381.9 173.2,379.9 172.7,379.9 173.2,378.9 172.9,378.3 173.1,378.3 172.7,377.5 173.7,375.9 173.9,376.0 173.8,374.7 173.2,374.2 174.0,373.7 173.2,372.8 173.1,371.6 173.0,372.0 173.2,371.4 173.2,369.8 173.5,369.0 173.3,369.4 174.0,368.5 173.7,367.9 174.1,366.7 173.8,365.3 173.8,365.1 173.9,364.7 173.3,363.2 174.1,362.6 173.6,362.2 173.4,362.1 174.2,360.7 173.8,360.0 173.7,359.5 173.3,358.4 173.3,358.8 173.7,357.1 174.2,357.5 173.7,355.6 173.4,354.8 173.6,354.1 173.5,353.7 173.9,353.9 174.1,352.5 173.7,352.0 173.7,351.0 173.4,350.2 174.5,349.3 173.9,349.3 174.4,348.0 173.7,347.4 173.8,346.9 174.5,346.8 174.5,345.0 173.5,345.2 174.5,344.2 174.2,342.8 173.9,343.4 174.5,342.6 174.7,341.1 173.7,340.2 174.2,340.3 174.7,339.6 174.4,339.0 174.1,338.0 173.7,337.6 173.9,337.1 174.4,335.5 173.8,334.8 174.4,334.7 173.8,333.1 174.3,333.1 174.2,331.9 174.5,330.9 174.1,330.9 174.9,330.4 174.9,329.5 174.1,328.5 175.0,328.4 174.2,326.8 174.5,327.0 174.4,325.7 174.7,325.9 174.2,324.0 174.3,323.8 174.8,322.8 174.9,322.9 174.6,321.4 175.2,320.9 175.0,320.1 174.3,320.1 174.4,319.7 174.7,317.9 174.4,317.5 174.9,317.6 174.3,316.1 174.4,316.2 174.4,314.2 174.3,314.0 175.3,314.0 175.1,313.4 175.4,311.8 174.5,311.9 175.2,310.0 175.1,309.8 174.8,309.0 174.6,307.8 174.8,307.6 175.6,306.6 175.6,306.0 174.9,306.2 175.5,304.9 174.6,304.3 175.0,304.2 174.8,302.7 175.7,301.6 175.1,302.0 175.6,300.2 174.7,299.5 175.8,299.1 175.6,299.3 175.2,297.7 175.9,297.5 175.1,296.9 175.2,295.6 174.9,295.6 176.0,294.7 176.1,293.2 175.2,293.1 176.1,293.1 175.5,291.4 175.5,291.0 176.2,289.9 176.1,290.0 176.1,289.3 175.9,288.0 175.6,287.4 176.1,286.3 175.5,286.5 175.6,284.8 175.3,284.8 175.7,284.7 176.4,284.0 175.7,282.1 175.5,282.0 176.3,281.2 175.7,280.4 176.2,280.1 176.4,279.6 176.3,277.9 176.6,277.5 176.3,276.9 176.5,275.9 176.0,275.3 175.9,275.5 176.4,274.0 176.2,274.3 176.4,272.5 176.8,272.4 177.0,270.9 176.4,271.2 176.9,270.6 176.0,269.1 176.1,268.2 177.2,268.1 177.1,267.1 177.1,266.5 176.4,266.3 177.3,264.6 176.9,264.6 176.4,263.6 176.4,262.7 176.6,262.5 177.1,261.3 176.3,260.7 177.2,259.8 176.8,259.2 177.4,258.9 176.5,257.6 177.0,257.5 177.3,256.2 176.7,256.4 177.1,255.1 177.0,255.3 177.0,254.1 177.1,253.2 177.8,253.3 177.2,251.5 177.7,250.8 176.8,251.0 177.4,250.2 177.4,249.6 177.5,247.9 177.0,247.8 177.8,247.6 177.1,246.5 177.5,245.6 177.3,244.6 177.8,244.8 177.3,243.5 178.2,243.5 177.5,241.6 178.4,242.1 177.9,240.1 178.5,239.8 178.5,239.5 178.5,238.1 178.4,237.5 178.0,237.7 178.6,236.1 177.9,235.7 178.3,234.9 177.9,234.1 178.6,234.3 177.8,233.1 178.7,231.7 178.9,231.1 178.6,231.0 178.7,229.9 178.5,229.6 178.6,229.0 178.6,228.0 178.2,227.6 178.8,226.4 179.1,226.4 178.8,224.9 178.9,224.1 178.5,223.8 178.5,223.2 179.1,221.9 179.3,221.3 179.4,221.5 179.2,219.8 179.2,219.6 179.8,218.5 179.8,219.0 179.7,218.1 179.1,217.6 179.5,216.9 180.0,215.1 179.9,215.5 179.1,213.9 180.0,213.0 180.2,212.4 180.2,211.6 179.8,211.9 179.5,210.3 179.9,209.7 179.4,208.8 179.6,209.2 180.3,208.4 179.7,207.6 179.7,206.5 180.4,205.6 180.7,205.2 180.4,204.9 179.9,204.4 180.6,202.8 180.8,202.0 181.1,201.7 180.4,201.3 180.6,199.7 181.0,198.9 181.1,198.5 181.0,198.8 181.0,197.6 180.7,196.0 180.4,195.5 181.2,195.2 181.1,195.2 180.7,193.5 181.4,192.5 180.7,192.3 180.9,191.6 181.1,191.2 181.5,190.0 181.6,189.7 181.1,189.6 181.3,187.8 181.2,187.8 182.2,187.3 181.7,185.9 181.3,185.7 182.0,184.6 182.2,184.1 182.6,183.8 181.9,183.3 181.7,182.1 182.2,181.0 181.9,181.1 182.0,180.1 183.2,178.8 182.4,178.7 182.8,178.1 183.3,176.8 182.8,176.2 182.6,176.4 183.6,175.4 182.8,174.9 183.8,173.7 183.9,173.0 183.3,171.8 183.4,171.0 183.6,171.3 184.2,170.8 184.3,169.3 184.2,168.8 184.5,168.2 184.0,167.7 184.9,166.4 184.8,165.4 184.2,165.0 184.8,165.3 184.9,163.8 185.1,163.1 184.4,163.2 185.0,162.2 185.1,161.9 184.9,161.0 185.3,160.3 185.0,159.5 185.2,158.2 184.9,157.9 184.8,157.6 184.9,155.7 184.9,156.3 185.3,154.5 185.0,153.6 185.9,153.8 185.9,153.2 185.2,152.3 185.7,151.9 186.3,151.3 185.4,150.6 186.5,150.0 185.6,148.3 185.7,147.3 186.7,147.7 186.5,147.1 186.5,145.6 186.0,144.6 186.8,144.1 186.4,143.7 186.1,142.8 186.4,142.7 186.6,141.5 187.4,141.0 187.3,140.5 186.4,139.5 187.0,139.3 186.9,138.5 187.2,137.1 187.7,136.3 187.7,135.7 186.8,135.0 187.8,135.4 186.9,134.0 187.6,133.8 187.3,132.7 187.6,132.4 187.5,131.9 187.6,130.2 188.2,129.9 187.6,129.4 187.6,128.9 188.5,128.2 188.5,126.9 188.3,126.3 189.0,125.1 189.1,124.4 188.3,124.0 189.3,123.6 188.8,123.5 188.7,122.2 189.1,121.9 189.5,121.1 189.1,119.9 189.0,120.0 189.7,119.1 189.3,118.0 190.1,117.5 189.4,116.7 190.5,115.7 189.7,115.1 190.5,115.1 189.9,113.5 190.1,113.0 190.6,112.1 190.4,111.4 191.3,111.5 190.4,111.1 190.5,109.6 191.6,109.5 191.4,108.3 190.9,107.9 190.9,106.6 191.3,105.7 191.5,106.1 191.9,105.0 191.9,104.2 191.5,103.7 191.9,103.2 192.6,102.1 192.3,101.8 192.2,100.4 192.7,100.6 192.7,99.7 192.9,99.0 192.9,98.0 192.7,97.5 192.7,96.5 193.3,96.3 193.3,94.9 193.3,94.5 193.5,93.8 193.7,93.8 193.5,92.7 194.0,91.7 193.9,91.8 193.7,90.5 194.0,90.2 194.7,89.1 194.2,88.5 194.7,88.0 194.8,87.2 195.3,86.4 195.2,86.3 195.3,85.3 195.8,84.8 196.1,84.6 196.9,83.2 197.5,83.5 197.9,83.2 198.8,83.1 199.3,82.1 199.8,82.4 200.9,81.8 201.1,82.0 201.9,81.1 202.4,82.0 203.5,82.2 203.8,82.5 204.2,83.5 204.7,83.5 205.5,84.3 205.7,84.1 206.2,84.4 206.8,85.3 207.2,85.8 207.3,86.4 207.7,86.9 207.7,88.2 208.2,88.2 208.5,89.1 208.9,90.0 209.3,90.3 209.8,91.6 209.4,92.2 210.3,92.8 210.0,93.5 210.6,93.1 210.4,95.0 211.1,94.7 210.9,95.2 211.3,96.7 211.6,96.5 212.3,98.1 212.0,98.8 212.6,99.3 212.9,100.1 213.2,100.7 213.1,101.2 213.6,101.9 213.8,102.7 214.1,102.5 214.1,103.0 214.6,103.5 214.8,104.3 215.1,105.5 215.4,106.6 215.2,107.2 215.8,107.5 216.2,108.5 216.3,108.6 216.9,108.8 216.9,110.2 216.8,110.8 217.5,111.9 217.5,112.7 217.9,112.6 218.4,112.6 218.5,114.1 218.5,115.1 218.8,115.2 219.1,116.3 219.1,116.5 219.5,117.3 220.1,117.6 220.3,118.4 220.3,118.9 220.6,120.5 220.9,120.9 221.0,120.9 221.2,121.9 221.7,122.9 221.5,123.4 222.3,123.8 222.0,124.1 222.2,124.6 223.1,125.9 223.2,126.8 223.6,127.2 223.6,127.9 223.9,128.5 224.2,128.6 224.4,129.6 224.7,129.8 224.5,130.3 225.2,132.2 225.4,132.1 225.7,133.3 225.8,133.3 225.9,134.1 226.1,134.8 226.6,136.2 226.4,136.3 226.7,136.3 227.4,137.6 227.8,138.1 227.4,138.7 228.0,140.1 228.5,140.1 228.4,140.3 228.8,141.1 228.7,141.4 228.8,143.0 229.2,144.1 229.4,144.6 229.6,144.1 230.3,145.1 230.5,145.6 230.3,147.1 231.0,147.9 231.2,147.5 231.4,149.0 231.5,150.0 231.6,150.7 232.2,150.0 231.9,151.6 232.7,151.4 232.6,153.0 232.7,153.8 233.2,153.4 233.3,154.8 233.6,155.6 233.6,156.4 234.0,156.8 234.4,157.2 234.5,158.4 235.1,159.0 235.1,159.0 235.0,160.6 235.6,161.1 235.6,161.4 236.3,162.4 236.3,162.3 236.4,163.8 236.5,164.2 236.9,165.1 237.3,164.9 237.0,165.6 237.5,166.7 238.0,167.8 237.7,168.3 238.4,169.1 238.5,168.9 238.9,170.3 239.0,171.1 239.0,170.6 239.4,172.3 239.3,172.9 240.1,172.8 240.1,174.1 240.2,174.1 240.2,175.5 240.8,175.8 240.6,176.9 241.3,176.8 241.3,178.4 241.8,178.5 241.7,179.3 241.7,179.4 241.9,180.8 242.3,181.3 242.5,181.9 242.5,181.9 243.4,183.0 242.9,184.0 243.6,184.0 243.7,185.0 243.9,185.2 243.7,187.2 244.5,187.2 244.5,187.5 244.9,188.4 245.2,189.6 245.4,190.5 245.2,189.9 245.4,190.7 245.5,191.2 246.0,193.0 246.2,193.8 246.7,193.2 246.7,194.4 246.6,195.8 246.9,195.9 247.4,197.1 247.6,197.0 247.7,197.4 248.3,199.2 248.0,198.5 248.2,199.6 248.9,201.1 249.1,200.5 249.2,202.1 249.4,203.2 249.2,202.7 249.9,204.4 250.0,204.2 250.2,205.5 250.1,205.6 250.4,206.0 250.8,206.7 250.8,207.3 251.3,207.8 251.5,208.7 251.3,210.4 251.6,211.1 252.2,211.7 251.9,211.8 252.1,213.1 252.8,213.4 252.7,213.6 253.2,214.5 253.2,214.7 253.2,215.3 253.7,216.6 253.5,217.7 253.7,217.8 253.9,218.3 254.5,219.0 254.2,219.9 254.5,221.2 254.6,222.0 254.7,222.5 255.3,222.2 255.4,223.0 255.4,223.6 255.6,225.4 256.3,225.9 255.8,225.7 256.5,226.1 256.6,227.1 256.9,227.4 257.0,228.5 256.7,228.7 257.3,230.1 257.1,230.7 257.7,231.1 257.6,231.6 257.5,233.2 258.1,233.1 257.8,233.6 258.3,234.9 258.2,235.1 258.6,236.5 258.8,237.0 258.6,237.0 259.1,238.2 259.2,238.4 259.4,239.4 259.6,240.8 259.6,240.3 260.0,241.7 260.2,242.0 259.9,243.5 260.2,243.3 260.4,244.5 260.3,245.1 260.8,245.8 260.7,246.7 261.4,247.6 261.3,248.1 261.5,248.8 261.5,249.6 262.3,249.8 262.3,250.5 262.5,250.4 263.0,251.4 262.7,251.9 263.0,253.5 263.1,253.2 263.8,254.0 263.5,255.2 264.2,255.8 264.5,255.8 264.9,257.3 264.5,257.2 265.1,258.3 265.2,258.5 265.6,259.1 266.0,260.8 265.9,261.0 266.6,261.1 266.9,262.8 266.9,262.8 267.5,263.5 267.5,264.8 268.0,264.6 267.9,265.2 268.4,266.7 268.9,267.3 269.3,267.8 269.0,268.0 270.0,269.2 269.8,269.1 270.4,269.6 270.6,269.8 270.9,271.1 270.9,271.2 271.9,272.7 272.2,273.1 272.6,274.0 273.2,273.2 273.2,274.2 273.4,274.9 273.5,276.5 273.7,276.2 273.8,277.2 274.2,277.7 273.9,278.9 273.9,279.5 274.6,280.1 274.2,280.7 274.5,280.9 274.3,281.6 274.6,282.7 274.7,283.1 274.7,284.2 275.3,285.0 275.3,285.8 275.1,286.5 275.4,287.0 275.7,287.6 275.6,287.9 275.7,289.0 275.9,289.8 275.8,290.2 276.5,290.7 276.5,291.7 276.4,293.1 276.5,293.5 276.6,293.2 277.2,294.4 276.8,295.0 277.2,296.2 277.1,296.2 277.8,297.6 277.4,297.7 277.8,298.8 278.2,299.7 278.6,299.9 278.9,300.8 279.5,300.5 280.0,300.3 280.4,298.9 280.7,298.1 280.9,298.3 281.0,298.1 281.3,296.7 281.7,296.7 281.8,295.4 281.9,294.8 282.3,293.9 282.3,293.6 282.5,292.6 283.0,292.7 282.9,291.4 282.8,290.5 282.8,290.2 283.2,288.8 283.5,288.5 283.5,288.5 283.7,286.9 283.4,287.2 283.2,285.3 283.7,285.2 284.2,285.4 284.1,286.4 284.2,286.4 284.4,286.9 284.3,287.9 284.4,289.1 284.7,289.2 284.4,289.6 284.7,290.6 284.9,291.7 285.2,291.9 284.9,292.8 285.4,293.1 285.1,294.4 284.9,294.4 285.5,295.8 285.3,295.5 285.6,297.0 285.6,298.2 285.7,298.1 285.3,298.6 285.6,299.6 285.4,299.8 285.8,301.1 285.7,302.4 286.0,301.7 285.9,303.5 285.9,304.0 285.7,304.2 286.4,305.3 286.3,305.4 286.3,306.6 286.2,307.4 286.5,308.6 286.6,308.5 286.3,308.8 286.9,309.5 286.5,310.2 286.8,311.9 287.0,312.5 286.7,312.1 287.3,313.2 287.4,314.0 287.1,314.5 287.4,316.1 288.2,315.3 288.5,314.7 288.5,314.8 289.2,314.3 289.4,313.2 289.7,311.8 290.8,312.9 290.7,313.6 291.4,313.4 291.4,315.0 291.5,315.6 291.5,315.5 292.0,316.0 291.8,317.6 292.1,318.2 292.1,318.0 292.3,318.7 292.9,319.5 292.7,319.9 292.9,321.0 292.9,321.2 292.9,323.0 293.2,322.9 293.3,323.6 293.6,323.9 294.1,325.0 294.1,326.1 294.7,325.6 295.6,324.9 295.7,325.3 296.2,323.7 296.2,323.8 296.5,323.5 296.6,322.8 297.0,321.2 297.2,320.4 297.7,319.9 298.1,319.7 298.0,318.6 298.5,317.9 299.1,317.3 299.4,318.3 299.4,319.3 299.7,319.8 300.0,320.0 300.0,320.3 300.0,322.1 300.2,322.5 300.1,323.1 300.4,323.7 300.4,323.8 300.5,324.7 300.5,326.1 300.7,326.3 301.3,327.5 301.4,328.4 301.0,328.2 301.0,329.5 301.6,329.7 301.5,330.8 301.8,330.9 302.1,331.8 302.0,332.2 301.8,334.0 302.3,334.4 301.9,334.1 302.1,335.0 302.3,336.0 302.2,336.6 302.8,337.1 303.0,338.3 303.1,338.6 303.0,339.8 303.1,339.6 303.6,341.3 303.5,341.0 304.2,342.4 304.1,341.9 304.6,342.2 304.9,341.7 305.5,339.9 305.7,339.6 306.0,339.6 305.8,337.9 306.5,337.7 306.6,337.4 306.7,336.9 306.8,335.7 306.6,335.3 307.1,334.4 307.6,333.2 307.7,332.4 308.0,332.8 307.9,331.8 308.9,331.5 309.1,331.2 309.1,332.0 309.6,332.5 309.7,333.0 310.1,334.5 309.9,334.6 310.3,335.5 310.7,336.1 310.4,337.5 310.4,337.7 310.7,338.8 311.0,339.4 310.9,339.9 311.3,340.3 311.6,341.5 311.3,341.5 311.7,342.0 311.7,342.8 312.1,344.0 312.6,343.8 312.9,344.9 313.5,344.9 313.8,345.1 315.1,346.4 315.2,346.5 316.5,346.5 316.5,346.6 317.4,346.4 318.1,346.5 319.0,347.7 319.5,348.3 320.1,347.6 320.5,347.7 321.0,348.9 322.2,348.5 322.3,349.4 323.3,350.3 323.2,350.6 324.1,351.1 324.1,351.0 324.8,351.8 324.7,352.7 325.0,353.8 325.2,353.3 325.6,354.8 326.0,355.6 326.3,356.6 326.3,356.6 326.3,357.0 326.8,357.3 327.1,358.1 327.2,359.9 327.2,359.3 327.7,360.1 328.2,360.5 328.6,362.3 329.0,362.3 329.2,363.0 329.9,362.3 330.1,361.7 330.6,361.6 331.0,360.0 330.8,359.8 331.2,359.0 331.1,357.9 331.4,357.8 332.0,357.7 332.1,357.1 332.4,356.0 332.5,354.5 332.6,354.6 332.6,353.9 333.4,353.2 333.7,352.5 333.9,353.8 334.0,353.4 334.7,354.4 334.4,355.4 334.8,356.0 335.0,356.6 335.2,357.1 335.0,357.5 335.7,358.7 335.3,359.8 335.5,359.4 335.8,360.3 335.9,361.5 335.9,362.2 335.9,362.8 336.4,362.9 336.4,363.5 336.5,365.3 336.7,365.8 337.0,365.7 337.3,367.2 336.9,368.0 337.3,367.8 337.8,369.0 337.9,369.1 338.2,369.6 338.2,370.5 338.7,370.8 339.4,369.9 340.1,369.5 340.5,369.1 340.8,368.4 341.1,368.2 340.9,367.4 341.3,366.8 341.8,366.2 341.7,365.0 342.5,365.2 342.8,363.3 343.1,362.8 343.6,363.4 343.9,363.6 344.7,363.2 344.7,364.1 345.4,365.0 345.1,364.8 345.3,366.6 345.5,366.9 345.8,367.8 346.0,367.7 346.6,368.9 346.6,370.0 347.0,369.5 346.8,370.4 347.1,372.1 347.6,371.6 347.4,373.3 348.1,373.3 348.3,373.6 349.2,374.3 349.9,374.7 350.0,374.2 350.8,374.8 351.7,373.4 352.0,373.5 352.9,373.5 353.5,372.9 353.9,373.1 354.8,372.2 355.6,373.6 356.0,372.5 357.1,372.7 357.5,373.1 358.2,373.4 359.0,374.3 359.8,373.5 359.9,375.1 360.5,375.7 360.6,376.2 360.7,376.3 361.2,377.8 361.5,378.2 361.3,379.0 361.8,379.3 361.8,379.8 361.9,380.5 361.7,381.1 362.1,382.7 362.3,382.5 362.3,383.0 362.5,383.6 362.4,385.3 362.8,385.4 363.0,385.9 362.8,386.3 363.0,387.3 363.5,388.3 363.7,388.7 363.8,389.7 363.4,389.9 363.8,391.7 363.8,392.1 364.0,392.9 363.8,393.0 364.5,393.4 364.2,393.8 364.3,394.8 364.8,395.4 364.8,396.1 365.0,397.7 365.2,397.4 365.5,399.2 365.5,398.6 365.8,400.4 365.7,400.1 365.7,401.3 366.4,402.1 366.6,402.2 366.3,403.7 366.7,403.9 366.9,404.4 366.7,405.2 366.8,406.2 367.2,406.7 367.6,407.0 367.7,407.3 368.3,408.8 368.5,408.7 368.5,410.3 368.5,410.1 368.6,410.9 369.3,411.4 369.6,412.5 369.7,413.4 370.0,414.2 370.3,414.3 370.7,414.9 371.0,416.2 371.4,416.2 371.7,417.7 371.9,417.3 372.3,418.9 372.4,418.1 373.0,419.6 373.6,419.8 374.1,420.2 374.4,420.6 374.3,421.2 374.7,422.3 375.4,422.4 376.1,423.3 375.9,423.6 376.7,425.2 376.7,424.5 377.6,425.4 378.1,426.3 378.3,426.7 378.8,427.4 378.9,428.6 379.2,428.9 379.6,429.4 380.2,430.2 380.4,430.4 381.1,431.4 381.9,431.5 381.8,431.6 382.3,432.4 382.7,432.6 383.5,433.8 383.6,434.8 383.9,434.8 384.3,435.8 385.2,435.5 385.5,436.9 385.6,436.8 386.1,438.1 386.3,438.4 387.1,438.6 387.6,439.7 387.9,440.1 388.5,440.4 389.5,439.9 390.1,441.3 390.4,440.2 390.9,441.7 391.5,441.8 392.3,441.7 393.0,441.0 394.1,441.0 394.5,442.3 395.5,442.4 396.3,441.4 396.5,442.7 397.4,441.9 398.0,442.4 398.5,442.6 398.9,444.1 399.7,444.3 400.0,443.8 400.7,443.9 401.4,444.7 402.0,445.0 403.1,443.7 403.6,444.7 404.9,444.5 404.8,445.9 406.2,444.9 406.2,443.1 406.8,442.2 407.2,442.8 408.3,442.7 409.0,441.5 410.0,443.2 410.4,443.3 411.1,444.8 411.8,444.7 411.9,444.2 412.4,446.0 413.0,445.1 413.7,444.8 415.0,445.2 415.2,447.9 415.5,447.8 416.3,447.3 416.8,447.2 418.2,448.9 419.0,447.3 419.4,447.8 420.1,448.3 420.4,449.0 420.7,448.2 422.4,447.4 422.8,448.6 423.1,448.1 424.3,447.8 425.0,448.2 425.5,449.1 426.4,448.9 427.0,449.5 427.2,449.8 428.0,450.6 428.9,449.9 429.7,449.1 430.0,448.0 431.5,449.1 431.8,449.5 432.8,449.2 432.8,450.6 433.8,450.3 434.9,450.9 435.6,448.8 435.8,450.3 436.9,448.5 436.9,448.9 437.6,449.5 439.0,450.2 439.3,449.4 440.0,451.4 441.0,450.1 441.5,451.0 442.5,449.8 443.1,450.5 443.6,450.3 444.1,450.6 444.8,450.0 445.3,451.0 445.9,449.7 447.3,449.4 447.6,449.5 448.8,449.6 449.3,451.7 449.5,450.9 450.9,451.5 451.1,450.3 451.9,450.9 452.9,450.6 453.2,451.3 454.4,450.7 454.6,451.4 455.9,450.7 456.6,451.8 456.7,451.5 457.3,450.0 458.5,450.8 458.9,451.5 460.0,452.4 459.8,452.1 461.0,451.8 462.1,451.6 462.4,452.6 463.0,451.8 463.8,452.6 464.7,452.4 465.1,450.8 466.1,451.8 466.9,452.2 466.9,451.0 467.5,452.4 468.2,451.0 469.6,452.5 469.6,453.1 471.0,452.7 471.0,453.2 472.1,453.0 473.4,453.6 474.0,452.2 474.1,453.0 474.4,454.1 475.4,452.5 476.1,452.6 477.4,453.3 477.8,453.0 478.0,452.8 479.6,453.9 480.2,452.8 480.2,452.3 481.3,453.1 481.9,453.3 482.7,453.1 483.7,452.8 484.5,453.6 484.2,453.1 485.5,453.3 486.2,453.1 486.6,454.2 487.3,454.0 488.6,453.8 488.9,454.5 489.6,454.4 489.9,453.5 491.2,452.7 492.1,452.7 492.5,453.0 493.6,453.8 494.2,453.7 494.7,454.1 495.0,453.1 496.3,453.0 497.1,453.1 496.9,452.9 498.4,454.8 498.6,454.1 499.2,454.7 500.3,453.0 500.4,454.2 501.0,454.5 502.0,453.2 503.0,453.4 503.7,453.1 504.8,453.5 505.4,453.1 506.1,454.9 506.3,452.8 507.0,454.2 507.5,454.0 508.1,453.8 509.5,453.7 510.1,453.0 511.0,453.1 511.8,455.0 512.5,454.0 512.5,453.6 513.7,453.9 514.6,453.0 514.8,454.7 515.6,454.0 515.8,453.2 516.7,454.8 518.0,453.4 518.8,452.9 519.1,455.0 519.6,455.0 520.6,453.0 520.8,453.9" stroke="#ff8c1e" />
<path d="M65.4,463.1 65.9,461.9 66.5,460.0 69.1,460.1 69.1,461.5 69.4,461.9 69.6,463.4 70.0,460.9 70.6,461.2 72.1,464.0 72.7,460.9 73.2,464.5 73.5,462.4 74.8,462.1 75.5,461.9 76.5,461.8 78.0,461.6 77.1,459.6 79.5,461.7 78.7,463.9 80.2,463.1 81.5,461.1 81.1,463.3 81.3,462.7 82.0,462.2 83.9,463.2 84.9,461.4 84.3,460.4 85.7,462.4 85.4,464.3 87.0,463.0 87.1,460.6 87.4,460.8 88.6,461.4 89.5,463.4 91.3,460.8 91.0,460.7 92.2,464.0 92.0,463.0 92.9,459.6 94.6,460.8 94.0,461.2 94.8,461.6 96.0,462.1 97.0,461.8 96.6,460.6 97.4,462.2 98.6,463.2 99.6,462.8 101.3,460.1 100.0,460.4 101.5,462.3 102.9,461.5 104.1,460.2 104.5,461.2 105.3,460.7 106.2,463.7 106.9,462.6 105.9,463.8 107.2,459.8 108.2,461.9 108.6,460.7 108.6,462.7 110.0,460.7 110.7,463.1 112.0,462.1 112.0,461.8 112.3,461.2 113.5,460.9 114.8,463.2 115.2,460.1 115.4,461.8 115.5,464.3 117.6,462.6 118.2,461.5 117.9,462.7 119.7,463.1 118.9,462.9 121.5,463.2 122.2,464.1 121.4,461.1 122.8,464.3 123.1,464.4 124.8,462.7 125.1,463.9 126.1,460.5 126.9,459.7 126.6,463.2 128.3,460.7 127.9,462.1 129.7,462.2 130.6,462.1 131.1,461.5 130.8,461.0 131.8,461.7 133.2,460.9 132.3,463.1 133.4,462.1 133.8,464.0 134.8,461.7 136.6,462.5 136.2,464.1 137.2,461.6 139.1,463.2 139.3,460.8 140.2,462.4 140.9,461.6 141.5,463.5 141.4,462.7 142.9,464.0 143.9,463.0 142.9,462.2 144.8,460.0 145.0,463.4 146.7,463.9 145.6,462.9 148.0,463.3 147.5,460.8 149.5,464.3 149.6,462.3 150.7,464.1 151.2,463.1 151.0,461.8 151.8,462.1 152.8,461.5 154.0,462.5 153.5,461.8 154.7,462.2 156.2,460.6 155.7,461.3 156.3,463.2 156.9,460.1 158.5,462.8 159.8,461.9 159.4,463.3 161.0,462.1 161.3,464.5 162.9,464.9 161.8,462.3 163.1,461.6 164.5,461.0 165.5,463.0 165.6,462.0 167.0,462.5 167.6,464.2 167.9,464.6 168.2,462.0 169.6,462.1 169.2,462.2 170.2,459.6 171.0,461.0 170.8,460.5 170.8,458.7 170.0,459.0 170.7,459.6 170.6,455.9 170.3,454.9 170.3,458.0 170.3,456.3 170.6,453.2 170.7,452.3 170.1,454.3 170.1,454.2 170.4,453.0 171.1,451.5 171.2,450.7 170.7,450.9 171.2,449.8 171.1,449.5 170.6,448.1 170.3,447.7 170.5,447.0 171.0,446.3 170.8,445.1 170.3,445.4 171.2,444.1 170.2,443.3 170.6,442.8 170.8,442.0 170.9,442.0 171.1,441.2 170.9,439.8 171.2,439.2 171.3,438.7 171.0,438.1 171.0,437.1 171.0,437.0 170.7,436.1 170.9,435.2 170.8,434.6 171.2,433.4 170.5,433.7 170.5,432.9 171.3,431.4 171.2,430.7 171.5,429.9 170.6,429.0 171.3,428.5 170.8,429.0 171.4,427.9 171.2,427.1 170.5,426.6 170.9,426.0 171.0,425.4 170.6,424.8 170.7,423.4 171.2,423.4 171.5,422.7 171.7,421.2 170.8,420.0 171.5,420.6 171.5,418.9 171.4,418.7 171.0,418.1 171.0,416.4 170.8,416.4 171.6,415.3 171.2,415.3 171.1,414.3 171.5,413.4 171.1,413.2 171.7,411.7 171.8,411.7 171.9,411.2 171.5,410.4 171.3,409.6 171.0,408.5 171.5,408.6 171.8,407.9 172.0,407.3 171.7,406.1 171.5,404.8 172.0,404.6 171.2,403.4 171.3,403.4 171.8,401.9 171.9,401.8 171.4,400.9 172.3,399.7 171.4,399.7 172.1,399.5 171.6,398.6 171.3,397.3 172.2,397.0 171.7,396.2 171.8,395.5 172.3,395.4 171.5,394.4 172.4,393.4 171.9,392.4 171.9,392.0 172.0,390.6 172.5,390.2 172.0,389.3 172.1,388.4 171.8,388.2 171.8,387.7 171.6,387.0 172.4,386.5 172.6,386.3 172.0,384.8 172.4,384.8 172.1,383.7 172.3,382.8 172.1,381.9 172.1,381.4 172.5,380.2 171.7,380.6 172.2,379.6 172.7,378.9 172.3,378.6 172.4,377.1 171.9,376.0 172.6,376.4 172.1,375.1 172.5,374.6 172.0,374.3 172.4,373.3 172.6,372.2 172.6,371.1 172.4,371.1 172.6,369.9 172.0,368.9 172.0,368.3 172.4,368.2 172.7,367.3 172.8,366.0 172.3,365.4 172.5,365.4 172.6,364.5 172.4,363.6 172.1,362.7 172.6,362.6 172.1,362.3 172.1,360.5 172.6,360.1 172.7,360.0 172.8,359.4 172.7,358.6 172.6,357.0 172.2,356.4 172.7,355.9 172.8,355.7 173.3,354.3 173.3,353.3 173.3,354.1 172.7,353.1 172.9,352.1 173.3,352.0 172.6,350.2 173.4,350.0 173.4,348.8 173.4,348.0 172.5,347.5 173.5,346.9 172.9,346.1 172.5,345.6 173.0,344.8 173.3,344.0 173.6,344.2 173.2,342.3 173.2,342.4 173.3,341.4 173.4,341.5 173.4,339.4 173.3,339.6 173.2,339.4 172.7,337.3 173.5,336.7 172.8,337.1 173.1,336.5 173.6,335.4 173.1,333.9 173.9,334.4 173.8,333.1 173.1,332.6 173.3,331.2 172.9,330.9 173.0,330.0 174.0,330.3 173.9,328.9 173.8,327.7 173.6,328.2 173.8,327.5 173.6,325.8 172.9,325.1 173.9,324.7 173.7,324.5 173.3,322.8 174.1,322.8 173.0,322.2 173.9,321.6 173.2,320.2 173.9,320.1 173.5,319.8 173.5,319.0 173.3,317.6 174.3,317.3 174.1,316.9 173.9,315.7 174.2,315.0 174.4,314.6 173.2,313.2 174.3,312.2 173.3,312.2 174.1,312.1 174.5,310.9 174.2,310.1 174.4,309.6 173.6,308.8 173.5,307.7 173.8,307.8 173.7,306.3 174.2,305.4 174.1,304.8 174.4,304.9 174.3,304.3 174.2,303.4 173.7,302.1 174.0,302.2 174.3,300.7 174.5,300.9 174.7,300.0 174.5,299.3 174.4,298.0 174.2,297.1 174.2,296.7 174.9,295.6 174.3,295.0 174.5,294.0 174.7,294.5 175.1,293.0 174.2,292.9 174.9,291.4 174.1,291.4 174.5,290.5 174.8,290.3 174.3,288.7 174.2,288.6 174.3,288.2 174.9,286.9 174.6,286.8 174.4,285.7 175.3,285.1 174.4,283.5 174.7,283.8 174.5,283.4 175.5,282.1 175.5,281.5 174.7,280.5 174.5,279.8 175.7,279.1 175.3,278.3 175.4,277.6 175.7,277.0 175.0,276.3 174.8,275.5 175.6,274.9 175.3,273.9 175.8,274.2 175.3,272.2 175.3,272.8 175.6,271.1 175.0,271.4 175.0,270.3 175.7,269.0 175.5,269.3 176.2,267.4 175.1,267.0 175.1,267.3 175.2,265.7 176.2,265.2 175.4,263.9 175.5,263.6 176.2,263.1 175.9,262.1 175.8,262.4 175.5,261.4 175.7,260.2 176.3,259.4 176.0,258.9 176.0,257.6 176.0,257.4 176.0,256.5 176.1,256.5 175.7,254.8 176.3,254.9 176.6,253.4 175.7,253.5 176.0,252.7 176.1,251.3 176.5,251.0 176.4,251.1 176.4,250.4 176.3,248.7 176.4,248.2 176.9,247.2 176.9,246.6 176.5,245.9 176.3,245.1 177.3,244.4 177.3,244.2 177.3,243.1 176.9,243.2 176.6,242.3 177.4,241.4 176.4,240.9 177.3,240.0 177.4,239.2 177.0,238.6 176.6,237.3 177.3,237.9 176.8,237.2 177.0,235.8 176.7,234.5 177.4,235.1 177.5,233.2 177.6,232.5 177.4,232.8 177.4,231.4 177.3,230.7 177.0,230.6 177.5,229.1 177.4,228.2 177.7,228.3 177.9,227.4 178.4,226.3 177.5,226.2 177.8,225.1 178.2,224.7 178.1,224.3 177.9,223.3 178.7,222.1 178.1,222.1 178.5,220.6 177.7,220.2 178.5,219.4 177.7,219.0 177.9,218.7 178.9,218.1 178.5,216.9 177.9,216.2 178.6,215.3 178.5,215.6 178.5,213.9 178.6,214.2 178.2,212.8 179.4,212.2 178.6,211.2 179.1,210.2 179.5,210.3 179.5,208.8 178.5,208.4 179.1,208.0 179.3,206.6 179.7,206.0 178.9,205.3 179.2,204.6 179.6,204.2 179.0,203.6 179.8,203.1 179.0,202.5 179.6,201.7 179.9,200.4 179.9,200.7 180.2,199.4 179.4,199.2 180.4,198.9 180.0,197.2 180.5,196.3 180.2,196.6 180.1,195.7 180.0,195.0 179.8,194.3 179.8,192.8 179.8,192.3 179.7,192.2 180.9,191.7 179.9,190.5 180.1,189.9 180.0,189.8 180.6,187.9 180.6,187.4 180.8,186.9 181.4,186.0 180.4,185.7 181.0,184.7 181.6,184.7 181.0,183.0 181.7,183.3 181.8,182.0 181.1,181.5 181.5,181.1 181.1,180.8 181.7,179.1 181.9,178.0 182.3,178.0 181.6,176.6 182.1,177.0 181.9,176.6 182.4,175.2 183.0,174.3 182.7,173.6 182.4,173.2 183.2,171.8 182.7,171.1 182.8,170.4 183.3,170.6 183.6,170.0 182.9,169.1 182.8,168.2 182.8,168.3 183.5,166.5 183.5,166.0 183.9,165.8 183.8,165.0 183.2,164.2 184.1,163.2 183.2,162.4 183.3,162.1 183.9,160.7 184.4,160.2 184.0,159.4 184.1,159.3 184.4,157.8 183.8,157.3 184.1,157.6 184.8,156.8 184.5,155.0 184.3,155.1 184.9,154.2 184.6,153.4 184.7,152.9 184.6,152.9 185.0,151.8 185.3,151.2 184.7,150.5 185.2,149.5 185.4,149.3 184.9,147.8 185.3,146.8 185.7,146.2 185.2,146.4 185.9,144.9 185.1,144.8 185.7,143.7 185.3,143.9 185.2,143.0 185.5,141.4 185.8,140.6 186.2,139.9 185.7,139.5 186.4,138.3 186.4,138.0 186.4,138.3 185.9,136.2 186.1,136.5 186.1,135.3 187.0,135.4 187.1,133.7 186.8,133.2 186.9,133.2 187.0,132.1 187.0,131.6 186.5,131.0 186.6,130.5 186.9,128.7 186.6,128.7 186.7,127.7 186.8,127.5 187.9,125.8 187.7,126.0 187.7,125.8 187.5,125.0 187.9,123.3 187.7,122.4 188.3,121.9 188.2,122.1 187.9,121.2 188.5,120.1 188.8,119.5 188.1,118.3 188.2,118.5 188.8,117.0 189.4,116.1 189.1,116.1 189.6,115.6 189.7,114.3 189.4,114.5 189.3,113.7 189.5,112.4 189.5,112.2 190.4,110.6 189.6,109.9 189.7,109.9 190.3,109.5 189.9,109.1 190.1,108.3 190.5,107.2 191.2,107.1 190.9,105.1 190.8,105.4 191.6,105.0 191.4,103.1 191.2,102.9 191.2,102.1 191.6,102.0 192.0,101.1 192.0,100.7 192.4,99.0 192.9,98.4 192.7,97.7 193.3,98.2 193.4,97.4 193.9,97.0 194.3,96.0 194.4,94.5 194.5,95.3 195.0,94.6 195.2,93.8 196.0,93.1 196.0,92.9 196.4,92.3 197.3,90.4 197.1,90.4 197.7,89.9 198.2,89.9 198.7,89.3 199.5,88.5 200.3,87.7 201.0,88.1 201.7,88.5 202.6,87.3 202.8,87.9 203.6,88.0 204.1,88.7 204.9,88.5 205.1,89.2 205.6,89.9 206.0,91.3 206.2,90.5 207.2,91.3 207.8,92.5 208.1,93.6 208.5,94.2 208.4,93.6 208.6,93.9 209.5,95.6 209.5,95.4 209.6,96.6 210.6,96.4 210.5,98.1 210.6,98.0 211.4,99.5 211.2,100.4 211.5,100.9 212.0,101.0 212.0,101.1 212.2,102.7 212.5,102.7 212.7,103.0 213.4,104.5 213.4,105.5 213.7,105.5 214.1,105.9 214.3,107.7 214.1,107.2 214.5,108.6 214.8,108.8 215.4,109.4 215.1,109.5 215.9,111.6 216.2,111.7 216.1,112.9 216.4,112.6 216.7,113.1 216.8,113.7 216.9,114.6 217.5,115.9 217.2,116.1 218.1,116.2 217.9,117.6 218.2,118.7 218.2,119.0 218.9,119.0 219.2,119.7 219.0,120.7 219.2,121.5 219.6,122.0 220.4,122.9 220.3,123.7 220.5,124.1 221.1,125.3 220.7,125.5 221.5,126.4 221.5,126.0 221.7,126.9 222.0,127.3 222.0,129.2 222.5,129.6 222.8,129.7 223.1,131.1 223.0,131.4 223.8,132.5 223.8,131.8 224.1,133.1 224.6,133.4 224.2,133.8 224.8,135.3 224.9,136.3 225.6,135.9 225.5,137.0 225.4,137.3 226.0,138.3 226.0,138.4 226.6,140.3 226.4,140.9 226.8,141.6 227.5,142.4 227.0,142.7 227.3,142.3 227.9,143.3 228.5,144.3 228.2,145.0 228.6,144.9 229.1,146.4 229.3,147.4 229.5,146.8 229.7,148.4 229.9,149.0 230.3,148.9 230.2,150.7 230.4,151.5 231.1,151.6 231.1,151.5 231.0,152.9 231.1,153.7 231.7,153.6 232.0,154.8 231.8,155.1 232.1,156.2 232.6,156.7 233.1,156.8 233.3,158.1 233.1,158.4 233.3,160.2 233.8,159.8 233.8,161.4 234.0,162.0 234.3,161.4 234.3,163.4 235.2,164.0 235.2,163.4 235.4,164.4 235.5,166.0 235.6,166.4 235.7,166.1 236.0,167.2 236.2,168.4 236.6,168.7 236.7,169.5 236.8,169.5 237.1,170.4 237.8,171.1 237.6,172.0 237.7,172.5 238.3,173.5 238.8,174.0 238.7,174.2 238.9,176.0 239.2,175.4 239.3,177.1 239.2,178.0 240.0,178.2 240.2,178.7 240.3,179.3 240.6,179.6 240.5,180.4 240.9,181.9 241.1,182.1 241.6,182.2 241.3,183.6 241.9,184.1 241.8,185.2 242.2,184.6 242.1,186.5 242.4,186.1 242.6,187.8 242.7,187.9 243.5,188.6 243.4,188.8 243.4,189.7 243.7,190.3 243.8,191.0 244.4,192.7 244.4,192.7 244.5,193.2 244.7,193.8 244.9,195.3 245.6,194.9 245.2,195.9 245.7,197.3 245.8,197.9 246.5,198.1 246.7,199.2 246.4,199.9 247.2,199.9 247.3,200.0 247.6,202.1 247.9,202.6 247.9,202.9 247.9,203.3 248.1,203.5 248.1,204.5 249.0,204.7 248.7,206.1 249.3,207.3 249.3,207.3 249.8,207.7 249.7,208.6 249.8,209.1 250.1,210.6 250.6,210.0 250.5,210.9 251.0,212.1 251.0,212.6 250.9,213.3 251.2,214.5 251.7,214.4 251.6,215.0 252.2,216.3 252.1,216.3 252.6,218.0 252.2,217.7 252.9,218.1 252.8,219.2 253.2,220.1 253.1,220.4 253.3,220.7 253.2,222.3 253.7,222.3 254.0,223.6 253.9,223.9 254.2,224.4 254.3,225.6 254.3,226.7 254.7,226.4 255.1,227.0 255.3,227.5 255.6,228.4 255.2,229.6 255.8,230.2 255.7,230.9 256.2,231.7 255.9,232.8 256.0,233.1 256.3,233.3 256.3,234.4 256.5,235.8 257.1,236.3 257.0,236.9 256.9,237.1 257.5,237.8 257.2,238.1 257.8,238.4 257.4,240.2 257.8,240.6 257.9,240.8 258.6,242.5 258.7,242.5 258.5,243.6 258.7,244.3 258.9,244.8 259.1,245.4 259.3,245.9 259.2,246.6 260.1,246.7 259.6,247.4 259.9,249.0 260.6,249.0 260.4,249.4 260.7,251.0 261.3,251.2 261.4,251.5 261.7,252.9 261.4,253.3 262.0,254.4 262.0,254.9 262.7,254.8 262.3,255.5 263.0,257.3 263.2,257.8 263.3,258.0 263.6,258.4 264.0,258.5 263.8,259.5 264.2,260.0 264.3,260.7 264.6,261.6 265.4,262.8 265.2,262.7 265.6,263.0 266.3,264.7 266.2,264.6 266.5,264.9 266.6,266.2 266.9,266.7 267.6,268.0 268.0,267.7 268.4,269.4 268.2,269.5 268.4,269.9 269.0,271.1 269.0,270.7 269.6,271.6 269.6,272.8 270.0,273.6 270.8,273.2 271.3,274.3 271.6,274.5 271.8,275.1 271.9,275.7 272.3,276.1 272.5,277.1 272.7,277.4 272.8,278.3 272.7,279.8 272.7,280.0 272.8,280.7 272.9,281.5 273.0,281.5 273.5,282.8 273.2,283.7 273.5,285.1 273.4,284.4 273.7,286.3 273.6,286.0 273.8,287.6 274.0,287.7 274.3,289.1 274.5,289.5 274.5,289.4 275.0,290.6 274.9,291.0 274.9,292.0 275.2,292.1 274.9,293.0 275.7,293.5 275.4,294.0 275.5,295.9 276.0,295.7 276.3,296.6 276.4,297.1 276.1,298.8 276.6,298.6 276.8,299.4 277.1,300.4 276.9,300.9 277.8,301.3 278.0,301.8 278.5,300.1 278.9,299.7 279.0,299.1 279.5,299.0 279.4,297.7 280.0,297.8 279.9,296.2 280.1,296.4 280.3,295.3 280.8,294.4 281.2,295.0 281.4,293.6 281.8,292.8 281.9,291.7 281.5,291.8 281.5,291.5 281.8,289.7 282.3,289.8 282.1,288.9 282.1,287.7 282.0,287.7 282.5,286.8 282.4,286.1 282.4,285.4 282.5,287.0 283.0,287.6 283.3,288.1 283.0,288.0 283.2,288.7 283.6,290.5 283.1,290.4 283.5,291.8 283.5,292.7 283.3,292.8 283.3,293.0 283.4,293.8 283.7,295.2 283.5,296.2 283.7,296.5 283.7,296.2 284.0,297.6 284.4,297.8 284.5,298.9 284.6,299.1 284.3,301.0 284.2,300.9 284.2,301.4 284.3,302.0 284.7,303.9 284.4,303.7 284.7,304.7 284.8,305.9 285.1,305.3 284.8,307.1 285.2,307.2 285.4,307.4 285.0,308.7 285.0,309.7 284.9,310.8 285.6,310.4 285.7,311.7 285.8,313.0 285.4,313.6 285.4,313.1 285.6,314.2 285.9,315.3 285.9,315.9 286.5,316.2 287.3,316.1 287.0,314.9 287.5,314.8 288.0,314.7 288.0,313.3 288.4,312.9 289.1,313.7 289.6,313.2 290.1,314.1 290.4,315.5 290.3,315.4 290.1,316.5 290.8,317.3 290.8,318.2 291.0,319.0 291.3,319.6 291.2,319.7 291.6,320.2 291.3,321.1 291.4,321.3 291.9,322.6 291.6,323.2 292.3,324.8 292.3,324.8 292.1,325.9 293.0,326.6 293.2,326.4 293.6,327.1 293.9,325.4 294.1,325.9 295.1,324.3 294.9,324.8 295.2,323.2 295.7,323.7 295.4,322.3 295.9,321.6 296.3,320.8 296.5,320.5 297.1,319.5 297.4,319.7 297.7,319.0 298.3,318.9 298.4,319.7 298.2,320.9 298.3,321.0 298.8,322.1 298.6,322.6 298.6,323.3 299.3,324.5 298.8,325.0 299.6,324.9 299.7,326.4 299.3,326.6 299.7,327.9 299.8,327.7 299.5,328.3 299.9,329.1 300.1,329.9 299.9,330.0 300.4,331.3 300.7,332.8 300.4,332.2 300.9,334.1 300.9,334.7 300.5,334.7 301.1,336.1 301.0,336.0 301.2,337.4 301.0,337.4 301.2,337.9 301.3,338.3 301.5,339.4 302.0,340.9 301.7,341.2 302.1,342.0 302.3,343.1 302.8,343.7 303.4,343.2 303.3,343.0 304.1,341.8 304.3,341.0 304.5,340.6 304.3,339.2 304.6,339.0 305.0,339.0 304.9,338.2 305.0,336.6 305.7,337.1 305.5,335.5 306.0,334.8 306.2,334.0 306.5,334.5 306.3,332.6 306.7,332.8 307.1,332.0 308.1,332.6 308.1,332.5 308.4,333.7 308.4,334.3 308.5,335.5 308.9,335.9 308.7,336.4 309.4,337.7 309.1,337.8 309.4,339.1 309.6,339.3 309.6,339.9 310.1,340.0 309.6,342.0 310.5,341.6 310.7,342.8 310.9,342.9 311.1,343.5 311.2,344.2 311.3,344.6 312.1,345.7 312.3,345.8 312.8,346.6 313.8,346.7 314.1,346.4 315.0,347.2 315.7,347.9 315.9,347.4 316.9,347.8 317.6,347.9 318.1,348.5 318.7,349.2 319.5,349.7 320.0,349.9 320.8,349.2 321.3,350.6 321.4,350.3 322.0,351.1 322.6,351.2 323.0,352.4 323.5,352.4 323.4,354.1 323.9,353.8 324.3,355.4 324.5,355.1 324.5,356.4 324.8,356.5 324.8,357.3 325.5,358.5 325.5,358.0 325.7,359.6 325.7,360.0 326.2,360.2 326.2,361.0 327.1,362.7 326.8,362.9 327.8,363.1 328.1,363.4 329.0,363.4 328.8,362.5 329.6,362.3 329.2,361.8 329.6,361.1 330.2,360.2 330.0,358.9 330.2,359.1 330.3,357.8 331.0,357.8 330.4,357.1 331.1,356.3 330.9,356.0 331.8,354.1 331.8,353.9 332.5,353.8 333.0,353.4 333.2,354.5 333.0,356.1 333.2,356.2 333.9,356.7 333.5,357.5 333.6,357.6 333.7,358.6 334.5,360.2 334.6,360.0 334.0,361.3 334.7,362.2 334.3,362.8 335.0,363.5 334.5,364.2 334.7,364.3 335.0,365.1 335.3,366.3 335.0,366.8 335.6,366.8 336.0,367.4 336.1,368.3 336.0,369.7 336.4,369.3 336.1,370.3 336.5,371.8 337.1,372.1 338.2,372.0 338.2,370.5 338.6,370.0 339.1,370.1 339.6,368.9 339.8,368.8 340.0,367.4 340.4,367.0 340.4,366.9 341.1,366.5 341.4,366.0 341.6,364.4 341.6,364.7 342.0,363.8 342.6,363.7 343.4,364.1 343.7,364.8 344.2,365.3 344.4,366.9 344.1,366.5 344.5,368.3 344.7,368.2 344.5,368.4 345.0,369.6 344.9,369.7 345.5,371.5 345.6,372.2 345.9,372.7 346.1,373.8 346.7,373.7 346.9,374.6 346.8,375.5 347.5,375.2 348.4,375.3 349.3,375.6 349.8,375.8 350.6,375.0 351.2,373.8 351.8,374.7 352.5,373.4 352.6,374.4 353.6,374.1 354.6,373.3 354.7,373.7 355.5,374.5 356.5,374.6 357.0,374.5 357.1,376.1 357.6,376.2 358.6,376.1 359.3,377.2 359.3,376.9 359.9,377.0 360.5,377.9 361.2,378.1 361.6,378.1 362.8,378.6 363.0,379.9 363.6,379.8 364.5,380.4 365.0,380.7 365.6,381.0 366.6,381.5 366.6,382.1 367.3,382.0 368.1,381.9 368.3,382.8 369.3,382.5 369.9,382.5 370.3,383.9 371.5,383.4 371.6,383.8 372.4,383.2 372.9,383.0 373.6,382.7 374.7,382.7 375.0,382.6 375.5,382.3 376.4,382.0 376.7,382.0 377.2,382.9 377.0,383.0 377.6,384.3 377.6,384.9 378.3,384.9 377.9,385.7 378.8,387.1 378.9,386.8 378.8,388.0 379.2,387.9 380.5,388.8 380.6,388.1 381.2,386.8 382.0,386.7 382.4,386.3 382.6,385.0 383.3,385.2 383.9,385.6 384.2,384.5 384.9,385.3 385.6,386.6 385.6,386.8 386.1,387.0 386.9,387.7 387.1,388.7 387.4,388.5 388.5,389.8 388.5,390.2 389.1,390.2 389.7,391.3 390.3,390.1 391.0,390.5 390.9,389.0 391.4,388.3 391.9,388.0 392.6,387.7 393.2,387.0 393.7,386.8 394.0,386.4 394.1,387.1 394.3,389.0 394.7,389.3 395.4,389.5 395.1,390.6 395.9,391.3 395.9,391.4 395.6,392.0 396.3,392.5 396.5,394.4 396.7,395.0 396.2,394.5 396.8,395.8 396.9,396.6 397.1,396.8 396.8,397.6 397.6,398.1 397.4,398.9 397.6,400.5 397.8,399.8 398.1,401.9 398.1,401.3 398.0,402.8 398.6,402.7 398.4,403.2 399.0,405.1 398.9,405.5 399.4,405.8 399.5,406.7 399.9,407.9 400.0,407.2 400.0,408.7 400.5,408.7 400.4,409.2 401.0,410.9 401.5,410.4 401.8,412.4 401.4,412.0 402.4,412.8 402.6,412.9 403.0,414.8 403.3,414.2 403.1,416.2 404.1,416.7 404.1,416.3 404.8,416.5 405.6,416.9 406.0,417.4 406.7,418.3 407.3,418.8 407.7,419.1 408.1,420.0 408.1,419.9 408.4,420.6 409.2,421.1 409.3,422.9 409.8,423.5 409.9,422.7 410.5,423.8 410.6,424.5 410.9,425.2 411.5,425.3 411.8,426.8 411.5,427.2 411.7,428.2 411.4,428.4 411.6,429.9 411.9,429.7 411.9,431.4 412.1,430.9 412.3,432.7 412.9,432.2 414.2,432.5 414.8,432.4 415.2,432.5 415.8,433.7 416.7,433.1 417.5,432.5 418.1,433.6 418.1,433.6 418.4,434.4 419.1,434.6 419.0,435.6 419.2,436.4 419.7,436.9 420.0,437.9 420.3,438.9 420.6,440.5 420.7,440.2 422.2,440.8 422.7,441.2 422.9,440.3 423.4,440.5 424.6,441.1 425.5,440.5 426.3,439.7 426.8,441.3 427.3,440.2 427.8,441.5 428.0,441.6 428.5,442.7 429.3,441.5 429.9,442.9 430.3,443.3 431.1,443.9 431.6,443.9 432.5,445.0 433.3,444.5 433.5,445.8 433.8,446.8 435.0,445.4 435.6,447.5 435.7,447.0 437.0,447.2 437.4,447.9 437.6,448.8 438.8,447.2 438.8,447.4 439.6,449.5 440.9,448.7 441.5,449.6 441.9,449.4 442.1,450.1 443.4,450.6 443.6,450.0 444.4,449.1 444.9,449.2 446.3,449.4 447.2,449.2 447.1,449.3 448.6,449.4 449.1,449.7 449.4,448.6 450.5,449.7 450.7,449.9 451.2,449.3 452.3,450.3 452.7,449.2 453.5,449.8 454.6,450.9 455.3,450.2 455.6,448.4 456.4,448.9 457.2,451.0 457.5,450.2 458.6,449.3 459.4,450.2 459.9,448.9 460.8,450.6 461.7,451.1 462.1,450.1 462.3,450.8 463.1,450.1 463.8,449.4 464.9,448.3 465.9,448.5 466.4,448.3 466.6,448.1 467.5,448.5 468.6,449.6 469.3,448.6 469.7,450.1 470.3,449.9 471.2,449.7 471.1,451.1 472.5,450.8 472.8,451.4 473.4,450.9 473.8,452.3 474.9,452.6 475.6,452.8 476.2,452.8 477.2,452.6 477.6,452.4 477.9,452.1 479.3,451.9 479.7,452.6 480.4,452.3 480.9,452.6 481.6,452.5 482.1,453.1 482.8,452.8 484.3,453.1 484.5,452.0 485.3,452.7 486.3,453.2 486.5,452.5 486.9,452.6 488.5,452.2 489.2,452.9 489.7,453.1 489.7,452.9 491.0,453.1 491.2,451.9 492.2,453.5 492.5,452.6 493.4,452.1 494.8,452.8 495.5,452.3 496.0,451.9 496.8,452.8 497.6,452.7 497.9,452.0 498.9,453.0 499.2,452.0 499.5,453.4 500.6,453.1 501.6,453.3 502.0,452.2 502.7,452.6 503.8,453.6 503.8,453.3 505.3,452.8 505.9,452.2 506.3,453.5 506.8,453.4 507.4,452.7 508.8,453.1 509.4,451.8 510.1,452.8 510.4,453.5 511.2,452.1 511.7,451.8 512.7,452.0 513.0,452.8 513.8,451.8 514.8,452.8 515.7,453.5 516.5,453.5 516.9,452.6 517.2,452.4 518.4,453.6 519.1,453.0 519.2,451.8 520.0,453.3 520.8,451.9 521.0,451.8" stroke="#ff0a0a" />
<path d="M183.4,116.5 182.7,115.5 183.4,114.6 183.1,114.7 183.0,112.9 183.5,112.2" stroke="#ffd232" />
<path d="M184.9,156.3 185.3,154.5 185.0,153.6 185.9,153.8 185.9,153.2 185.2,152.3" stroke="#ff8c1e" />
<path d="M187.7,135.7 186.8,135.0 187.8,135.4 186.9,134.0 187.6,133.8 187.3,132.7" stroke="#ff8c1e" />
<path d="M174.5,446.8 173.9,446.1 173.9,445.5 174.4,444.0 174.6,444.1 174.3,442.3" stroke="#ff8c1e" />
<path d="M170.4,458.3 170.9,456.8 170.7,458.9 171.4,458.9 172.6,459.1 173.1,459.6" stroke="#ffd232" />
<path d="M179.9,158.5 180.2,156.8 179.6,156.6 179.3,156.2 180.1,155.0 180.1,155.3" stroke="#ffd232" />
<path d="M178.9,185.6 178.8,185.0 177.9,184.6 179.0,184.3 178.1,183.8 178.3,183.0" stroke="#ffd232" />
<path d="M178.0,191.5 178.0,190.6 178.7,189.6 177.8,189.7 178.7,189.1 177.8,188.2" stroke="#ffd232" />
<path d="M184.3,169.3 184.2,168.8 184.5,168.2 184.0,167.7 184.9,166.4 184.8,165.4" stroke="#ff8c1e" />
<path d="M177.6,224.6 177.7,225.0 176.6,223.2 176.7,222.6 176.8,222.1 177.2,221.8" stroke="#ffd232" />
<path d="M171.4,457.5 171.9,456.9 171.7,456.6 171.5,455.9 172.1,454.3 172.2,454.6" stroke="#ffd232" />
<path d="M173.1,396.2 173.0,394.7 172.4,394.3 173.2,393.6 173.0,392.5 172.4,392.2" stroke="#ff8c1e" />
<path d="M178.7,189.1 177.8,188.2 178.9,188.0 178.0,187.5 178.9,185.6 178.8,185.0" stroke="#ffd232" />
<path d="M179.1,221.9 179.3,221.3 179.4,221.5 179.2,219.8 179.2,219.6 179.8,218.5" stroke="#ff8c1e" />
<path d="M173.7,381.6 174.0,381.2 174.5,380.8 174.3,379.7 174.4,378.8 173.9,378.0" stroke="#ffd232" />
<path d="M173.7,359.5 173.3,358.4 173.3,358.8 173.7,357.1 174.2,357.5 173.7,355.6" stroke="#ff8c1e" />
<path d="M176.2,252.6 177.0,252.4 176.2,252.2 176.3,250.9 176.6,250.2 177.0,249.3" stroke="#ffd232" />
<path d="M176.3,276.3 176.4,274.7 176.4,274.5 176.3,274.2 176.2,273.0 177.0,271.8" stroke="#ffd232" />
<path d="M174.4,325.7 174.7,325.9 174.2,324.0 174.3,323.8 174.8,322.8 174.9,322.9" stroke="#ff8c1e" />
<path d="M173.0,412.1 173.2,411.9 173.1,410.8 173.8,411.0 174.0,409.6 173.9,409.5" stroke="#ffd232" />
<path d="M178.3,179.5 178.2,178.6 178.4,177.2 178.5,176.5 177.5,176.2 177.6,175.1" stroke="#12661c" />
<path d="M177.5,224.2 178.0,223.7 178.6,223.0 178.2,221.5 178.7,221.3 177.8,220.3" stroke="#9b1fe0" />
<path d="M173.3,388.7 173.7,388.9 174.0,387.4 174.5,386.4 173.6,386.8 174.5,385.7" stroke="#12661c" />
<path d="M174.7,318.6 175.6,318.3 175.1,318.2 174.7,317.0 175.2,315.8 175.2,315.8" stroke="#000000" />
<path d="M173.8,389.6 173.2,387.9 173.6,387.7 173.3,386.3 173.4,386.2 173.4,386.0" stroke="#000000" />
<path d="M177.4,226.5 177.4,225.4 176.5,224.6 177.3,224.6 176.4,223.1 177.4,223.1" stroke="#96be3c" />
<path d="M174.8,363.4 174.6,362.9 174.5,361.7 174.8,362.1 175.0,360.4 174.8,359.8" stroke="#96be3c" />
<path d="M181.0,197.6 180.7,196.0 180.4,195.5 181.2,195.2 181.1,195.2 180.7,193.5" stroke="#ff8c1e" />
<path d="M182.6,112.4 182.9,110.6 182.3,110.1" stroke="#12661c" />
<path d="M173.2,378.9 172.9,378.3 173.1,378.3 172.7,377.5 173.7,375.9 173.9,376.0" stroke="#ff8c1e" />
<path d="M171.9,456.7 171.5,455.1 171.0,454.3 171.2,454.6 172.1,453.7 171.3,452.2" stroke="#12661c" />
<path d="M174.0,377.1 174.6,376.4 174.0,376.1 174.2,375.1 174.3,374.7 174.7,374.3" stroke="#96be3c" />
<path d="M174.0,400.0 174.4,398.8 173.3,399.1 173.7,397.4 173.9,398.0 173.9,396.4" stroke="#96be3c" />
<path d="M182.3,176.1 183.2,176.1 183.6,175.0 183.8,175.0 183.5,174.3 183.5,172.5" stroke="#9b1fe0" />
<path d="M178.6,236.1 177.9,235.7 178.3,234.9 177.9,234.1 178.6,234.3 177.8,233.1" stroke="#ff8c1e" />
<path d="M176.9,195.9 176.9,195.6 177.1,194.9 177.0,193.5 177.8,193.0 177.4,192.8" stroke="#12661c" />
<path d="M179.1,213.9 180.0,213.0 180.2,212.4 180.2,211.6 179.8,211.9 179.5,210.3" stroke="#ff8c1e" />
<path d="M174.6,339.1 175.0,337.5 175.2,336.7 174.3,336.8 174.2,335.7 174.3,335.1" stroke="#000000" />
<path d="M174.6,365.0 174.6,365.2 174.1,364.4 174.8,363.1 174.9,362.6 175.1,362.4" stroke="#ffd232" />
<path d="M178.0,181.4 178.1,181.7 178.0,180.6 178.6,179.5 178.5,179.0 177.8,177.7" stroke="#96be3c" />
<path d="M176.2,281.8 176.7,280.9 176.0,280.3 176.4,279.5 176.0,278.2 176.6,277.4" stroke="#ffd232" />
<path d="M176.9,223.6 176.4,223.0 177.0,222.1 176.5,221.6 177.0,220.3 177.0,219.6" stroke="#12661c" />
<path d="M170.7,460.3 171.4,459.7 171.7,459.4 171.3,457.7 171.4,457.5 171.9,456.9" stroke="#ffd232" />
<path d="M173.4,413.5 173.6,412.8 173.3,412.2 173.2,412.6 173.6,411.8 173.1,410.5" stroke="#12661c" />
<path d="M174.4,350.6 175.2,350.6 175.0,350.5 175.0,348.7 175.6,347.9 174.5,347.4" stroke="#ffd232" />
<path d="M176.7,276.7 175.7,276.7 176.6,275.1 176.6,275.3 176.3,273.9 175.7,272.9" stroke="#12661c" />
<path d="M174.8,343.5 175.2,342.7 175.4,341.6 174.7,341.3 175.7,339.5 174.8,339.6" stroke="#ffd232" />
<path d="M176.0,275.3 175.9,275.5 176.4,274.0 176.2,274.3 176.4,272.5 176.8,272.4" stroke="#ff8c1e" />
<path d="M175.2,340.9 175.0,341.2 174.4,339.9 174.8,339.9 174.6,339.1 175.0,337.5" stroke="#000000" />
<path d="M176.3,273.9 175.7,272.9 176.2,273.1 176.4,271.7 176.6,270.8 176.4,270.2" stroke="#12661c" />
<path d="M175.5,323.6 175.7,322.4 175.7,321.6 175.4,321.8 176.0,320.7 176.0,319.8" stroke="#ffd232" />
<path d="M178.0,170.5 178.7,170.4 178.2,169.5 178.1,168.6 178.3,167.6 178.1,167.4" stroke="#96be3c" />
<path d="M179.7,154.2 179.8,152.5 179.5,152.4 179.0,151.3 180.1,151.5 179.2,150.8" stroke="#96be3c" />
<path d="M175.7,284.7 176.4,284.0 175.7,282.1 175.5,282.0 176.3,281.2 175.7,280.4" stroke="#ff8c1e" />
<path d="M173.4,405.6 173.4,404.8 173.4,403.9 173.8,403.4 173.6,403.3 173.2,401.7" stroke="#9b1fe0" />
<path d="M176.4,265.2 176.0,264.5 176.7,264.1 176.6,264.2 176.2,262.6 176.0,262.3" stroke="#12661c" />
<path d="M172.5,387.6 173.5,387.6 173.0,385.9 172.8,386.1 172.8,384.9 172.7,384.1" stroke="#ff8c1e" />
<path d="M176.1,305.3 175.8,304.9 176.2,303.4 175.4,302.8 175.9,301.8 175.7,301.7" stroke="#000000" />
<path d="M173.0,421.0 173.5,420.5 173.1,419.8 172.9,418.8 172.9,418.2 172.8,417.0" stroke="#ff8c1e" />
<path d="M174.5,345.0 173.5,345.2 174.5,344.2 174.2,342.8 173.9,343.4 174.5,342.6" stroke="#ff8c1e" />
<path d="M173.5,418.2 173.5,418.3 173.4,417.7 173.7,415.7 173.8,415.9 173.6,414.2" stroke="#ffd232" />
<path d="M176.6,270.8 176.4,270.2 175.7,269.5 176.6,268.9 175.7,268.5 176.1,268.0" stroke="#12661c" />
<path d="M173.5,424.6 174.3,423.3 173.4,423.2 173.4,421.7 173.0,421.0 173.5,420.5" stroke="#ff8c1e" />
<path d="M187.6,130.2 188.2,129.9 187.6,129.4 187.6,128.9 188.5,128.2 188.5,126.9" stroke="#ff8c1e" />
<path d="M173.4,417.5 173.6,416.1 173.4,415.0 173.1,414.4 173.3,414.0 174.0,413.0" stroke="#96be3c" />
<path d="M178.3,182.4 177.7,181.0 178.0,180.4 177.9,179.5 178.3,179.5 178.2,178.6" stroke="#12661c" />
<path d="M176.3,249.1 176.3,248.3 176.9,247.1 176.6,247.2 176.0,246.6 176.5,245.5" stroke="#96be3c" />
<path d="M183.0,112.9 183.5,112.2 183.2,111.9 183.7,111.9 183.5,110.3" stroke="#ffd232" />
<path d="M173.5,414.7 173.1,414.0 173.1,412.0 173.3,411.8 174.0,411.8 173.9,410.5" stroke="#9b1fe0" />
<path d="M175.8,293.5 175.5,293.6 176.3,292.6 175.8,291.2 176.1,291.5 175.9,290.2" stroke="#12661c" />
<path d="M172.8,444.0 172.1,442.4 172.2,442.4 173.0,441.0 172.8,440.3 173.0,440.5" stroke="#ffd232" />
<path d="M174.0,375.6 173.9,373.6 173.9,374.0 174.5,373.5 174.3,371.5 174.1,371.8" stroke="#12661c" />
<path d="M173.8,415.9 173.6,414.2 173.9,414.2 173.6,413.1 173.0,412.1 173.2,411.9" stroke="#ffd232" />
<path d="M172.8,404.6 172.9,404.0 172.7,402.3 173.1,402.7 172.7,401.7 172.9,400.3" stroke="#ff8c1e" />
<path d="M181.0,138.1 181.1,137.5 181.8,136.5 181.7,136.4 180.8,136.3 181.2,134.6" stroke="#ffd232" />
<path d="M173.4,460.9 173.7,461.2 173.2,461.5 172.4,462.0 171.6,461.2 171.4,460.5" stroke="#96be3c" />
<path d="M175.8,335.7 176.0,335.6 175.3,334.1 176.3,334.2 175.4,333.2 176.2,332.4" stroke="#9b1fe0" />
<path d="M175.1,330.7 175.1,329.4 175.1,329.4 175.1,327.9 174.5,328.0 175.1,326.6" stroke="#000000" />
<path d="M177.1,267.1 177.1,266.5 176.4,266.3 177.3,264.6 176.9,264.6 176.4,263.6" stroke="#ff8c1e" />
<path d="M176.6,217.6 177.1,217.7 177.6,217.1 176.6,216.3 177.6,214.9 177.5,214.3" stroke="#96be3c" />
<path d="M174.5,330.9 174.1,330.9 174.9,330.4 174.9,329.5 174.1,328.5 175.0,328.4" stroke="#ff8c1e" />
<path d="M173.7,402.6 174.0,402.6 173.4,401.2 174.0,401.5 174.0,400.0 174.4,398.8" stroke="#96be3c" />
<path d="M174.9,324.6 174.7,324.4 175.0,323.5 175.4,322.9 175.4,322.2 174.9,321.7" stroke="#000000" />
<path d="M176.4,223.1 177.4,223.1 177.5,221.7 177.1,221.1 177.3,221.1 177.2,219.9" stroke="#96be3c" />
<path d="M180.9,191.6 181.1,191.2 181.5,190.0 181.6,189.7 181.1,189.6 181.3,187.8" stroke="#ff8c1e" />
<path d="M177.4,187.4 178.4,187.3 177.9,185.4 178.3,184.8 178.0,184.0 178.6,184.0" stroke="#96be3c" />
<path d="M174.2,360.6 174.5,360.0 174.7,359.1 174.4,359.1 174.7,358.8 175.1,357.1" stroke="#12661c" />
<path d="M173.6,386.7 173.9,385.4 174.3,384.2 174.2,383.4 173.9,383.9 174.7,382.6" stroke="#9b1fe0" />
<path d="M179.2,219.6 179.8,218.5 179.8,219.0 179.7,218.1 179.1,217.6 179.5,216.9" stroke="#ff8c1e" />
<path d="M176.1,327.9 175.8,327.1 175.9,326.1 175.3,325.3 176.1,324.2 176.3,323.9" stroke="#96be3c" />
<path d="M172.3,450.8 172.1,450.0 172.0,448.7 172.3,447.7 171.8,448.0 172.0,447.3" stroke="#9b1fe0" />
<path d="M172.8,420.7 173.6,420.9 174.0,420.3 173.3,418.8 173.5,418.2 173.5,418.3" stroke="#ffd232" />
<path d="M180.5,146.4 180.0,145.9 181.2,145.7 180.1,145.0 180.7,143.8 181.0,144.0" stroke="#ffd232" />
<path d="M180.6,129.0 180.6,127.7 181.3,127.4 181.4,127.1 181.6,125.3 181.0,125.1" stroke="#12661c" />
<path d="M175.1,337.9 175.1,337.7 175.3,337.4 175.2,337.1 175.7,336.4 175.6,335.3" stroke="#96be3c" />
<path d="M183.5,174.3 183.5,172.5" stroke="#9b1fe0" />
<path d="M172.9,425.1 173.4,424.4 173.2,423.4 173.7,423.4 173.7,422.4 173.8,421.9" stroke="#96be3c" />
<path d="M185.1,161.9 184.9,161.0 185.3,160.3 185.0,159.5 185.2,158.2 184.9,157.9" stroke="#ff8c1e" />
<path d="M178.0,184.0 178.6,184.0 177.9,182.9 178.1,183.2 178.0,181.4 178.1,181.7" stroke="#96be3c" />
<path d="M173.7,382.3 172.9,381.9 173.2,379.9 172.7,379.9 173.2,378.9 172.9,378.3" stroke="#ff8c1e" />
<path d="M177.7,228.9 177.2,228.4 178.1,227.5 177.5,227.4 178.0,227.0 178.0,226.4" stroke="#9b1fe0" />
<path d="M175.2,204.7 175.6,204.2 175.6,202.4 175.8,202.6 175.7,201.9 176.0,200.5" stroke="#0a0ad2" />
<path d="M189.0,120.0 189.7,119.1 189.3,118.0 190.1,117.5 189.4,116.7 190.5,115.7" stroke="#ff8c1e" />
<path d="M177.5,176.2 177.6,175.1 178.1,174.3 177.9,173.9 178.6,172.8 178.1,172.6" stroke="#12661c" />
<path d="M176.1,243.8 176.6,242.3 177.0,241.3 176.4,241.4 176.1,240.6 177.0,239.7" stroke="#12661c" />
<path d="M177.9,204.3 177.6,203.4 177.8,203.3 177.2,201.5 177.2,201.2 178.0,200.4" stroke="#96be3c" />
<path d="M175.0,320.1 174.3,320.1 174.4,319.7 174.7,317.9 174.4,317.5 174.9,317.6" stroke="#ff8c1e" />
<path d="M173.3,360.4 173.5,360.3 173.4,358.9 173.9,358.8 174.2,357.6 173.8,357.3" stroke="#0a0ad2" />
<path d="M173.6,362.2 173.4,362.1 174.2,360.7 173.8,360.0 173.7,359.5 173.3,358.4" stroke="#ff8c1e" />
<path d="M176.6,228.7 176.5,227.1 177.1,226.6 177.5,225.4 177.6,224.6 177.7,225.0" stroke="#ffd232" />
<path d="M173.7,422.7 173.2,422.3 173.2,421.6 173.9,420.4 173.6,420.3 173.7,419.4" stroke="#9b1fe0" />
<path d="M184.9,166.4 184.8,165.4 184.2,165.0 184.8,165.3 184.9,163.8 185.1,163.1" stroke="#ff8c1e" />
<path d="M176.8,222.1 177.2,221.8 176.9,221.7 177.3,220.4 177.7,219.8 177.7,219.4" stroke="#ffd232" />
<path d="M174.0,440.3 174.3,439.8 174.8,439.1 174.5,438.2 174.3,437.3 174.1,436.6" stroke="#ff8c1e" />
<path d="M176.2,308.0 176.3,307.4 175.6,306.4 176.5,306.3 175.9,305.5 176.3,304.9" stroke="#96be3c" />
<path d="M174.2,357.5 173.7,355.6 173.4,354.8 173.6,354.1 173.5,353.7 173.9,353.9" stroke="#ff8c1e" />
<path d="M176.2,298.1 176.0,298.0 176.4,296.4 176.5,295.8 176.4,295.4 176.1,295.1" stroke="#ffd232" />
<path d="M176.0,260.0 177.0,260.0 176.2,258.1 176.9,258.7 176.6,256.9 176.2,257.3" stroke="#96be3c" />
<path d="M171.1,461.2 171.8,460.5 172.7,460.4 173.2,461.0 173.9,461.5 173.4,461.6" stroke="#9b1fe0" />
<path d="M172.8,456.7 172.9,456.6 172.4,455.8 173.2,455.4 172.7,455.3 173.7,454.6" stroke="#ff8c1e" />
<path d="M174.2,366.6 174.9,365.8 175.0,365.2 174.1,364.6 174.6,363.9 174.8,362.4" stroke="#12661c" />
<path d="M179.4,112.3 179.7,111.8 180.2,110.8" stroke="#0a0ad2" />
<path d="M175.2,335.8 175.4,334.4 175.1,333.8 174.8,334.0 175.0,332.7 175.0,332.4" stroke="#12661c" />
<path d="M174.2,324.8 174.4,323.3 174.3,323.4 174.8,321.8 174.4,322.5 174.4,321.2" stroke="#0a0ad2" />
<path d="M174.3,368.2 174.5,366.8 175.1,366.2 174.7,366.2 174.6,365.0 174.6,365.2" stroke="#ffd232" />
<path d="M176.1,238.1 176.3,236.4 176.2,236.7 176.5,235.7 176.1,234.5 176.4,234.3" stroke="#12661c" />
<path d="M171.8,448.0 172.0,447.3 172.8,446.2 172.7,446.0 173.0,444.4 172.2,444.0" stroke="#9b1fe0" />
<path d="M187.0,139.3 186.9,138.5 187.2,137.1 187.7,136.3 187.7,135.7 186.8,135.0" stroke="#ff8c1e" />
<path d="M173.9,343.4 174.5,342.6 174.7,341.1 173.7,340.2 174.2,340.3 174.7,339.6" stroke="#ff8c1e" />
<path d="M172.8,439.3 173.4,438.0 173.3,437.6 173.1,437.6 173.1,436.3 173.4,435.2" stroke="#9b1fe0" />
<path d="M176.7,159.7 176.9,158.2 176.8,158.0 177.2,157.0 177.4,156.2 177.4,156.1" stroke="#0a0ad2" />
<path d="M173.7,351.0 173.4,350.2 174.5,349.3 173.9,349.3 174.4,348.0 173.7,347.4" stroke="#ff8c1e" />
<path d="M174.4,327.2 174.1,326.6 175.2,325.4 174.7,324.8 174.2,324.8 174.4,323.3" stroke="#0a0ad2" />
<path d="M176.8,266.3 176.1,265.5 176.4,265.0 177.1,263.3 176.4,262.7 176.5,262.0" stroke="#96be3c" />
<path d="M178.1,183.8 178.3,183.0 178.6,182.1 178.6,181.4 178.7,181.1 178.6,180.3" stroke="#ffd232" />
<path d="M173.0,417.3 172.8,416.8 173.4,415.5 173.2,414.9 172.5,414.0 172.5,414.0" stroke="#000000" />
<path d="M175.4,229.7 175.2,228.0 175.2,228.4 175.8,227.4 175.4,226.7 175.4,226.0" stroke="#0a0ad2" />
<path d="M182.6,183.8 181.9,183.3 181.7,182.1 182.2,181.0 181.9,181.1 182.0,180.1" stroke="#ff8c1e" />
<path d="M180.8,136.3 181.2,134.6 181.7,134.4 181.5,133.5 181.2,133.5 181.2,131.7" stroke="#ffd232" />
<path d="M174.3,437.3 174.1,436.6 174.7,436.6 174.1,435.8 174.9,434.6 174.8,434.4" stroke="#ff8c1e" />
<path d="M176.2,313.3 175.9,312.7 176.5,311.7 175.7,311.4 176.6,310.1 175.5,309.3" stroke="#96be3c" />
<path d="M173.7,393.0 173.8,392.7 174.4,392.1 174.3,390.8 174.0,390.8 174.5,389.4" stroke="#ffd232" />
<path d="M174.8,358.2 174.7,357.8 174.4,356.6 174.3,355.7 173.8,355.7 174.1,355.1" stroke="#000000" />
<path d="M172.8,425.9 173.2,424.4 173.5,424.5 173.6,423.8 173.3,422.8 173.3,421.9" stroke="#12661c" />
<path d="M175.8,314.4 175.8,314.8 176.5,313.1 176.4,312.2 176.2,311.5 176.2,311.5" stroke="#ffd232" />
<path d="M178.2,212.3 178.7,212.4 178.8,210.6 179.3,210.6 179.1,209.4 178.7,208.5" stroke="#9b1fe0" />
<path d="M177.1,254.2 177.2,253.4 176.8,253.6 177.1,252.8 177.0,251.4 177.1,251.2" stroke="#9b1fe0" />
<path d="M178.0,131.4 178.2,130.8 178.2,129.5 178.7,130.0 179.1,128.7 178.6,127.4" stroke="#0a0ad2" />
<path d="M177.5,196.0 177.9,194.8 177.6,194.1 177.2,193.1 178.0,192.9 178.2,191.7" stroke="#96be3c" />
<path d="M173.0,444.4 172.2,444.0 172.6,443.2 172.1,442.9 173.2,441.9 172.8,441.2" stroke="#9b1fe0" />
<path d="M173.6,369.6 173.5,368.6 174.1,367.9 173.4,367.9 174.0,366.4 173.6,365.9" stroke="#0a0ad2" />
<path d="M177.8,193.0 177.4,192.8 177.1,192.1 177.5,190.6 177.3,189.9 177.7,189.4" stroke="#12661c" />
<path d="M176.1,293.1 175.5,291.4 175.5,291.0 176.2,289.9 176.1,290.0 176.1,289.3" stroke="#ff8c1e" />
<path d="M173.5,415.8 173.4,415.4 173.0,414.0 173.7,413.0 173.3,413.0 172.5,412.6" stroke="#ff8c1e" />
<path d="M173.2,441.9 172.8,441.2 172.7,441.2 172.6,440.2 172.8,439.3 173.4,438.0" stroke="#9b1fe0" />
<path d="M171.1,461.6 170.7,461.1 170.3,459.8 170.2,459.1 170.7,458.4 170.2,458.4" stroke="#000000" />
<path d="M172.9,406.3 174.0,404.7 173.8,404.2 173.7,404.1 173.3,403.1 173.3,402.3" stroke="#12661c" />
<path d="M176.1,178.9 176.4,178.9 176.0,177.5 175.8,177.1 175.8,176.8 176.4,175.6" stroke="#0a0ad2" />
<path d="M175.5,271.8 175.2,271.2 175.3,269.7 174.8,268.6 175.4,269.2 175.7,267.9" stroke="#0a0ad2" />
<path d="M191.3,111.5 190.4,111.1" stroke="#ff8c1e" />
<path d="M179.3,170.0 178.9,168.9 179.0,168.2 179.8,167.9 179.7,166.2 179.8,165.3" stroke="#ffd232" />
<path d="M173.2,417.1 173.6,416.0 173.3,415.0 174.0,414.6 173.5,414.7 173.1,414.0" stroke="#9b1fe0" />
<path d="M175.2,257.1 175.5,257.3 174.8,256.2 175.1,255.3 175.7,255.3 175.4,253.5" stroke="#0a0ad2" />
<path d="M178.3,202.6 177.5,202.1 177.6,201.6 178.4,200.5 178.4,199.8 177.7,199.7" stroke="#ffd232" />
<path d="M176.7,282.9 176.0,281.9 176.5,281.6 176.7,280.8 176.4,279.4 176.4,278.6" stroke="#12661c" />
<path d="M174.7,359.0 174.9,358.4 174.6,358.5 174.9,357.6 175.2,357.0 175.4,356.6" stroke="#ffd232" />
<path d="M175.7,268.5 176.1,268.0 176.4,267.5 176.8,266.2 176.4,265.2 176.0,264.5" stroke="#12661c" />
<path d="M173.6,388.7 173.6,388.3 174.6,387.7 174.5,386.4 173.6,386.2 174.1,385.5" stroke="#96be3c" />
<path d="M177.1,260.0 177.5,259.4 176.5,258.1 176.4,258.0 177.3,256.7 176.8,256.6" stroke="#9b1fe0" />
<path d="M177.6,214.9 177.5,214.3 176.9,213.3 177.5,213.3 177.7,212.5 176.8,211.5" stroke="#96be3c" />
<path d="M173.1,429.0 172.9,429.2 173.1,428.4 172.7,428.0 173.1,427.3 172.8,426.4" stroke="#ffd232" />
<path d="M175.4,195.6 175.6,194.5 176.0,195.0 176.0,194.0 176.3,193.5 176.4,192.2" stroke="#0a0ad2" />
<path d="M174.3,462.1 173.0,462.1 172.3,462.6 172.0,461.7 171.1,461.6 170.7,461.1" stroke="#000000" />
<path d="M182.7,179.7 182.2,177.9 182.8,177.8 182.5,177.3 182.3,176.1 183.2,176.1" stroke="#9b1fe0" />
<path d="M175.9,311.1 175.3,309.9 175.2,309.3 175.4,308.4 175.9,308.4 175.7,306.7" stroke="#000000" />
<path d="M176.1,289.9 176.7,289.4 175.8,288.5 176.9,286.9 175.9,287.4 176.7,286.5" stroke="#ffd232" />
<path d="M175.4,342.0 175.4,340.2 175.6,340.5 175.7,338.6 174.5,338.3 175.1,337.8" stroke="#12661c" />
<path d="M173.6,411.8 173.1,410.5 173.5,409.3 173.3,409.9 173.7,409.0 173.2,408.1" stroke="#12661c" />
<path d="M182.7,119.7 183.5,117.9 182.7,118.0 183.0,116.6 183.4,116.5 182.7,115.5" stroke="#ffd232" />
<path d="M173.4,386.2 173.4,386.0 173.7,385.1 174.1,384.4 173.6,383.7 173.8,382.9" stroke="#000000" />
<path d="M178.6,204.5 179.1,203.4 179.6,202.4 179.1,202.2 179.9,200.8 179.8,201.0" stroke="#9b1fe0" />
<path d="M173.1,436.3 173.4,435.2 173.1,434.9 173.0,434.9 173.4,433.9 172.8,432.6" stroke="#9b1fe0" />
<path d="M174.9,349.8 174.5,348.4 174.8,348.9 174.5,347.6 174.6,347.2 175.4,346.8" stroke="#12661c" />
<path d="M175.4,215.4 175.4,214.5 175.4,214.1 176.2,213.9 176.0,213.1 175.4,212.6" stroke="#0a0ad2" />
<path d="M175.9,301.8 175.7,301.7 175.4,301.3 176.1,300.0 175.7,299.3 175.8,299.1" stroke="#000000" />
<path d="M172.8,431.4 173.3,430.4 172.5,429.7 173.5,428.6 173.2,428.7 173.1,426.8" stroke="#12661c" />
<path d="M175.0,370.7 174.3,370.4 174.4,370.0 174.4,368.9 174.3,368.2 174.5,366.8" stroke="#ffd232" />
<path d="M178.8,224.9 178.9,224.1 178.5,223.8 178.5,223.2 179.1,221.9 179.3,221.3" stroke="#ff8c1e" />
<path d="M174.5,363.6 173.7,363.7 174.3,362.9 173.5,362.2 174.3,360.8 174.1,360.7" stroke="#000000" />
<path d="M173.6,403.3 173.2,401.7 174.2,401.4 174.1,400.3 173.8,400.6 173.6,399.8" stroke="#9b1fe0" />
<path d="M172.0,430.5 172.5,430.8 172.1,430.0 173.0,428.7 172.8,428.7 172.4,427.8" stroke="#000000" />
<path d="M175.6,299.4 175.4,298.6 175.7,298.6 174.9,297.9 174.8,296.0 175.4,295.6" stroke="#0a0ad2" />
<path d="M176.3,288.0 176.6,288.1 176.2,286.5 176.4,286.4 176.7,285.5 176.1,284.4" stroke="#96be3c" />
<path d="M174.4,372.6 174.7,372.1 174.8,371.0 174.2,370.5 174.4,368.8 174.0,368.2" stroke="#96be3c" />
<path d="M175.6,352.1 175.5,352.1 175.5,351.1 175.1,350.2 175.2,349.4 174.9,349.0" stroke="#9b1fe0" />
<path d="M180.4,133.8 180.0,133.9 180.7,133.3 180.1,132.1 180.2,131.6 180.4,130.4" stroke="#12661c" />
<path d="M177.3,189.9 177.7,189.4 177.6,189.0 178.0,188.4 177.3,187.6 177.8,187.3" stroke="#12661c" />
<path d="M178.2,137.2 177.9,136.6 178.4,135.5 177.8,135.0 178.1,134.6 178.0,133.4" stroke="#0a0ad2" />
<path d="M172.5,439.6 173.1,438.4 172.5,437.8 172.1,437.8 172.2,437.2 172.4,435.3" stroke="#12661c" />
<path d="M172.3,425.2 172.7,424.9 172.0,423.7 172.5,423.3 172.3,422.7 173.2,421.7" stroke="#0a0ad2" />
<path d="M173.8,365.1 173.9,364.7 173.3,363.2 174.1,362.6 173.6,362.2 173.4,362.1" stroke="#ff8c1e" />
<path d="M172.8,440.3 173.0,440.5 172.3,440.1 173.1,438.2 172.7,437.5 173.2,437.9" stroke="#ffd232" />
<path d="M180.1,155.0 180.1,155.3 180.0,153.5 180.0,153.5 179.7,152.7 180.3,151.1" stroke="#ffd232" />
<path d="M172.3,422.7 173.2,421.7 172.7,420.6 172.4,420.7 172.2,420.3 173.2,418.5" stroke="#0a0ad2" />
<path d="M176.8,240.9 176.9,239.4 177.2,239.6 176.8,239.0 177.1,237.9 177.4,236.5" stroke="#9b1fe0" />
<path d="M177.0,220.3 177.0,219.6 177.3,219.1 177.2,218.2 176.9,217.8 177.2,217.9" stroke="#12661c" />
<path d="M175.1,354.9 174.7,354.1 175.2,354.1 175.3,352.8 175.0,352.7 174.2,352.3" stroke="#12661c" />
<path d="M176.4,307.5 175.7,307.3 175.3,306.2 176.2,305.8 175.9,305.6 175.8,304.6" stroke="#12661c" />
<path d="M174.4,334.7 173.8,333.1 174.3,333.1 174.2,331.9 174.5,330.9 174.1,330.9" stroke="#ff8c1e" />
<path d="M181.2,119.9 181.6,119.9 181.3,118.9 181.6,118.9 181.8,118.0 181.5,117.4" stroke="#12661c" />
<path d="M173.7,423.5 173.2,422.6 173.9,423.3 173.6,421.9 172.8,420.7 173.6,420.9" stroke="#ffd232" />
<path d="M180.1,139.7 179.8,139.7 179.9,138.7 179.9,138.4 179.9,136.9 180.1,136.9" stroke="#12661c" />
<path d="M173.1,461.2 172.6,461.5 171.9,461.0 171.0,461.5 170.7,460.3 171.4,459.7" stroke="#ffd232" />
<path d="M176.4,303.7 175.9,302.5 175.9,302.1 176.0,302.0 175.9,300.3 176.7,300.1" stroke="#ffd232" />
<path d="M181.9,181.1 182.0,180.1 183.2,178.8 182.4,178.7 182.8,178.1 183.3,176.8" stroke="#ff8c1e" />
<path d="M186.8,144.1 186.4,143.7 186.1,142.8 186.4,142.7 186.6,141.5 187.4,141.0" stroke="#ff8c1e" />
<path d="M174.9,330.5 175.4,329.4 175.1,328.6 175.7,328.1 175.4,327.0 175.6,326.2" stroke="#12661c" />
<path d="M170.7,458.4 170.2,458.4 170.5,457.9 170.8,457.3 170.5,456.2 171.3,455.0" stroke="#000000" />
<path d="M179.7,166.2 179.8,165.3 179.8,165.4 180.0,164.3 180.0,163.7 179.0,163.6" stroke="#ffd232" />
<path d="M175.1,343.7 175.8,343.1 174.8,343.2 175.1,341.8 175.2,341.0 175.7,340.4" stroke="#9b1fe0" />
<path d="M178.9,165.0 179.2,164.9 178.6,163.4 179.3,162.4 178.8,162.1 179.5,161.0" stroke="#96be3c" />
<path d="M176.1,318.8 176.3,317.9 175.6,317.2 176.0,317.4 175.5,316.4 176.2,315.1" stroke="#96be3c" />
<path d="M175.1,260.7 175.6,260.1 175.4,258.1 175.3,258.2 175.2,257.1 175.5,257.3" stroke="#0a0ad2" />
<path d="M176.1,291.5 175.9,290.2 176.0,290.1 175.7,289.4 175.6,288.4 176.5,287.4" stroke="#12661c" />
<path d="M176.5,299.8 176.6,299.0 176.7,298.6 176.4,297.9 175.8,296.0 175.7,295.5" stroke="#96be3c" />
<path d="M171.6,453.2 170.8,452.7 171.9,451.7 171.9,450.9 172.0,450.0 171.3,450.4" stroke="#000000" />
<path d="M173.7,384.7 174.2,383.5 173.9,383.0 173.8,382.2 173.7,381.6 174.0,381.2" stroke="#ffd232" />
<path d="M173.9,397.9 173.7,396.1 173.5,395.9 174.3,394.8 173.4,395.0 173.3,394.5" stroke="#12661c" />
<path d="M176.4,254.2 176.5,253.5 175.8,253.0 176.4,253.0 176.1,252.4 176.8,250.6" stroke="#12661c" />
<path d="M176.2,273.0 177.0,271.8 176.2,271.5 177.0,271.3 177.0,270.4 176.0,270.0" stroke="#ffd232" />
<path d="M176.8,262.1 177.1,261.5 177.2,260.4 176.5,258.9 176.7,259.4 177.0,258.1" stroke="#ffd232" />
<path d="M175.9,327.2 175.6,326.3 176.0,326.4 175.5,325.9 176.2,323.9 176.2,323.7" stroke="#9b1fe0" />
<path d="M175.6,324.1 176.0,324.1 175.8,323.8 175.5,322.2 175.3,321.5 175.3,320.8" stroke="#12661c" />
<path d="M175.8,308.0 177.0,307.3 176.9,305.8 176.5,305.8 176.4,304.8 176.9,303.8" stroke="#9b1fe0" />
<path d="M175.7,299.3 175.8,299.1 176.1,298.1 175.7,297.9 176.0,296.5 175.7,296.6" stroke="#000000" />
<path d="M175.2,313.9 174.7,312.8 174.9,311.5 175.3,311.4 175.3,310.2 175.0,309.9" stroke="#0a0ad2" />
<path d="M177.2,151.6 177.7,150.0 177.9,150.3 177.4,149.6 177.6,147.8 177.9,147.3" stroke="#0a0ad2" />
<path d="M176.8,232.5 177.0,231.4 176.4,230.2 176.8,230.4 177.1,230.0 176.7,228.7" stroke="#12661c" />
<path d="M179.4,151.0 178.8,150.9 179.3,150.3 179.5,149.6 179.6,147.6 178.9,148.2" stroke="#12661c" />
<path d="M174.5,332.5 174.7,331.6 174.5,332.0 174.7,330.3 174.2,330.7 174.7,330.0" stroke="#0a0ad2" />
<path d="M175.0,249.7 174.7,247.9 174.9,247.0 175.3,247.2 175.7,246.4 175.6,244.8" stroke="#0a0ad2" />
<path d="M174.3,373.7 174.0,373.1 174.9,372.0 174.5,371.2 175.0,370.7 174.3,370.4" stroke="#ffd232" />
<path d="M176.8,260.7 176.6,259.9 176.6,258.7 176.7,258.7 175.9,256.9 175.9,256.6" stroke="#12661c" />
<path d="M176.1,324.2 176.3,323.9 175.6,322.5 175.6,322.0 175.9,322.3 176.3,321.2" stroke="#96be3c" />
<path d="M173.5,392.3 173.8,391.2 174.0,390.4 173.8,389.6 173.8,389.6 173.2,387.9" stroke="#000000" />
<path d="M173.2,371.6 173.2,371.1 173.3,370.8 173.9,370.1 173.6,369.6 173.5,368.6" stroke="#0a0ad2" />
<path d="M178.6,177.6 178.9,176.7 178.5,176.3 178.4,175.5 178.8,174.9 178.8,174.3" stroke="#ffd232" />
<path d="M174.8,296.0 175.4,295.6 175.2,295.4 174.6,294.8 174.9,293.7 175.0,293.4" stroke="#0a0ad2" />
<path d="M172.8,430.6 172.1,429.9 172.1,429.9 172.9,429.4 172.2,428.7 172.3,427.4" stroke="#0a0ad2" />
<path d="M173.9,402.1 173.5,400.6 174.4,400.0 173.7,399.3 174.4,398.9 174.3,397.7" stroke="#ffd232" />
<path d="M179.7,142.6 179.9,142.4 179.9,141.3 180.0,140.8 180.1,139.7 179.8,139.7" stroke="#12661c" />
<path d="M176.6,310.1 175.5,309.3 176.1,309.3 175.7,308.0 176.2,308.0 176.3,307.4" stroke="#96be3c" />
<path d="M174.4,427.0 173.7,425.7 173.6,425.3 173.4,424.6 173.5,424.6 174.3,423.3" stroke="#ff8c1e" />
<path d="M172.5,406.1 173.3,405.1 173.3,404.2 172.7,403.5 173.5,402.3 173.1,401.9" stroke="#0a0ad2" />
<path d="M175.8,218.2 175.9,216.9 175.6,216.7 175.1,216.2 175.4,215.4 175.4,214.5" stroke="#0a0ad2" />
<path d="M178.6,231.0 178.7,229.9 178.5,229.6 178.6,229.0 178.6,228.0 178.2,227.6" stroke="#ff8c1e" />
<path d="M176.2,293.6 176.7,292.9 177.3,292.4 176.7,291.6 176.7,291.6 177.1,290.5" stroke="#9b1fe0" />
<path d="M171.5,455.8 171.2,455.5 172.0,454.1 171.4,454.4 172.2,453.5 171.3,452.9" stroke="#96be3c" />
<path d="M176.3,308.9 175.6,309.2 175.6,307.7 175.9,306.7 176.6,306.8 176.1,305.8" stroke="#ffd232" />
<path d="M173.7,422.4 173.8,421.9 173.5,421.2 173.7,420.3 172.9,419.1 173.0,418.4" stroke="#96be3c" />
<path d="M174.9,356.0 175.0,354.1 175.3,353.8 174.4,353.9 174.4,352.7 174.9,352.4" stroke="#96be3c" />
<path d="M174.0,411.8 173.9,410.5 173.6,409.5 174.0,409.1 173.3,408.7 173.2,407.5" stroke="#9b1fe0" />
<path d="M176.1,220.9 176.0,219.8 174.9,220.1 175.9,219.6 175.8,218.2 175.9,216.9" stroke="#0a0ad2" />
<path d="M172.1,450.6 172.5,449.5 172.0,448.6 171.6,447.8 171.9,447.2 171.6,447.7" stroke="#12661c" />
<path d="M182.3,130.3 182.4,130.1 181.6,128.5 182.6,127.9 182.6,127.8 182.3,126.9" stroke="#ffd232" />
<path d="M174.0,409.6 173.9,409.5 173.1,409.2 173.5,407.5 173.3,407.8 173.3,406.4" stroke="#ffd232" />
<path d="M176.2,262.6 176.0,262.3 176.2,261.0 176.7,261.1 176.8,260.7 176.6,259.9" stroke="#12661c" />
<path d="M174.9,434.6 174.8,434.4 174.4,434.2 174.2,433.1 174.5,433.0 174.1,432.1" stroke="#ff8c1e" />
<path d="M178.7,181.1 178.6,180.3 178.7,178.5 178.8,178.9 178.6,177.6 178.9,176.7" stroke="#ffd232" />
<path d="M176.3,249.0 176.6,248.4 176.0,248.1 176.5,246.3 176.2,245.6 176.4,244.9" stroke="#12661c" />
<path d="M175.2,341.0 175.7,340.4 175.4,339.8 175.9,338.6 175.6,338.0 175.1,338.0" stroke="#9b1fe0" />
<path d="M178.4,176.2 178.0,175.8 178.0,174.8 178.7,174.2 177.9,173.0 178.6,173.0" stroke="#96be3c" />
<path d="M174.9,285.4 175.7,285.1 175.0,283.6 175.6,282.6 174.8,282.6 175.2,281.4" stroke="#0a0ad2" />
<path d="M177.6,206.9 177.5,206.9 177.0,205.3 177.4,204.9 177.9,204.3 177.6,203.4" stroke="#96be3c" />
<path d="M173.0,392.5 172.4,392.2 173.2,392.1 173.2,390.8 173.0,390.4 173.0,389.2" stroke="#ff8c1e" />
<path d="M173.3,403.1 173.3,402.3 173.0,401.2 173.3,401.4 173.2,400.5 173.1,400.1" stroke="#12661c" />
<path d="M174.5,433.0 174.1,432.1 174.5,431.1 174.1,430.0 173.6,429.0 173.6,429.2" stroke="#ff8c1e" />
<path d="M176.1,234.5 176.4,234.3 177.0,233.5 176.4,233.4 176.8,232.5 177.0,231.4" stroke="#12661c" />
<path d="M176.3,280.4 175.9,278.9 176.8,277.7 176.7,277.5 175.8,276.6 176.4,276.1" stroke="#96be3c" />
<path d="M174.2,340.3 174.7,339.6 174.4,339.0 174.1,338.0 173.7,337.6 173.9,337.1" stroke="#ff8c1e" />
<path d="M175.0,353.9 174.5,353.8 174.8,352.0 175.3,351.3 174.4,350.6 175.2,350.6" stroke="#ffd232" />
<path d="M175.4,322.2 174.9,321.7 174.8,321.0 175.6,320.2 174.7,318.6 175.6,318.3" stroke="#000000" />
<path d="M178.7,221.3 177.8,220.3 177.6,218.9 178.4,219.2 178.7,218.5 177.9,217.8" stroke="#9b1fe0" />
<path d="M175.5,361.5 174.9,359.9 174.6,360.0 175.2,358.5 175.5,358.2 174.9,357.3" stroke="#9b1fe0" />
<path d="M176.0,320.7 176.0,319.8 176.0,318.4 175.4,318.4 175.9,317.0 175.6,316.7" stroke="#ffd232" />
<path d="M174.9,369.5 174.1,368.7 174.3,367.5 174.8,367.4 174.9,366.9 175.0,365.8" stroke="#9b1fe0" />
<path d="M182.6,127.8 182.3,126.9 182.5,126.5 182.4,124.8 181.8,124.1 182.7,123.4" stroke="#ffd232" />
<path d="M180.7,143.8 181.0,144.0 181.4,142.8 181.3,142.6 180.7,141.4 180.6,141.1" stroke="#ffd232" />
<path d="M177.3,206.7 177.4,206.9 176.5,205.4 177.1,205.5 177.7,203.5 176.7,203.3" stroke="#12661c" />
<path d="M172.8,439.9 172.9,438.8 172.6,438.0 172.6,437.6 173.0,436.0 172.6,435.7" stroke="#96be3c" />
<path d="M180.1,151.5 179.2,150.8 179.8,149.5 179.8,148.6 179.4,147.5 179.9,147.7" stroke="#96be3c" />
<path d="M180.2,131.6 180.4,130.4 180.8,129.6 181.2,128.9 180.6,129.0 180.6,127.7" stroke="#12661c" />
<path d="M175.6,300.2 174.7,299.5 175.8,299.1 175.6,299.3 175.2,297.7 175.9,297.5" stroke="#ff8c1e" />
<path d="M176.4,262.7 176.5,262.0 176.7,261.0 176.1,260.8 176.0,260.0 177.0,260.0" stroke="#96be3c" />
<path d="M179.6,209.2 180.3,208.4 179.7,207.6 179.7,206.5 180.4,205.6 180.7,205.2" stroke="#ff8c1e" />
<path d="M175.2,315.8 175.2,315.8 175.8,314.3 175.4,313.7 175.8,313.0 174.9,312.6" stroke="#000000" />
<path d="M174.8,318.6 174.4,317.7 175.2,317.1 174.3,317.6 174.5,316.8 174.4,315.5" stroke="#0a0ad2" />
<path d="M177.1,217.1 177.6,216.5 177.7,215.8 177.9,214.4 177.9,214.6 177.8,213.0" stroke="#ffd232" />
<path d="M175.9,285.7 176.2,284.9 176.7,284.4 176.5,283.9 176.7,282.9 176.0,281.9" stroke="#12661c" />
<path d="M176.2,311.5 176.2,311.5 176.7,310.8 176.6,309.6 176.3,308.9 175.6,309.2" stroke="#ffd232" />
<path d="M174.9,295.6 176.0,294.7 176.1,293.2 175.2,293.1 176.1,293.1 175.5,291.4" stroke="#ff8c1e" />
<path d="M177.9,173.0 178.6,173.0 178.0,172.7 178.0,170.8 178.0,170.5 178.7,170.4" stroke="#96be3c" />
<path d="M176.0,190.8 175.8,189.1 176.4,189.0 175.5,187.5 175.9,186.7 176.5,186.3" stroke="#0a0ad2" />
<path d="M174.4,314.2 174.3,314.0 175.3,314.0 175.1,313.4 175.4,311.8 174.5,311.9" stroke="#ff8c1e" />
<path d="M177.3,237.2 176.7,237.4 176.8,236.2 177.3,235.4 176.8,235.4 176.4,234.1" stroke="#96be3c" />
<path d="M173.2,408.8 173.4,407.6 172.8,407.3 172.8,406.6 172.8,406.1 173.4,405.5" stroke="#000000" />
<path d="M174.0,366.4 173.6,365.9 173.9,364.8 173.2,364.1 174.2,363.3 173.8,362.7" stroke="#0a0ad2" />
<path d="M174.2,369.3 173.9,368.0 174.7,368.3 174.3,366.7 174.2,366.6 174.9,365.8" stroke="#12661c" />
<path d="M176.9,270.6 176.0,269.1 176.1,268.2 177.2,268.1 177.1,267.1 177.1,266.5" stroke="#ff8c1e" />
<path d="M176.1,240.6 177.0,239.7 176.8,238.7 177.1,239.1 176.1,238.1 176.3,236.4" stroke="#12661c" />
<path d="M177.1,271.2 177.2,270.4 176.5,270.2 177.1,269.1 176.9,269.2 177.3,267.7" stroke="#9b1fe0" />
<path d="M177.4,235.6 177.0,233.8 177.5,233.0 177.9,232.9 177.9,231.9 177.0,232.0" stroke="#9b1fe0" />
<path d="M179.5,156.6 179.5,156.1 179.6,154.7 179.3,153.8 179.7,154.2 179.8,152.5" stroke="#96be3c" />
<path d="M179.6,159.2 179.5,158.9 179.0,158.5 179.4,157.1 179.5,156.6 179.5,156.1" stroke="#96be3c" />
<path d="M173.5,402.3 173.1,401.9 173.4,401.4 172.9,400.8 173.1,400.6 172.9,400.0" stroke="#0a0ad2" />
<path d="M176.8,241.7 176.4,240.7 177.4,241.1 176.5,239.4 176.8,239.3 177.4,238.4" stroke="#ffd232" />
<path d="M187.6,133.8 187.3,132.7 187.6,132.4 187.5,131.9 187.6,130.2 188.2,129.9" stroke="#ff8c1e" />
<path d="M177.0,291.4 177.1,290.3 177.4,289.9 176.8,289.0 177.5,288.4 176.6,287.2" stroke="#000000" />
<path d="M178.5,239.5 178.5,238.1 178.4,237.5 178.0,237.7 178.6,236.1 177.9,235.7" stroke="#ff8c1e" />
<path d="M174.2,367.0 173.7,366.1 173.7,365.3 173.6,364.9 174.5,363.6 173.7,363.7" stroke="#000000" />
<path d="M176.6,209.9 177.1,209.5 176.5,208.6 177.5,207.0 177.3,206.7 177.4,206.9" stroke="#12661c" />
<path d="M185.9,153.2 185.2,152.3 185.7,151.9 186.3,151.3 185.4,150.6 186.5,150.0" stroke="#ff8c1e" />
<path d="M172.9,418.2 172.8,417.0 173.1,416.6 173.4,416.3 173.5,415.8 173.4,415.4" stroke="#ff8c1e" />
<path d="M182.7,173.6 182.4,173.2 183.2,171.8 182.7,171.1 182.8,170.4 183.3,170.6" stroke="#ff0a0a" />
<path d="M182.8,168.2 182.8,168.3 183.5,166.5 183.5,166.0 183.9,165.8 183.8,165.0" stroke="#ff0a0a" />
<path d="M178.5,165.6 178.2,165.0 178.4,163.8 178.1,162.2 178.2,162.3 178.3,161.9" stroke="#12661c" />
<path d="M174.8,322.8 174.9,322.9 174.6,321.4 175.2,320.9 175.0,320.1 174.3,320.1" stroke="#ff8c1e" />
<path d="M173.6,388.7 173.7,387.7 174.3,386.9 174.7,387.0 173.6,386.7 173.9,385.4" stroke="#9b1fe0" />
<path d="M173.1,400.6 172.9,400.0 172.7,398.5 172.7,397.5 173.5,397.7 172.8,396.3" stroke="#0a0ad2" />
<path d="M173.2,425.5 172.3,424.4 172.3,424.1 173.0,422.8 172.9,422.9 172.5,422.0" stroke="#000000" />
<path d="M177.7,203.5 176.7,203.3 177.5,203.2 177.3,202.7 177.6,201.9 177.4,200.3" stroke="#12661c" />
<path d="M174.9,293.7 175.0,293.4 175.5,292.1 174.7,291.4 175.1,290.4 174.8,290.7" stroke="#0a0ad2" />
<path d="M185.4,150.6 186.5,150.0 185.6,148.3 185.7,147.3 186.7,147.7 186.5,147.1" stroke="#ff8c1e" />
<path d="M177.3,212.9 177.5,211.8 176.8,211.6 176.5,210.8 176.6,209.9 177.1,209.5" stroke="#12661c" />
<path d="M177.2,276.8 176.9,276.8 177.2,275.8 177.4,274.3 177.0,274.3 176.8,274.1" stroke="#9b1fe0" />
<path d="M172.0,450.0 171.3,450.4 172.0,449.7 172.1,448.8 171.9,447.4 171.7,446.7" stroke="#000000" />
<path d="M171.6,461.2 171.4,460.5 170.8,460.7 170.5,460.0 171.4,458.8 171.0,458.6" stroke="#96be3c" />
<path d="M176.4,272.5 176.8,272.4 177.0,270.9 176.4,271.2 176.9,270.6 176.0,269.1" stroke="#ff8c1e" />
<path d="M177.0,247.8 177.8,247.6 177.1,246.5 177.5,245.6 177.3,244.6 177.8,244.8" stroke="#ff8c1e" />
<path d="M175.8,329.9 176.1,329.2 175.8,328.2 175.9,328.3 176.1,327.9 175.8,327.1" stroke="#96be3c" />
<path d="M177.1,261.3 176.3,260.7 177.2,259.8 176.8,259.2 177.4,258.9 176.5,257.6" stroke="#ff8c1e" />
<path d="M172.9,422.9 172.5,422.0 172.3,421.5 172.2,421.1 173.1,420.0 172.5,419.6" stroke="#000000" />
<path d="M178.6,234.3 177.8,233.1 178.7,231.7 178.9,231.1 178.6,231.0 178.7,229.9" stroke="#ff8c1e" />
<path d="M175.8,296.0 175.7,295.5 176.1,295.1 176.5,294.8 175.8,293.6 176.3,292.9" stroke="#96be3c" />
<path d="M189.5,112.4 189.5,112.2 190.4,110.6" stroke="#ff0a0a" />
<path d="M171.5,445.1 171.7,443.9 172.2,444.2 171.7,443.2 171.9,442.7 172.1,441.1" stroke="#0a0ad2" />
<path d="M178.6,140.3 178.4,138.9 177.5,138.7 178.4,137.6 178.2,137.2 177.9,136.6" stroke="#0a0ad2" />
<path d="M176.7,234.0 176.5,232.5 176.5,231.8 177.5,231.2 177.2,230.2 177.4,230.5" stroke="#ffd232" />
<path d="M186.4,138.3 185.9,136.2 186.1,136.5 186.1,135.3 187.0,135.4 187.1,133.7" stroke="#ff0a0a" />
<path d="M174.6,374.5 174.4,373.9 174.5,373.4 174.4,373.2 174.9,372.2 174.6,371.1" stroke="#9b1fe0" />
<path d="M173.8,400.6 173.6,399.8 174.0,398.6 174.5,397.9 173.8,397.5 173.7,397.1" stroke="#9b1fe0" />
<path d="M174.5,395.0 173.9,393.7 174.0,392.5 173.5,393.1 173.6,392.3 174.3,391.6" stroke="#9b1fe0" />
<path d="M171.9,447.2 171.6,447.7 172.0,446.9 172.5,445.9 172.5,445.6 172.8,444.5" stroke="#12661c" />
<path d="M176.3,231.6 176.6,231.0 177.4,230.4 176.6,230.5 177.2,229.0 177.3,228.9" stroke="#96be3c" />
<path d="M175.9,292.5 176.2,291.9 176.6,290.5 175.9,290.9 176.1,289.9 176.7,289.4" stroke="#ffd232" />
<path d="M177.9,231.9 177.0,232.0 177.3,230.6 177.2,230.2 177.7,228.9 177.2,228.4" stroke="#9b1fe0" />
<path d="M177.4,154.0 177.3,152.5 177.7,152.9 177.4,151.8 177.2,151.6 177.7,150.0" stroke="#0a0ad2" />
<path d="M173.7,394.9 173.3,394.1 173.2,392.9 172.8,392.3 173.5,392.3 173.8,391.2" stroke="#000000" />
<path d="M170.9,461.7 171.4,461.7 172.7,461.9 173.2,462.2 174.3,462.1 173.0,462.1" stroke="#000000" />
<path d="M176.0,296.5 175.7,296.6 176.3,295.8 176.9,295.2 176.8,294.4 177.0,293.6" stroke="#000000" />
<path d="M175.4,311.8 174.5,311.9 175.2,310.0 175.1,309.8 174.8,309.0 174.6,307.8" stroke="#ff8c1e" />
<path d="M170.7,461.4 170.7,461.2 171.4,460.5 172.6,460.5 172.8,460.7 173.4,461.2" stroke="#0a0ad2" />
<path d="M171.9,453.2 171.5,453.2 171.4,451.2 172.0,451.6 172.3,450.8 172.1,450.0" stroke="#9b1fe0" />
<path d="M176.8,301.9 177.1,300.8 176.3,301.2 177.1,299.9 177.1,298.8 176.7,298.0" stroke="#9b1fe0" />
<path d="M176.8,162.7 177.3,160.9 176.8,160.7 176.6,159.8 176.7,159.7 176.9,158.2" stroke="#0a0ad2" />
<path d="M173.6,392.3 174.3,391.6 173.6,390.0 174.4,388.9 173.6,388.7 173.7,387.7" stroke="#9b1fe0" />
<path d="M185.2,158.2 184.9,157.9 184.8,157.6 184.9,155.7 184.9,156.3 185.3,154.5" stroke="#ff8c1e" />
<path d="M178.6,122.7 179.6,122.8 179.4,122.3 178.7,121.3 179.5,119.9 179.2,120.3" stroke="#0a0ad2" />
<path d="M176.2,299.9 175.9,299.2 175.6,298.6 176.5,297.9 176.4,296.9 176.0,296.2" stroke="#12661c" />
<path d="M172.4,436.6 172.5,435.9 172.6,435.5 172.1,434.5 172.4,433.5 172.3,433.2" stroke="#000000" />
<path d="M178.2,162.3 178.3,161.9 178.2,161.0 179.2,160.4 179.2,159.9 179.2,158.1" stroke="#12661c" />
<path d="M183.2,162.4 183.3,162.1 183.9,160.7 184.4,160.2 184.0,159.4 184.1,159.3" stroke="#ff0a0a" />
<path d="M174.5,328.0 175.1,326.6 175.2,326.1 175.1,324.8 174.9,324.6 174.7,324.4" stroke="#000000" />
<path d="M172.0,444.3 172.7,444.6 173.1,443.0 172.6,442.6 172.8,442.1 173.2,441.3" stroke="#96be3c" />
<path d="M179.1,117.5 179.2,117.3 179.7,116.1 179.7,115.3 179.9,114.4 179.6,114.1" stroke="#0a0ad2" />
<path d="M174.6,444.1 174.3,442.3 174.6,441.8 174.0,441.0 174.0,440.3 174.3,439.8" stroke="#ff8c1e" />
<path d="M184.0,159.4 184.1,159.3 184.4,157.8 183.8,157.3 184.1,157.6 184.8,156.8" stroke="#ff0a0a" />
<path d="M175.0,360.4 174.8,359.8 175.0,359.5 175.3,359.3 174.3,357.9 175.3,357.4" stroke="#96be3c" />
<path d="M174.2,357.6 173.8,357.3 173.4,357.4 173.6,355.5 174.0,354.9 174.2,354.5" stroke="#0a0ad2" />
<path d="M173.3,392.2 173.4,391.3 173.3,390.7 173.5,389.2 173.3,388.7 173.7,388.9" stroke="#12661c" />
<path d="M174.0,368.5 173.7,367.9 174.1,366.7 173.8,365.3 173.8,365.1 173.9,364.7" stroke="#ff8c1e" />
<path d="M172.1,454.3 172.2,454.6 172.2,453.2 171.6,452.2 171.8,452.5 171.9,450.6" stroke="#ffd232" />
<path d="M179.5,119.9 179.2,120.3 179.1,119.3 178.9,118.4 179.1,117.5 179.2,117.3" stroke="#0a0ad2" />
<path d="M173.2,419.8 173.3,418.7 172.9,417.7 173.6,418.2 173.5,416.4 173.8,416.7" stroke="#12661c" />
<path d="M175.6,325.4 175.6,324.9 175.4,324.6 176.0,324.2 175.5,323.6 175.7,322.4" stroke="#ffd232" />
<path d="M174.4,352.5 174.6,351.6 173.8,350.9 174.5,350.7 173.9,349.2 174.3,349.8" stroke="#0a0ad2" />
<path d="M176.7,256.4 177.1,255.1 177.0,255.3 177.0,254.1 177.1,253.2 177.8,253.3" stroke="#ff8c1e" />
<path d="M178.6,172.8 178.1,172.6 177.7,171.8 178.0,171.1 178.3,170.7 178.2,169.8" stroke="#12661c" />
<path d="M179.8,149.6 180.5,148.4 180.7,148.2 180.5,147.7 180.5,146.4 180.0,145.9" stroke="#ffd232" />
<path d="M175.4,344.6 174.5,343.4 174.5,342.6 175.5,341.8 175.4,342.0 175.4,340.2" stroke="#12661c" />
<path d="M182.8,170.4 183.3,170.6 183.6,170.0 182.9,169.1 182.8,168.2 182.8,168.3" stroke="#ff0a0a" />
<path d="M183.9,165.8 183.8,165.0 183.2,164.2 184.1,163.2 183.2,162.4 183.3,162.1" stroke="#ff0a0a" />
<path d="M175.4,333.2 176.2,332.4 176.0,331.6 175.5,330.4 175.3,330.4 175.4,329.6" stroke="#9b1fe0" />
<path d="M176.7,280.2 176.8,279.3 176.9,278.4 176.8,278.3 177.2,276.8 176.9,276.8" stroke="#9b1fe0" />
<path d="M174.9,231.8 175.9,232.2 176.0,230.5 175.2,230.7 175.4,229.7 175.2,228.0" stroke="#0a0ad2" />
<path d="M180.4,205.6 180.7,205.2 180.4,204.9 179.9,204.4 180.6,202.8 180.8,202.0" stroke="#ff8c1e" />
<path d="M181.8,118.0 181.5,117.4 181.3,115.6 182.1,115.5 182.1,114.9 181.9,114.3" stroke="#12661c" />
<path d="M174.4,322.5 174.4,321.2 174.7,320.8 174.9,320.1 174.8,318.6 174.4,317.7" stroke="#0a0ad2" />
<path d="M175.4,226.7 175.4,226.0 175.8,224.8 175.6,225.1 175.9,223.4 176.0,223.6" stroke="#0a0ad2" />
<path d="M174.9,372.2 174.6,371.1 174.9,371.4 174.3,370.3 174.9,369.5 174.1,368.7" stroke="#9b1fe0" />
<path d="M179.4,206.8 179.6,206.5 178.9,205.2 179.7,205.1 178.6,204.5 179.1,203.4" stroke="#9b1fe0" />
<path d="M182.1,114.9 181.9,114.3 182.0,113.5 182.5,112.4 182.6,112.4 182.9,110.6" stroke="#12661c" />
<path d="M173.6,404.5 173.9,403.9 173.5,403.2 174.3,402.3 173.9,402.1 173.5,400.6" stroke="#ffd232" />
<path d="M175.8,276.6 176.4,276.1 176.4,275.0 176.1,275.5 176.4,274.1 175.9,273.2" stroke="#96be3c" />
<path d="M176.0,329.4 176.2,328.4 175.3,327.7 175.4,326.5 175.6,325.4 175.6,324.9" stroke="#ffd232" />
<path d="M178.2,205.2 178.1,205.2 177.8,204.5 177.6,204.1 178.3,202.6 177.5,202.1" stroke="#ffd232" />
<path d="M177.1,230.0 176.7,228.7 177.2,227.4 176.5,227.3 176.8,226.7 176.3,225.9" stroke="#12661c" />
<path d="M175.9,317.0 175.6,316.7 176.5,316.7 175.4,315.4 175.8,314.4 175.8,314.8" stroke="#ffd232" />
<path d="M179.1,128.7 178.6,127.4 178.5,127.0 179.3,126.0 179.4,125.8 178.8,124.8" stroke="#0a0ad2" />
<path d="M173.2,411.3 173.0,411.2 173.4,410.6 173.8,409.5 173.6,409.2 173.2,408.1" stroke="#96be3c" />
<path d="M177.3,221.1 177.2,219.9 177.6,219.0 176.6,219.1 176.6,217.6 177.1,217.7" stroke="#96be3c" />
<path d="M172.7,448.6 172.1,448.0 172.8,448.3 172.4,447.7 172.4,446.8 172.5,445.5" stroke="#ffd232" />
<path d="M175.9,269.0 176.4,268.4 176.9,267.8 176.3,267.2 176.8,266.3 176.1,265.5" stroke="#96be3c" />
<path d="M174.0,378.3 173.8,376.7 174.2,376.4 173.7,375.2 173.8,375.3 173.7,374.2" stroke="#000000" />
<path d="M175.1,290.4 174.8,290.7 175.4,290.3 175.8,289.4 175.0,287.7 175.0,287.5" stroke="#0a0ad2" />
<path d="M172.7,401.7 172.9,400.3 173.0,399.9 172.2,399.2 173.0,398.4 173.0,398.8" stroke="#ff8c1e" />
<path d="M179.7,195.7 180.0,195.5 179.7,194.5 179.9,193.4 179.7,193.7 180.7,192.8" stroke="#9b1fe0" />
<path d="M176.3,281.2 175.7,280.4 176.2,280.1 176.4,279.6 176.3,277.9 176.6,277.5" stroke="#ff8c1e" />
<path d="M173.3,397.3 173.3,396.1 173.2,396.0 173.1,395.2 173.7,394.9 173.3,394.1" stroke="#000000" />
<path d="M170.6,455.7 170.7,455.6 171.4,454.6 171.0,453.9 171.0,453.2 170.8,452.6" stroke="#0a0ad2" />
<path d="M177.3,164.5 177.3,164.2 176.5,163.2 176.3,162.9 176.8,162.7 177.3,160.9" stroke="#0a0ad2" />
<path d="M174.2,335.7 174.3,335.1 175.2,334.9 174.3,333.2 175.2,332.5 174.6,331.9" stroke="#000000" />
<path d="M175.7,201.9 176.0,200.5 175.6,200.0 175.7,199.1 176.0,199.1 175.9,197.4" stroke="#0a0ad2" />
<path d="M173.6,391.1 173.7,391.6 173.8,390.2 173.4,389.8 173.5,389.7 173.6,388.0" stroke="#0a0ad2" />
<path d="M181.1,195.2 180.7,193.5 181.4,192.5 180.7,192.3 180.9,191.6 181.1,191.2" stroke="#ff8c1e" />
<path d="M171.8,439.1 172.6,438.6 172.2,438.2 172.0,436.7 172.4,436.6 172.5,435.9" stroke="#000000" />
<path d="M177.3,243.1 176.9,243.2 176.6,242.3 177.4,241.4 176.4,240.9 177.3,240.0" stroke="#ff0a0a" />
<path d="M173.6,409.2 173.2,408.1 173.4,407.4 173.9,406.0 173.3,405.1 173.4,404.5" stroke="#96be3c" />
<path d="M177.4,258.9 176.5,257.6 177.0,257.5 177.3,256.2 176.7,256.4 177.1,255.1" stroke="#ff8c1e" />
<path d="M177.4,156.2 177.4,156.1 176.8,155.6 177.1,154.6 177.4,154.0 177.3,152.5" stroke="#0a0ad2" />
<path d="M172.6,434.4 172.3,432.7 172.1,432.7 172.6,432.3 172.8,430.6 172.1,429.9" stroke="#0a0ad2" />
<path d="M176.4,274.1 175.9,273.2 177.0,273.0 176.5,271.5 176.3,271.8 176.4,270.8" stroke="#96be3c" />
<path d="M174.7,358.8 175.1,357.1 174.4,356.8 174.7,355.9 175.1,354.9 174.7,354.1" stroke="#12661c" />
<path d="M176.6,256.9 176.2,257.3 177.1,255.3 176.2,255.2 176.3,254.9 176.4,254.3" stroke="#96be3c" />
<path d="M174.2,383.8 173.5,382.2 173.6,381.9 174.1,381.3 173.9,380.9 174.5,380.2" stroke="#12661c" />
<path d="M176.2,323.9 176.2,323.7 176.0,322.6 176.1,322.5 176.4,321.9 176.3,321.4" stroke="#9b1fe0" />
<path d="M184.9,163.8 185.1,163.1 184.4,163.2 185.0,162.2 185.1,161.9 184.9,161.0" stroke="#ff8c1e" />
<path d="M176.3,315.5 175.1,316.0 175.1,315.0 175.8,313.7 175.4,314.0 175.6,312.3" stroke="#12661c" />
<path d="M172.6,459.1 173.1,459.6 173.4,460.0 173.6,461.4 173.1,461.2 172.6,461.5" stroke="#ffd232" />
<path d="M178.4,199.8 177.7,199.7 178.1,199.2 178.1,197.7 178.3,196.9 177.4,196.3" stroke="#ffd232" />
<path d="M172.5,445.6 172.8,444.5 172.5,443.8 172.7,442.9 172.5,441.6 172.9,441.4" stroke="#12661c" />
<path d="M174.7,335.8 174.2,334.6 174.7,334.5 174.7,333.5 174.5,332.5 174.7,331.6" stroke="#0a0ad2" />
<path d="M177.1,253.2 177.8,253.3 177.2,251.5 177.7,250.8 176.8,251.0 177.4,250.2" stroke="#ff8c1e" />
<path d="M170.9,458.4 171.0,458.8 170.3,457.3 170.9,457.3 170.6,455.7 170.7,455.6" stroke="#0a0ad2" />
<path d="M175.6,304.8 175.0,303.7 174.7,303.1 175.6,303.2 175.5,302.9 175.2,302.1" stroke="#0a0ad2" />
<path d="M173.0,411.6 172.5,411.2 173.1,409.5 173.4,408.8 172.7,408.9 173.0,408.0" stroke="#0a0ad2" />
<path d="M176.1,286.3 175.5,286.5 175.6,284.8 175.3,284.8 175.7,284.7 176.4,284.0" stroke="#ff8c1e" />
<path d="M175.8,313.0 174.9,312.6 175.7,311.8 175.0,311.7 175.9,311.1 175.3,309.9" stroke="#000000" />
<path d="M172.2,437.2 172.4,435.3 173.2,435.6 172.5,434.5 172.8,434.0 172.5,433.5" stroke="#12661c" />
<path d="M185.3,143.9 185.2,143.0 185.5,141.4 185.8,140.6 186.2,139.9 185.7,139.5" stroke="#ff0a0a" />
<path d="M176.4,296.9 176.0,296.2 176.5,295.3 176.2,295.1 175.8,293.5 175.5,293.6" stroke="#12661c" />
<path d="M175.9,305.6 175.8,304.6 175.8,303.0 175.8,302.5 175.4,301.9 175.5,301.4" stroke="#12661c" />
<path d="M181.0,184.7 181.6,184.7 181.0,183.0 181.7,183.3 181.8,182.0 181.1,181.5" stroke="#ff0a0a" />
<path d="M175.9,322.3 176.3,321.2 175.6,319.8 176.0,319.7 176.1,318.8 176.3,317.9" stroke="#96be3c" />
<path d="M178.1,134.6 178.0,133.4 178.1,132.7 178.6,131.6 178.0,131.4 178.2,130.8" stroke="#0a0ad2" />
<path d="M173.5,353.7 173.9,353.9 174.1,352.5 173.7,352.0 173.7,351.0 173.4,350.2" stroke="#ff8c1e" />
<path d="M173.5,403.1 173.0,402.1 172.7,402.0 172.7,401.2 173.2,400.8 173.5,400.1" stroke="#000000" />
<path d="M187.0,135.4 187.1,133.7 186.8,133.2 186.9,133.2 187.0,132.1 187.0,131.6" stroke="#ff0a0a" />
<path d="M172.5,410.0 172.9,409.8 173.2,409.1 172.9,408.5 173.0,407.5 172.4,405.8" stroke="#ff8c1e" />
<path d="M179.7,193.7 180.7,192.8 179.9,191.2 179.9,190.7 180.4,189.6 180.5,189.8" stroke="#9b1fe0" />
<path d="M178.0,227.0 178.0,226.4 177.5,225.8 177.4,223.9 177.5,224.2 178.0,223.7" stroke="#9b1fe0" />
<path d="M176.1,313.1 176.8,312.8 175.9,312.3 176.2,311.9 176.5,311.0 176.9,309.9" stroke="#9b1fe0" />
<path d="M182.9,111.9 183.0,111.2 183.2,110.7" stroke="#96be3c" />
<path d="M174.2,381.0 174.1,380.3 174.1,379.4 173.5,378.3 174.0,378.3 173.8,376.7" stroke="#000000" />
<path d="M172.9,431.4 172.6,430.6 172.6,429.0 173.7,429.1 172.9,427.6 173.8,427.7" stroke="#96be3c" />
<path d="M177.6,201.9 177.4,200.3 177.5,200.3 177.8,198.8 176.7,198.4 177.0,197.7" stroke="#12661c" />
<path d="M172.5,445.4 172.0,444.4 172.4,443.6 171.9,442.7 171.8,441.7 172.3,441.4" stroke="#000000" />
<path d="M175.3,310.2 175.0,309.9 175.2,308.6 174.8,308.5 174.5,307.9 175.3,307.0" stroke="#0a0ad2" />
<path d="M174.4,398.9 174.3,397.7 173.6,397.6 173.7,397.0 173.9,395.4 173.4,395.2" stroke="#ffd232" />
<path d="M178.8,162.1 179.5,161.0 179.1,161.2 179.3,159.4 179.6,159.2 179.5,158.9" stroke="#96be3c" />
<path d="M176.2,310.0 175.3,309.2 176.4,309.1 176.1,308.5 176.4,307.5 175.7,307.3" stroke="#12661c" />
<path d="M176.8,239.3 177.4,238.4 176.4,238.4 176.4,236.8 176.5,237.0 177.4,235.6" stroke="#ffd232" />
<path d="M175.9,186.7 176.5,186.3 175.8,185.9 176.1,185.2 176.3,184.8 176.1,183.3" stroke="#0a0ad2" />
<path d="M187.0,132.1 187.0,131.6 186.5,131.0 186.6,130.5 186.9,128.7 186.6,128.7" stroke="#ff0a0a" />
<path d="M172.2,420.3 173.2,418.5 173.2,418.2 173.1,418.0 172.5,417.2 172.9,416.7" stroke="#0a0ad2" />
<path d="M171.4,461.2 171.2,460.6 170.7,459.6 170.5,459.6 171.2,459.0 170.9,458.8" stroke="#12661c" />
<path d="M176.4,295.4 176.1,295.1 175.9,294.5 176.3,293.2 175.9,292.5 176.2,291.9" stroke="#ffd232" />
<path d="M175.6,306.0 174.9,306.2 175.5,304.9 174.6,304.3 175.0,304.2 174.8,302.7" stroke="#ff8c1e" />
<path d="M178.0,192.9 178.2,191.7 177.5,191.1 178.3,191.3 178.3,190.2 177.3,189.4" stroke="#96be3c" />
<path d="M179.8,192.8 179.8,192.3 179.7,192.2 180.9,191.7 179.9,190.5 180.1,189.9" stroke="#ff0a0a" />
<path d="M176.0,246.6 176.5,245.5 176.8,245.2 176.1,244.1 176.1,243.2 176.5,242.0" stroke="#96be3c" />
<path d="M181.5,120.4 182.3,119.4 181.5,119.1 181.9,117.7 181.8,116.8 181.7,116.7" stroke="#96be3c" />
<path d="M174.2,363.3 173.8,362.7 173.5,361.9 173.8,361.2 173.3,360.4 173.5,360.3" stroke="#0a0ad2" />
<path d="M172.2,428.7 172.3,427.4 172.8,426.2 172.0,426.5 172.3,425.2 172.7,424.9" stroke="#0a0ad2" />
<path d="M173.4,433.9 172.8,432.6 173.0,431.9 172.8,432.2 172.6,431.3 173.0,430.0" stroke="#9b1fe0" />
<path d="M175.4,337.2 175.2,336.8 175.3,336.2 175.7,334.5 175.2,334.5 175.2,333.9" stroke="#ffd232" />
<path d="M173.9,398.0 173.9,396.4 173.4,395.3 174.4,395.2 174.5,393.9 173.6,393.2" stroke="#96be3c" />
<path d="M174.9,362.6 175.1,362.4 174.7,360.8 174.6,360.9 174.7,359.0 174.9,358.4" stroke="#ffd232" />
<path d="M177.4,232.8 177.4,231.4 177.3,230.7 177.0,230.6 177.5,229.1 177.4,228.2" stroke="#ff0a0a" />
<path d="M173.5,416.4 173.8,416.7 173.3,414.8 173.7,415.0 173.4,413.5 173.6,412.8" stroke="#12661c" />
<path d="M175.6,347.9 174.5,347.4 175.6,346.9 174.9,346.2 175.0,346.0 175.3,344.6" stroke="#ffd232" />
<path d="M173.3,422.8 173.3,421.9 173.7,420.9 172.7,420.7 173.2,419.8 173.3,418.7" stroke="#12661c" />
<path d="M173.1,427.3 172.8,426.4 173.2,425.3 172.7,424.8 173.7,423.5 173.2,422.6" stroke="#ffd232" />
<path d="M173.0,390.4 173.0,389.2 173.5,388.6 173.6,388.9 172.5,387.6 173.5,387.6" stroke="#ff8c1e" />
<path d="M175.0,352.7 174.2,352.3 175.2,350.6 175.3,350.9 174.9,349.8 174.5,348.4" stroke="#12661c" />
<path d="M176.5,240.6 177.0,240.5 177.3,239.9 176.5,238.0 177.3,237.2 176.7,237.4" stroke="#96be3c" />
<path d="M173.9,374.8 174.0,374.9 174.1,373.5 174.0,372.9 173.2,371.6 173.2,371.1" stroke="#0a0ad2" />
<path d="M180.7,141.4 180.6,141.1 181.5,140.3 180.9,139.6 181.0,138.1 181.1,137.5" stroke="#ffd232" />
<path d="M178.2,212.8 179.4,212.2 178.6,211.2 179.1,210.2 179.5,210.3 179.5,208.8" stroke="#ff0a0a" />
<path d="M176.1,252.4 176.8,250.6 176.7,251.0 177.0,249.9 176.3,249.0 176.6,248.4" stroke="#12661c" />
<path d="M174.7,380.3 173.8,379.3 174.0,378.6 174.2,378.6 174.0,377.1 174.6,376.4" stroke="#96be3c" />
<path d="M172.9,383.4 173.6,382.6 173.6,382.6 174.0,380.8 173.9,380.8 173.0,379.7" stroke="#0a0ad2" />
<path d="M173.4,395.0 173.3,394.5 173.5,393.2 174.0,393.0 173.3,392.2 173.4,391.3" stroke="#12661c" />
<path d="M174.4,378.8 173.9,378.0 174.5,377.3 174.0,376.9 174.4,376.6 174.5,375.9" stroke="#ffd232" />
<path d="M173.3,408.7 173.2,407.5 174.1,406.5 173.2,406.0 173.4,405.6 173.4,404.8" stroke="#9b1fe0" />
<path d="M176.9,264.6 176.4,263.6 176.4,262.7 176.6,262.5 177.1,261.3 176.3,260.7" stroke="#ff8c1e" />
<path d="M173.7,375.9 173.9,376.0 173.8,374.7 173.2,374.2 174.0,373.7 173.2,372.8" stroke="#ff8c1e" />
<path d="M174.3,371.5 174.1,371.8 174.2,370.2 174.2,370.0 174.2,369.3 173.9,368.0" stroke="#12661c" />
<path d="M173.3,435.2 172.5,434.7 173.0,434.2 173.1,433.4 173.6,432.6 173.6,431.4" stroke="#ffd232" />
<path d="M173.0,398.4 173.0,398.8 172.8,397.2 172.8,397.0 173.1,396.2 173.0,394.7" stroke="#ff8c1e" />
<path d="M176.3,277.9 176.6,277.5 176.3,276.9 176.5,275.9 176.0,275.3 175.9,275.5" stroke="#ff8c1e" />
<path d="M179.8,161.5 179.9,159.6 179.8,160.1 180.1,158.7 179.9,158.5 180.2,156.8" stroke="#ffd232" />
<path d="M174.0,354.9 174.2,354.5 173.6,353.4 174.3,353.0 174.4,352.5 174.6,351.6" stroke="#0a0ad2" />
<path d="M173.9,352.5 174.3,351.5 174.0,350.7 174.5,351.0 174.1,349.3 174.7,349.5" stroke="#000000" />
<path d="M176.0,213.1 175.4,212.6 175.4,210.7 175.6,210.8 175.5,210.0 175.4,209.8" stroke="#0a0ad2" />
<path d="M176.3,291.6 176.9,289.7 176.6,289.9 176.1,288.3 176.3,288.0 176.6,288.1" stroke="#96be3c" />
<path d="M171.3,461.3 171.3,461.4 171.2,460.6 170.5,460.1 171.4,459.0 171.7,458.7" stroke="#9b1fe0" />
<path d="M176.1,251.2 176.8,250.9 176.4,250.3 176.7,250.3 176.3,249.1 176.3,248.3" stroke="#96be3c" />
<path d="M171.7,460.3 171.5,459.2 172.1,458.4 172.2,457.8 172.8,456.7 172.9,456.6" stroke="#ff8c1e" />
<path d="M182.1,123.4 181.6,122.0 181.5,121.4 182.0,121.4 181.5,120.4 182.3,119.4" stroke="#96be3c" />
<path d="M176.2,288.4 177.3,287.6 176.9,286.4 176.7,286.0 176.7,285.0 176.5,285.0" stroke="#9b1fe0" />
<path d="M180.7,131.8 180.9,130.3 181.6,130.6 181.3,129.0 181.0,128.6 181.1,127.3" stroke="#96be3c" />
<path d="M172.5,434.0 172.6,432.5 173.2,432.0 173.6,431.6 172.9,431.4 172.6,430.6" stroke="#96be3c" />
<path d="M174.1,372.1 174.1,371.7 173.5,370.5 174.4,369.9 173.4,369.8 174.0,368.6" stroke="#000000" />
<path d="M171.8,456.2 171.2,455.8 171.2,454.8 171.7,453.6 171.9,453.2 171.5,453.2" stroke="#9b1fe0" />
<path d="M176.9,217.8 177.2,217.9 176.4,216.1 177.2,216.0 176.8,215.2 176.8,214.8" stroke="#12661c" />
<path d="M174.0,461.3 173.4,461.1 172.7,461.8 172.5,462.1 171.4,461.2 171.2,460.6" stroke="#12661c" />
<path d="M176.7,296.2 176.8,295.2 176.7,295.2 176.6,295.0 176.2,293.6 176.7,292.9" stroke="#9b1fe0" />
<path d="M174.2,449.4 173.7,447.8 174.5,447.6 173.8,447.7 174.5,446.8 173.9,446.1" stroke="#ff8c1e" />
<path d="M172.4,433.5 172.3,433.2 173.0,432.9 172.2,431.9 172.0,430.5 172.5,430.8" stroke="#000000" />
<path d="M176.3,254.9 176.4,254.3 176.1,253.2 177.1,252.8 176.1,251.2 176.8,250.9" stroke="#96be3c" />
<path d="M177.2,230.2 177.4,230.5 177.2,230.2 176.5,229.1 176.6,228.7 176.5,227.1" stroke="#ffd232" />
<path d="M180.4,189.6 180.5,189.8 181.1,188.5 180.2,188.6 180.8,187.2 180.6,186.5" stroke="#9b1fe0" />
<path d="M177.3,187.6 177.8,187.3 177.5,186.0 177.9,185.1 177.5,184.8 177.5,184.4" stroke="#12661c" />
<path d="M180.8,123.0 181.5,122.8 181.4,122.3 181.2,120.8 181.2,119.9 181.6,119.9" stroke="#12661c" />
<path d="M181.7,179.1 181.9,178.0 182.3,178.0 181.6,176.6 182.1,177.0 181.9,176.6" stroke="#ff0a0a" />
<path d="M178.2,194.6 177.7,193.8 178.7,193.6 178.0,192.3 178.0,191.5 178.0,190.6" stroke="#ffd232" />
<path d="M177.2,247.3 176.6,246.6 176.3,245.6 176.9,246.0 176.5,244.8 177.1,243.5" stroke="#ffd232" />
<path d="M174.1,328.5 175.0,328.4 174.2,326.8 174.5,327.0 174.4,325.7 174.7,325.9" stroke="#ff8c1e" />
<path d="M173.6,432.6 173.6,431.4 172.5,431.6 172.6,431.0 173.1,429.0 172.9,429.2" stroke="#ffd232" />
<path d="M180.2,134.0 180.3,133.4 180.3,132.5 180.3,132.1 180.7,131.8 180.9,130.3" stroke="#96be3c" />
<path d="M178.1,224.3 177.9,223.3 178.7,222.1 178.1,222.1 178.5,220.6 177.7,220.2" stroke="#ff0a0a" />
<path d="M173.0,407.5 172.4,405.8 172.3,405.6 172.3,405.6 172.8,404.6 172.9,404.0" stroke="#ff8c1e" />
<path d="M180.8,187.2 180.6,186.5 180.9,185.8 180.9,185.5 181.7,184.5 181.3,184.0" stroke="#9b1fe0" />
<path d="M174.6,344.8 174.8,342.8 174.0,342.9 174.8,341.5 174.0,341.9 173.8,340.5" stroke="#0a0ad2" />
<path d="M174.5,393.9 173.6,393.2 173.8,392.5 173.7,392.3 173.8,391.1 173.5,391.7" stroke="#96be3c" />
<path d="M176.3,271.8 176.4,270.8 176.9,270.2 176.6,268.6 175.9,269.0 176.4,268.4" stroke="#96be3c" />
<path d="M177.0,251.4 177.1,251.2 176.8,250.8 177.7,249.2 176.8,249.4 177.4,247.9" stroke="#9b1fe0" />
<path d="M176.7,259.4 177.0,258.1 176.8,257.8 177.2,257.1 176.7,256.7 177.2,254.7" stroke="#ffd232" />
<path d="M178.3,190.2 177.3,189.4 177.5,188.1 177.9,187.8 177.4,187.4 178.4,187.3" stroke="#96be3c" />
<path d="M173.6,386.8 174.5,385.7 174.5,384.1 174.5,384.3 174.2,383.8 173.5,382.2" stroke="#12661c" />
<path d="M173.2,428.7 173.1,426.8 173.2,426.4 173.5,426.3 172.8,425.9 173.2,424.4" stroke="#12661c" />
<path d="M178.3,167.6 178.1,167.4 178.2,166.8 178.5,165.8 178.9,165.0 179.2,164.9" stroke="#96be3c" />
<path d="M175.3,321.5 175.3,320.8 175.2,320.3 175.3,319.5 175.8,318.7 176.1,318.7" stroke="#12661c" />
<path d="M174.9,363.1 174.5,362.5 175.0,362.4 174.5,362.3 175.5,361.5 174.9,359.9" stroke="#9b1fe0" />
<path d="M174.9,366.9 175.0,365.8 174.2,365.5 175.2,364.9 174.9,363.1 174.5,362.5" stroke="#9b1fe0" />
<path d="M180.6,202.8 180.8,202.0 181.1,201.7 180.4,201.3 180.6,199.7 181.0,198.9" stroke="#ff8c1e" />
<path d="M176.8,249.4 177.4,247.9 177.2,247.2 177.6,247.0 177.2,245.7 177.1,245.4" stroke="#9b1fe0" />
<path d="M171.0,453.2 170.8,452.6 171.9,451.8 171.7,450.8 171.7,450.9 171.7,449.9" stroke="#0a0ad2" />
<path d="M189.6,115.6 189.7,114.3 189.4,114.5 189.3,113.7 189.5,112.4 189.5,112.2" stroke="#ff0a0a" />
<path d="M174.0,383.3 174.6,382.3 173.8,381.7 173.8,381.6 174.7,380.3 173.8,379.3" stroke="#96be3c" />
<path d="M177.1,298.8 176.7,298.0 176.3,297.5 176.1,297.1 176.7,296.2 176.8,295.2" stroke="#9b1fe0" />
<path d="M174.8,282.6 175.2,281.4 174.7,280.8 175.5,280.5 175.8,280.2 175.8,278.5" stroke="#0a0ad2" />
<path d="M175.0,287.7 175.0,287.5 175.2,286.9 175.0,286.6 174.9,285.4 175.7,285.1" stroke="#0a0ad2" />
<path d="M178.8,174.9 178.8,174.3 179.3,174.0 178.9,173.1 178.8,171.7 179.0,171.1" stroke="#ffd232" />
<path d="M174.9,344.2 174.7,343.2 174.8,342.7 174.7,342.6 175.2,340.9 175.0,341.2" stroke="#000000" />
<path d="M172.5,414.0 172.5,414.0 173.5,412.4 173.1,412.0 172.5,411.2 172.7,411.0" stroke="#000000" />
<path d="M176.5,237.0 177.4,235.6 177.1,235.4 176.9,234.8 176.7,234.0 176.5,232.5" stroke="#ffd232" />
<path d="M178.8,171.7 179.0,171.1 178.9,170.9 179.2,169.5 179.3,170.0 178.9,168.9" stroke="#ffd232" />
<path d="M177.3,256.7 176.8,256.6 177.5,256.6 177.5,255.4 177.1,254.2 177.2,253.4" stroke="#9b1fe0" />
<path d="M176.3,248.7 176.4,248.2 176.9,247.2 176.9,246.6 176.5,245.9 176.3,245.1" stroke="#ff0a0a" />
<path d="M176.6,283.0 177.4,281.9 176.9,281.4 176.5,280.7 176.7,280.2 176.8,279.3" stroke="#9b1fe0" />
<path d="M183.3,171.8 183.4,171.0 183.6,171.3 184.2,170.8 184.3,169.3 184.2,168.8" stroke="#ff8c1e" />
<path d="M176.9,269.2 177.3,267.7 177.4,267.2 176.8,266.7 177.3,266.3 177.1,265.3" stroke="#9b1fe0" />
<path d="M175.2,334.5 175.2,333.9 174.9,332.5 175.5,332.0 175.2,331.5 175.7,331.2" stroke="#ffd232" />
<path d="M174.4,368.8 174.0,368.2 174.3,368.2 174.3,366.6 174.9,366.6 174.1,365.2" stroke="#96be3c" />
<path d="M173.8,346.3 173.6,346.5 174.7,345.2 174.8,344.9 174.6,344.8 174.8,342.8" stroke="#0a0ad2" />
<path d="M178.3,196.9 177.4,196.3 178.6,195.2 178.4,195.5 178.2,194.6 177.7,193.8" stroke="#ffd232" />
<path d="M181.7,185.9 181.3,185.7 182.0,184.6 182.2,184.1 182.6,183.8 181.9,183.3" stroke="#ff8c1e" />
<path d="M175.8,318.7 176.1,318.7 175.4,318.0 175.3,316.3 176.3,315.5 175.1,316.0" stroke="#12661c" />
<path d="M178.7,218.5 177.9,217.8 178.9,217.0 178.4,215.8 177.9,215.6 179.0,214.1" stroke="#9b1fe0" />
<path d="M173.5,397.7 172.8,396.3 173.1,396.3 173.6,395.6 173.3,394.1 173.1,393.5" stroke="#0a0ad2" />
<path d="M173.2,371.4 173.2,369.8 173.5,369.0 173.3,369.4 174.0,368.5 173.7,367.9" stroke="#ff8c1e" />
<path d="M174.9,347.1 175.7,345.8 175.5,345.8 175.8,345.1 175.1,343.7 175.8,343.1" stroke="#9b1fe0" />
<path d="M176.7,291.6 177.1,290.5 176.3,289.7 176.3,288.6 176.2,288.4 177.3,287.6" stroke="#9b1fe0" />
<path d="M176.8,251.0 177.4,250.2 177.4,249.6 177.5,247.9 177.0,247.8 177.8,247.6" stroke="#ff8c1e" />
<path d="M175.9,287.4 176.7,286.5 176.8,285.6 176.1,284.3 175.9,284.3 176.7,284.1" stroke="#ffd232" />
<path d="M172.8,460.7 173.4,461.2 172.2,462.3 171.5,462.2 171.3,461.9 171.0,461.1" stroke="#0a0ad2" />
<path d="M173.1,420.0 172.5,419.6 173.4,418.0 173.1,418.1 173.0,417.3 172.8,416.8" stroke="#000000" />
<path d="M174.6,338.9 174.8,338.0 174.9,337.0 174.3,336.1 174.7,335.8 174.2,334.6" stroke="#0a0ad2" />
<path d="M171.9,447.4 171.7,446.7 172.1,446.6 171.6,445.2 172.5,445.4 172.0,444.4" stroke="#000000" />
<path d="M175.4,301.9 175.5,301.4 176.3,301.1 176.5,299.8 176.2,299.9 175.9,299.2" stroke="#12661c" />
<path d="M171.2,448.1 172.2,447.1 171.7,446.7 171.4,445.3 171.5,445.1 171.7,443.9" stroke="#0a0ad2" />
<path d="M174.2,330.7 174.7,330.0 175.0,328.7 175.1,328.4 174.4,327.2 174.1,326.6" stroke="#0a0ad2" />
<path d="M175.5,347.1 175.0,345.8 175.5,345.5 174.6,344.4 174.7,344.5 175.6,343.0" stroke="#96be3c" />
<path d="M178.3,170.7 178.2,169.8 178.4,169.2 177.8,168.7 178.2,168.3 177.9,167.2" stroke="#12661c" />
<path d="M171.2,459.0 170.9,458.8 171.3,457.0 170.7,457.4 171.9,456.7 171.5,455.1" stroke="#12661c" />
<path d="M177.3,266.3 177.1,265.3 176.8,263.7 176.9,263.1 177.5,262.8 177.1,262.6" stroke="#9b1fe0" />
<path d="M177.5,288.4 176.6,287.2 177.3,287.0 177.6,285.9 177.1,285.8 176.7,284.4" stroke="#000000" />
<path d="M171.0,408.5 171.5,408.6 171.8,407.9 172.0,407.3 171.7,406.1 171.5,404.8" stroke="#ff0a0a" />
<path d="M171.9,447.9 172.3,446.5 172.6,445.7 172.0,445.5 172.0,444.3 172.7,444.6" stroke="#96be3c" />
<path d="M187.9,123.3 187.7,122.4 188.3,121.9 188.2,122.1 187.9,121.2 188.5,120.1" stroke="#ff0a0a" />
<path d="M175.4,341.8 175.1,340.0 175.3,340.1 174.9,339.1 175.1,337.9 175.1,337.7" stroke="#96be3c" />
<path d="M179.4,125.8 178.8,124.8 179.5,124.0 179.1,123.8 178.6,122.7 179.6,122.8" stroke="#0a0ad2" />
<path d="M173.6,328.2 173.8,327.5 173.6,325.8 172.9,325.1 173.9,324.7 173.7,324.5" stroke="#ff0a0a" />
<path d="M177.9,198.4 177.1,198.1 178.0,197.3 177.1,197.1 177.5,196.0 177.9,194.8" stroke="#96be3c" />
<path d="M175.2,235.7 175.1,233.8 174.9,233.1 175.2,233.5 174.9,231.8 175.9,232.2" stroke="#0a0ad2" />
<path d="M176.0,278.2 176.6,277.4 176.6,276.5 176.2,276.6 176.3,276.3 176.4,274.7" stroke="#ffd232" />
<path d="M179.6,147.6 178.9,148.2 179.7,147.2 180.0,145.9 179.8,145.6 179.1,144.8" stroke="#12661c" />
<path d="M171.2,439.2 171.3,438.7 171.0,438.1 171.0,437.1 171.0,437.0 170.7,436.1" stroke="#ff0a0a" />
<path d="M174.9,241.3 175.5,240.1 174.9,238.6 175.6,238.1 174.9,238.3 175.8,236.5" stroke="#0a0ad2" />
<path d="M181.0,128.6 181.1,127.3 181.2,127.7 181.6,127.1 181.6,126.3 181.9,125.8" stroke="#96be3c" />
<path d="M175.3,355.0 175.6,354.2 174.9,354.0 175.0,353.3 175.6,352.1 175.5,352.1" stroke="#9b1fe0" />
<path d="M174.8,378.3 174.7,377.0 175.0,375.8 174.0,376.1 174.6,374.5 174.4,373.9" stroke="#9b1fe0" />
<path d="M189.1,124.4 188.3,124.0 189.3,123.6 188.8,123.5 188.7,122.2 189.1,121.9" stroke="#ff8c1e" />
<path d="M173.7,302.1 174.0,302.2 174.3,300.7 174.5,300.9 174.7,300.0 174.5,299.3" stroke="#ff0a0a" />
<path d="M179.7,152.7 180.3,151.1 180.2,150.5 180.3,150.1 179.8,149.6 180.5,148.4" stroke="#ffd232" />
<path d="M175.9,223.4 176.0,223.6 175.1,222.1 175.1,221.1 176.1,220.9 176.0,219.8" stroke="#0a0ad2" />
<path d="M176.2,245.6 176.4,244.9 176.5,244.5 176.8,244.4 176.1,243.8 176.6,242.3" stroke="#12661c" />
<path d="M176.6,250.2 177.0,249.3 177.1,249.0 176.6,248.1 177.2,247.3 176.6,246.6" stroke="#ffd232" />
<path d="M181.8,116.8 181.7,116.7 181.7,115.4 182.3,116.1 182.7,114.5 182.9,113.5" stroke="#96be3c" />
<path d="M186.7,147.7 186.5,147.1 186.5,145.6 186.0,144.6 186.8,144.1 186.4,143.7" stroke="#ff8c1e" />
<path d="M171.0,437.0 170.7,436.1 170.9,435.2 170.8,434.6 171.2,433.4 170.5,433.7" stroke="#ff0a0a" />
<path d="M177.2,201.2 178.0,200.4 177.7,200.2 178.1,198.7 177.9,198.4 177.1,198.1" stroke="#96be3c" />
<path d="M174.2,296.7 174.9,295.6 174.3,295.0 174.5,294.0 174.7,294.5 175.1,293.0" stroke="#ff0a0a" />
<path d="M174.0,341.9 173.8,340.5 174.1,340.3 174.8,338.8 174.6,338.9 174.8,338.0" stroke="#0a0ad2" />
<path d="M172.4,446.8 172.5,445.5 173.1,445.5 172.7,444.8 172.8,444.0 172.1,442.4" stroke="#ffd232" />
<path d="M176.5,245.9 176.3,245.1 177.3,244.4 177.3,244.2 177.3,243.1 176.9,243.2" stroke="#ff0a0a" />
<path d="M186.2,139.9 185.7,139.5 186.4,138.3 186.4,138.0 186.4,138.3 185.9,136.2" stroke="#ff0a0a" />
<path d="M176.6,306.8 176.1,305.8 176.6,304.4 176.4,304.9 176.4,303.7 175.9,302.5" stroke="#ffd232" />
<path d="M171.4,458.8 171.0,458.6 171.8,457.0 171.4,456.8 171.5,455.8 171.2,455.5" stroke="#96be3c" />
<path d="M175.0,332.7 175.0,332.4 174.8,331.8 174.8,331.5 174.9,330.5 175.4,329.4" stroke="#12661c" />
<path d="M179.7,198.4 179.7,197.6 179.7,197.1 179.3,196.2 179.7,195.7 180.0,195.5" stroke="#9b1fe0" />
<path d="M173.3,413.0 172.5,412.6 173.5,411.6 173.2,411.1 172.5,410.0 172.9,409.8" stroke="#ff8c1e" />
<path d="M181.2,133.5 181.2,131.7 181.7,131.9 181.6,131.5 182.3,130.3 182.4,130.1" stroke="#ffd232" />
<path d="M177.2,245.7 177.1,245.4 177.0,244.3 176.8,244.3 177.7,243.8 177.4,243.1" stroke="#9b1fe0" />
<path d="M171.2,460.2 171.4,459.7 172.4,460.7 173.3,460.4 173.4,460.9 173.7,461.2" stroke="#96be3c" />
<path d="M175.0,251.5 175.8,251.7 175.0,250.3 175.0,249.2 175.0,249.7 174.7,247.9" stroke="#0a0ad2" />
<path d="M171.4,459.0 171.7,458.7 170.9,457.9 171.7,456.3 171.8,456.2 171.2,455.8" stroke="#9b1fe0" />
<path d="M177.9,215.6 179.0,214.1 178.9,214.5 178.4,213.8 178.2,212.3 178.7,212.4" stroke="#9b1fe0" />
<path d="M175.9,305.5 176.3,304.9 175.8,303.8 176.6,302.8 175.7,301.7 175.8,300.9" stroke="#96be3c" />
<path d="M179.9,200.8 179.8,201.0 179.1,200.2 179.7,199.6 179.7,198.4 179.7,197.6" stroke="#9b1fe0" />
<path d="M175.6,338.0 175.1,338.0 175.4,336.5 175.7,337.0 175.8,335.7 176.0,335.6" stroke="#9b1fe0" />
<path d="M175.7,333.0 175.2,331.7 175.0,331.4 175.6,331.2 175.8,329.9 176.1,329.2" stroke="#96be3c" />
<path d="M174.7,277.1 174.7,276.0 174.9,276.0 175.1,274.6 174.7,274.1 175.4,273.8" stroke="#0a0ad2" />
<path d="M174.2,288.6 174.3,288.2 174.9,286.9 174.6,286.8 174.4,285.7 175.3,285.1" stroke="#ff0a0a" />
<path d="M170.5,456.2 171.3,455.0 171.6,454.4 171.5,454.7 171.6,453.2 170.8,452.7" stroke="#000000" />
<path d="M177.5,184.8 177.5,184.4 177.5,182.8 177.9,182.6 178.3,182.4 177.7,181.0" stroke="#12661c" />
<path d="M174.7,300.0 174.5,299.3 174.4,298.0 174.2,297.1 174.2,296.7 174.9,295.6" stroke="#ff0a0a" />
<path d="M176.8,294.4 177.0,293.6 176.1,292.5 176.7,292.4 177.0,291.4 177.1,290.3" stroke="#000000" />
<path d="M172.2,453.5 171.3,452.9 172.5,452.6 172.3,450.6 172.5,450.1 172.3,450.4" stroke="#96be3c" />
<path d="M181.7,184.5 181.3,184.0 181.9,183.7 182.2,182.2 182.1,181.7 181.9,181.3" stroke="#9b1fe0" />
<path d="M175.6,288.4 176.5,287.4 176.4,286.5 175.7,285.9 175.9,285.7 176.2,284.9" stroke="#12661c" />
<path d="M180.6,199.7 181.0,198.9 181.1,198.5 181.0,198.8 181.0,197.6 180.7,196.0" stroke="#ff8c1e" />
<path d="M173.3,407.8 173.3,406.4 173.7,405.6 173.9,404.6 173.6,404.5 173.9,403.9" stroke="#ffd232" />
<path d="M179.2,156.2 178.5,155.3 179.2,155.7 178.5,154.0 178.6,154.5 178.6,153.2" stroke="#12661c" />
<path d="M182.1,181.7 181.9,181.3 182.0,180.3 181.5,179.2 182.7,179.7 182.2,177.9" stroke="#9b1fe0" />
<path d="M176.1,282.8 175.9,281.6 175.9,281.1 177.0,280.5 176.3,280.4 175.9,278.9" stroke="#96be3c" />
<path d="M172.6,431.3 173.0,430.0 172.9,428.9 173.1,428.3 173.1,427.8 173.7,428.0" stroke="#9b1fe0" />
<path d="M175.2,297.7 175.9,297.5 175.1,296.9 175.2,295.6 174.9,295.6 176.0,294.7" stroke="#ff8c1e" />
<path d="M173.2,400.8 173.5,400.1 172.8,398.8 173.3,397.9 173.3,397.3 173.3,396.1" stroke="#000000" />
<path d="M189.4,116.7 190.5,115.7 189.7,115.1 190.5,115.1 189.9,113.5 190.1,113.0" stroke="#ff8c1e" />
<path d="M172.9,419.1 173.0,418.4 173.9,418.3 173.7,416.9 173.4,417.5 173.6,416.1" stroke="#96be3c" />
<path d="M177.1,209.2 177.2,209.3 177.5,207.9 176.9,207.7 177.6,206.9 177.5,206.9" stroke="#96be3c" />
<path d="M173.5,451.4 173.9,451.8 174.4,450.2 173.7,450.4 174.2,449.4 173.7,447.8" stroke="#ff8c1e" />
<path d="M179.1,217.6 179.5,216.9 180.0,215.1 179.9,215.5 179.1,213.9 180.0,213.0" stroke="#ff8c1e" />
<path d="M175.4,269.2 175.7,267.9 175.4,267.8 175.6,266.7 175.1,265.8 174.8,264.7" stroke="#0a0ad2" />
<path d="M177.5,229.1 177.4,228.2 177.7,228.3 177.9,227.4 178.4,226.3 177.5,226.2" stroke="#ff0a0a" />
<path d="M176.7,198.4 177.0,197.7 176.8,197.3 177.2,196.1 176.9,195.9 176.9,195.6" stroke="#12661c" />
<path d="M176.1,243.2 176.5,242.0 176.4,241.9 176.9,241.9 176.5,240.6 177.0,240.5" stroke="#96be3c" />
<path d="M176.0,199.1 175.9,197.4 175.5,197.0 176.0,196.0 175.4,195.6 175.6,194.5" stroke="#0a0ad2" />
<path d="M173.6,429.0 173.6,429.2 173.8,427.7 173.5,427.9 174.4,427.0 173.7,425.7" stroke="#ff8c1e" />
<path d="M179.1,209.4 178.7,208.5 178.5,208.3 178.8,207.9 179.4,206.8 179.6,206.5" stroke="#9b1fe0" />
<path d="M176.8,235.4 176.4,234.1 176.8,233.7 176.5,232.8 176.3,231.6 176.6,231.0" stroke="#96be3c" />
<path d="M175.9,308.4 175.7,306.7 175.8,306.4 176.3,306.0 176.1,305.3 175.8,304.9" stroke="#000000" />
<path d="M172.8,366.0 172.3,365.4 172.5,365.4 172.6,364.5 172.4,363.6 172.1,362.7" stroke="#ff0a0a" />
<path d="M177.9,214.6 177.8,213.0 177.6,213.2 177.9,211.6 176.9,211.3 177.0,210.6" stroke="#ffd232" />
<path d="M175.7,316.4 176.2,314.9 176.0,315.0 176.2,314.7 176.1,313.1 176.8,312.8" stroke="#9b1fe0" />
<path d="M178.6,228.0 178.2,227.6 178.8,226.4 179.1,226.4 178.8,224.9 178.9,224.1" stroke="#ff8c1e" />
<path d="M171.2,430.7 171.5,429.9 170.6,429.0 171.3,428.5 170.8,429.0 171.4,427.9" stroke="#ff0a0a" />
<path d="M180.0,163.7 179.0,163.6 179.2,162.5 179.8,161.9 179.8,161.5 179.9,159.6" stroke="#ffd232" />
<path d="M173.8,355.7 174.1,355.1 174.0,354.3 174.6,353.1 173.9,352.5 174.3,351.5" stroke="#000000" />
<path d="M177.2,229.0 177.3,228.9 176.8,228.2 176.6,226.9 177.4,226.5 177.4,225.4" stroke="#96be3c" />
<path d="M176.4,279.4 176.4,278.6 176.4,277.9 175.6,278.3 176.7,276.7 175.7,276.7" stroke="#12661c" />
<path d="M174.5,307.9 175.3,307.0 175.2,306.6 174.7,305.5 175.6,304.8 175.0,303.7" stroke="#0a0ad2" />
<path d="M175.9,300.3 176.7,300.1 175.8,299.9 175.8,298.6 176.2,298.1 176.0,298.0" stroke="#ffd232" />
<path d="M178.6,215.3 178.5,215.6 178.5,213.9 178.6,214.2 178.2,212.8 179.4,212.2" stroke="#ff0a0a" />
<path d="M173.1,427.8 173.7,428.0 173.2,426.9 173.8,425.8 172.8,424.9 172.9,424.9" stroke="#9b1fe0" />
<path d="M174.3,374.7 174.7,374.3 174.9,373.8 174.8,373.0 174.4,372.6 174.7,372.1" stroke="#96be3c" />
<path d="M186.6,141.5 187.4,141.0 187.3,140.5 186.4,139.5 187.0,139.3 186.9,138.5" stroke="#ff8c1e" />
<path d="M174.5,338.3 175.1,337.8 174.6,337.4 175.4,336.6 175.2,335.8 175.4,334.4" stroke="#12661c" />
<path d="M175.8,280.2 175.8,278.5 174.8,277.7 175.1,277.5 174.7,277.1 174.7,276.0" stroke="#0a0ad2" />
<path d="M172.8,413.6 172.8,413.3 173.1,413.0 172.9,411.6 173.0,411.6 172.5,411.2" stroke="#0a0ad2" />
<path d="M177.5,241.6 178.4,242.1 177.9,240.1 178.5,239.8 178.5,239.5 178.5,238.1" stroke="#ff8c1e" />
<path d="M172.7,455.3 173.7,454.6 173.1,453.0 173.1,453.0 173.5,451.4 173.9,451.8" stroke="#ff8c1e" />
<path d="M170.8,429.0 171.4,427.9 171.2,427.1 170.5,426.6 170.9,426.0 171.0,425.4" stroke="#ff0a0a" />
<path d="M179.8,145.6 179.1,144.8 180.2,144.1 180.1,142.7 179.7,142.6 179.9,142.4" stroke="#12661c" />
<path d="M175.2,349.4 174.9,349.0 174.9,348.3 175.4,347.4 174.9,347.1 175.7,345.8" stroke="#9b1fe0" />
<path d="M179.8,211.9 179.5,210.3 179.9,209.7 179.4,208.8 179.6,209.2 180.3,208.4" stroke="#ff8c1e" />
<path d="M180.7,137.4 181.0,136.5 180.0,136.2 181.3,134.6 180.2,134.0 180.3,133.4" stroke="#96be3c" />
<path d="M172.8,355.7 173.3,354.3 173.3,353.3 173.3,354.1 172.7,353.1 172.9,352.1" stroke="#ff0a0a" />
<path d="M175.2,265.7 176.2,265.2 175.4,263.9 175.5,263.6 176.2,263.1 175.9,262.1" stroke="#ff0a0a" />
<path d="M186.9,128.7 186.6,128.7 186.7,127.7 186.8,127.5 187.9,125.8 187.7,126.0" stroke="#ff0a0a" />
<path d="M171.1,460.9 171.8,461.0 172.3,461.2 173.0,460.9 174.0,461.3 173.4,461.1" stroke="#12661c" />
<path d="M189.9,113.5 190.1,113.0 190.6,112.1 190.4,111.4 191.3,111.5 190.4,111.1" stroke="#ff8c1e" />
<path d="M177.1,208.5 177.4,207.7 177.9,207.6 177.1,205.7 178.2,205.2 178.1,205.2" stroke="#ffd232" />
<path d="M175.3,243.1 175.3,242.1 175.0,242.6 174.9,241.9 174.9,241.3 175.5,240.1" stroke="#0a0ad2" />
<path d="M174.0,390.8 174.5,389.4 173.5,388.4 174.1,388.9 173.7,388.0 174.3,387.4" stroke="#ffd232" />
<path d="M175.1,349.6 175.3,348.7 174.9,348.0 175.6,348.1 175.5,347.1 175.0,345.8" stroke="#96be3c" />
<path d="M174.4,376.6 174.5,375.9 174.0,375.6 174.7,374.2 174.3,373.7 174.0,373.1" stroke="#ffd232" />
<path d="M175.2,332.5 174.6,331.9 174.4,331.1 175.1,331.3 175.1,330.7 175.1,329.4" stroke="#000000" />
<path d="M173.9,395.4 173.4,395.2 174.0,394.2 173.7,393.2 173.7,393.0 173.8,392.7" stroke="#ffd232" />
<path d="M173.6,420.3 173.7,419.4 173.8,418.9 173.7,418.3 173.2,417.1 173.6,416.0" stroke="#9b1fe0" />
<path d="M173.8,397.5 173.7,397.1 174.0,396.0 174.0,395.9 174.5,395.0 173.9,393.7" stroke="#9b1fe0" />
<path d="M175.1,265.8 174.8,264.7 175.4,265.1 175.3,263.6 175.0,262.9 175.6,262.2" stroke="#0a0ad2" />
<path d="M176.2,264.7 176.8,263.5 176.9,262.5 176.0,262.2 176.8,262.1 177.1,261.5" stroke="#ffd232" />
<path d="M175.7,301.7 175.8,300.9 175.8,300.9 175.7,300.4 176.5,299.8 176.6,299.0" stroke="#96be3c" />
<path d="M176.3,207.0 175.6,206.5 175.2,205.5 176.1,205.3 175.2,204.7 175.6,204.2" stroke="#0a0ad2" />
<path d="M176.5,244.8 177.1,243.5 176.5,243.8 176.5,242.4 176.8,241.7 176.4,240.7" stroke="#ffd232" />
<path d="M175.2,357.0 175.4,356.6 174.6,355.8 174.7,355.4 175.0,353.9 174.5,353.8" stroke="#ffd232" />
<path d="M173.9,349.2 174.3,349.8 174.2,347.7 173.6,347.1 173.8,346.3 173.6,346.5" stroke="#0a0ad2" />
<path d="M176.8,215.2 176.8,214.8 176.8,213.5 176.9,214.0 177.3,212.9 177.5,211.8" stroke="#12661c" />
<path d="M188.7,122.2 189.1,121.9 189.5,121.1 189.1,119.9 189.0,120.0 189.7,119.1" stroke="#ff8c1e" />
<path d="M178.5,179.0 177.8,177.7 178.7,177.5 178.2,177.5 178.4,176.2 178.0,175.8" stroke="#96be3c" />
<path d="M174.4,352.7 174.9,352.4 174.8,350.8 174.7,350.0 175.1,349.6 175.3,348.7" stroke="#96be3c" />
<path d="M175.4,327.0 175.6,326.2 175.4,326.2 175.5,325.4 175.6,324.1 176.0,324.1" stroke="#12661c" />
<path d="M175.7,336.4 175.6,335.3 175.5,334.8 175.3,333.8 175.7,333.0 175.2,331.7" stroke="#96be3c" />
<path d="M182.7,114.5 182.9,113.5 182.0,112.7 182.0,112.8 182.9,111.9 183.0,111.2" stroke="#96be3c" />
<path d="M175.2,331.5 175.7,331.2 175.7,330.3 175.5,330.1 176.0,329.4 176.2,328.4" stroke="#ffd232" />
<path d="M172.8,424.9 172.9,424.9 173.1,423.7 173.7,422.8 173.7,422.7 173.2,422.3" stroke="#9b1fe0" />
<path d="M172.5,411.2 172.7,411.0 172.4,409.7 172.9,408.8 173.2,408.8 173.4,407.6" stroke="#000000" />
<path d="M180.7,139.8 180.4,138.5 180.8,138.8 180.6,138.2 180.7,137.4 181.0,136.5" stroke="#96be3c" />
<path d="M173.7,337.6 173.9,337.1 174.4,335.5 173.8,334.8 174.4,334.7 173.8,333.1" stroke="#ff8c1e" />
<path d="M181.1,189.6 181.3,187.8 181.2,187.8 182.2,187.3 181.7,185.9 181.3,185.7" stroke="#ff8c1e" />
<path d="M174.6,347.2 175.4,346.8 174.7,345.4 174.3,344.9 175.4,344.6 174.5,343.4" stroke="#12661c" />
<path d="M171.8,452.5 171.9,450.6 171.8,450.0 172.3,450.3 172.7,448.6 172.1,448.0" stroke="#ffd232" />
<path d="M188.5,128.2 188.5,126.9 188.3,126.3 189.0,125.1 189.1,124.4 188.3,124.0" stroke="#ff8c1e" />
<path d="M172.7,437.5 173.2,437.9 172.5,436.2 173.1,436.4 173.3,435.2 172.5,434.7" stroke="#ffd232" />
<path d="M174.5,316.8 174.4,315.5 174.5,315.3 175.0,314.3 175.2,313.9 174.7,312.8" stroke="#0a0ad2" />
<path d="M174.8,309.0 174.6,307.8 174.8,307.6 175.6,306.6 175.6,306.0 174.9,306.2" stroke="#ff8c1e" />
<path d="M171.9,442.7 172.1,441.1 171.7,440.1 172.1,439.9 171.7,439.2 171.9,439.1" stroke="#0a0ad2" />
<path d="M177.0,270.4 176.0,270.0 176.1,268.0 176.6,267.3 176.0,266.8 177.1,266.2" stroke="#ffd232" />
<path d="M172.8,384.9 172.7,384.1 173.7,382.9 173.6,382.7 173.7,382.3 172.9,381.9" stroke="#ff8c1e" />
<path d="M182.9,121.1 182.5,121.3 182.5,121.1 183.2,119.1 182.7,119.7 183.5,117.9" stroke="#ffd232" />
<path d="M183.6,175.4 182.8,174.9 183.8,173.7 183.9,173.0 183.3,171.8 183.4,171.0" stroke="#ff8c1e" />
<path d="M175.7,255.3 175.4,253.5 175.7,252.8 175.1,253.0 175.0,251.5 175.8,251.7" stroke="#0a0ad2" />
<path d="M178.4,226.3 177.5,226.2 177.8,225.1 178.2,224.7 178.1,224.3 177.9,223.3" stroke="#ff0a0a" />
<path d="M177.1,237.9 177.4,236.5 178.0,235.9 177.8,236.2 177.4,235.6 177.0,233.8" stroke="#9b1fe0" />
<path d="M174.9,238.3 175.8,236.5 175.9,236.5 175.2,235.2 175.2,235.7 175.1,233.8" stroke="#0a0ad2" />
<path d="M176.1,290.0 176.1,289.3 175.9,288.0 175.6,287.4 176.1,286.3 175.5,286.5" stroke="#ff8c1e" />
<path d="M173.8,391.1 173.5,391.7 173.6,390.4 173.9,389.7 173.6,388.7 173.6,388.3" stroke="#96be3c" />
<path d="M172.1,453.7 171.3,452.2 171.5,452.5 171.4,451.6 172.1,450.6 172.5,449.5" stroke="#12661c" />
<path d="M173.9,461.5 173.4,461.6 172.9,461.9 172.6,461.8 171.3,461.3 171.3,461.4" stroke="#9b1fe0" />
<path d="M177.3,244.6 177.8,244.8 177.3,243.5 178.2,243.5 177.5,241.6 178.4,242.1" stroke="#ff8c1e" />
<path d="M176.0,266.8 177.1,266.2 177.0,266.5 176.2,264.6 176.2,264.7 176.8,263.5" stroke="#ffd232" />
<path d="M177.7,243.8 177.4,243.1 176.8,241.5 177.5,240.6 176.8,240.9 176.9,239.4" stroke="#9b1fe0" />
<path d="M179.3,206.6 179.7,206.0 178.9,205.3 179.2,204.6 179.6,204.2 179.0,203.6" stroke="#ff0a0a" />
<path d="M175.7,339.5 174.8,339.6 175.5,338.2 175.9,337.4 175.4,337.2 175.2,336.8" stroke="#ffd232" />
<path d="M176.9,211.3 177.0,210.6 177.1,209.3 178.0,209.3 177.1,208.5 177.4,207.7" stroke="#ffd232" />
<path d="M175.4,314.0 175.6,312.3 175.7,312.3 175.5,310.7 176.2,310.0 175.3,309.2" stroke="#12661c" />
<path d="M172.9,427.6 173.8,427.7 173.6,426.2 173.4,425.8 172.9,425.1 173.4,424.4" stroke="#96be3c" />
<path d="M176.3,167.2 176.6,166.9 176.4,166.9 176.4,166.2 177.3,164.5 177.3,164.2" stroke="#0a0ad2" />
<path d="M175.5,358.2 174.9,357.3 175.3,356.7 175.2,355.5 175.3,355.0 175.6,354.2" stroke="#9b1fe0" />
<path d="M175.7,318.7 176.2,318.4 176.4,318.2 175.7,316.9 175.7,316.4 176.2,314.9" stroke="#9b1fe0" />
<path d="M170.4,459.4 171.1,461.9 170.5,461.8 171.0,460.5 171.7,460.3 171.5,459.2" stroke="#ff8c1e" />
<path d="M182.8,178.1 183.3,176.8 182.8,176.2 182.6,176.4 183.6,175.4 182.8,174.9" stroke="#ff8c1e" />
<path d="M174.4,317.5 174.9,317.6 174.3,316.1 174.4,316.2 174.4,314.2 174.3,314.0" stroke="#ff8c1e" />
<path d="M176.0,257.4 176.0,256.5 176.1,256.5 175.7,254.8 176.3,254.9 176.6,253.4" stroke="#ff0a0a" />
<path d="M179.2,159.9 179.2,158.1 178.8,157.7 178.8,157.6 179.2,156.2 178.5,155.3" stroke="#12661c" />
<path d="M181.6,125.3 181.0,125.1 180.9,125.0 181.1,124.4 180.8,123.0 181.5,122.8" stroke="#12661c" />
<path d="M176.7,256.7 177.2,254.7 177.2,254.4 176.0,253.7 176.2,252.6 177.0,252.4" stroke="#ffd232" />
<path d="M173.2,313.2 174.3,312.2 173.3,312.2 174.1,312.1 174.5,310.9 174.2,310.1" stroke="#ff0a0a" />
<path d="M173.9,383.9 174.7,382.6 174.5,382.4 173.9,381.2 173.9,380.0 173.9,379.4" stroke="#9b1fe0" />
<path d="M176.4,304.8 176.9,303.8 176.0,303.7 177.1,303.3 176.8,301.9 177.1,300.8" stroke="#9b1fe0" />
<path d="M175.0,346.0 175.3,344.6 174.8,344.7 175.2,343.5 174.8,343.5 175.2,342.7" stroke="#ffd232" />
<path d="M173.7,388.0 174.3,387.4 174.6,385.7 174.5,385.0 173.7,384.7 174.2,383.5" stroke="#ffd232" />
<path d="M173.6,386.2 174.1,385.5 174.0,384.9 174.5,384.6 174.0,383.3 174.6,382.3" stroke="#96be3c" />
<path d="M177.7,219.8 177.7,219.4 177.1,218.8 177.5,216.9 177.1,217.1 177.6,216.5" stroke="#ffd232" />
<path d="M174.0,373.7 173.2,372.8 173.1,371.6 173.0,372.0 173.2,371.4 173.2,369.8" stroke="#ff8c1e" />
<path d="M170.3,456.3 170.6,453.2 170.7,452.3 170.1,454.3 170.1,454.2 170.4,453.0" stroke="#ff0a0a" />
<path d="M177.0,274.3 176.8,274.1 177.4,272.6 177.0,272.4 177.1,271.2 177.2,270.4" stroke="#9b1fe0" />
<path d="M175.8,293.6 176.3,292.9 175.8,292.5 176.2,291.9 176.3,291.6 176.9,289.7" stroke="#96be3c" />
<path d="M174.4,348.0 173.7,347.4 173.8,346.9 174.5,346.8 174.5,345.0 173.5,345.2" stroke="#ff8c1e" />
<path d="M175.9,284.3 176.7,284.1 176.2,282.2 176.3,282.6 176.2,281.8 176.7,280.9" stroke="#ffd232" />
<path d="M181.8,124.1 182.7,123.4 181.9,123.0 182.3,123.0 182.9,121.1 182.5,121.3" stroke="#ffd232" />
<path d="M173.0,322.2 173.9,321.6 173.2,320.2 173.9,320.1 173.5,319.8 173.5,319.0" stroke="#ff0a0a" />
<path d="M175.0,304.2 174.8,302.7 175.7,301.6 175.1,302.0 175.6,300.2 174.7,299.5" stroke="#ff8c1e" />
<path d="M176.3,184.8 176.1,183.3 176.7,183.5 175.7,182.4 176.5,182.5 175.7,180.4" stroke="#0a0ad2" />
<path d="M172.2,437.0 172.6,436.0 172.3,435.5 172.7,434.3 172.6,434.4 172.3,432.7" stroke="#0a0ad2" />
<path d="M176.3,193.5 176.4,192.2 176.2,191.1 176.4,190.7 176.0,190.8 175.8,189.1" stroke="#0a0ad2" />
<path d="M173.8,375.3 173.7,374.2 174.0,373.1 173.8,373.5 174.1,372.1 174.1,371.7" stroke="#000000" />
<path d="M173.7,409.0 173.2,408.1 173.8,407.4 173.4,406.0 172.9,406.3 174.0,404.7" stroke="#12661c" />
<path d="M172.5,441.6 172.9,441.4 172.0,440.3 173.0,439.7 172.5,439.6 173.1,438.4" stroke="#12661c" />
<path d="M172.8,428.7 172.4,427.8 172.9,426.9 173.1,426.6 173.2,425.5 172.3,424.4" stroke="#000000" />
<path d="M172.5,450.1 172.3,450.4 172.5,448.6 172.0,449.0 171.9,447.9 172.3,446.5" stroke="#96be3c" />
<path d="M179.9,190.5 180.1,189.9 180.0,189.8 180.6,187.9 180.6,187.4 180.8,186.9" stroke="#ff0a0a" />
<path d="M178.6,154.5 178.6,153.2 179.6,152.0 179.4,151.5 179.4,151.0 178.8,150.9" stroke="#12661c" />
<path d="M175.5,302.9 175.2,302.1 175.1,300.7 175.6,300.7 175.6,299.4 175.4,298.6" stroke="#0a0ad2" />
<path d="M176.4,321.9 176.3,321.4 175.8,319.7 176.1,319.1 175.7,318.7 176.2,318.4" stroke="#9b1fe0" />
<path d="M177.5,142.1 178.2,142.0 177.7,141.8 178.5,140.6 178.6,140.3 178.4,138.9" stroke="#0a0ad2" />
<path d="M179.4,147.5 179.9,147.7 180.1,146.8 179.8,145.9 180.2,145.3 180.1,145.1" stroke="#96be3c" />
<path d="M180.5,142.2 179.6,141.3 180.5,140.7 180.2,140.5 180.7,139.8 180.4,138.5" stroke="#96be3c" />
<path d="M174.7,274.1 175.4,273.8 175.7,273.2 174.9,271.6 175.5,271.8 175.2,271.2" stroke="#0a0ad2" />
<path d="M174.6,363.9 174.8,362.4 174.4,362.8 174.1,361.0 174.2,360.6 174.5,360.0" stroke="#12661c" />
<path d="M175.8,176.8 176.4,175.6 175.9,174.4 176.4,174.6 176.5,173.1 177.1,172.9" stroke="#0a0ad2" />
<path d="M174.3,360.8 174.1,360.7 174.5,359.3 174.3,358.6 174.8,358.2 174.7,357.8" stroke="#000000" />
<path d="M173.5,346.9 172.9,346.1 172.5,345.6 173.0,344.8 173.3,344.0 173.6,344.2" stroke="#ff0a0a" />
<path d="M177.1,285.8 176.7,284.4 177.3,283.9 176.8,283.2 177.4,282.8" stroke="#000000" />
<path d="M173.9,380.0 173.9,379.4 173.8,378.7 174.3,378.6 174.8,378.3 174.7,377.0" stroke="#9b1fe0" />
<path d="M175.9,256.9 175.9,256.6 176.8,256.0 176.8,255.1 176.4,254.2 176.5,253.5" stroke="#12661c" />
<path d="M175.0,262.9 175.6,262.2 175.8,261.1 175.0,260.9 175.1,260.7 175.6,260.1" stroke="#0a0ad2" />
<path d="M173.3,414.0 174.0,413.0 173.2,412.4 173.1,411.7 173.2,411.3 173.0,411.2" stroke="#96be3c" />
<path d="M173.5,389.7 173.6,388.0 173.8,387.6 173.5,387.2 172.8,386.6 173.6,385.5" stroke="#0a0ad2" />
<path d="M179.9,114.4 179.6,114.1 179.5,112.7 179.3,112.8 179.4,112.3 179.7,111.8" stroke="#0a0ad2" />
<path d="M172.8,442.1 173.2,441.3 172.2,441.0 172.4,440.2 172.8,439.9 172.9,438.8" stroke="#96be3c" />
<path d="M176.5,311.0 176.9,309.9 177.0,308.5 176.2,308.9 175.8,308.0 177.0,307.3" stroke="#9b1fe0" />
<path d="M179.9,136.9 180.1,136.9 180.6,135.3 180.1,135.3 180.4,133.8 180.0,133.9" stroke="#12661c" />
<path d="M172.3,378.6 172.4,377.1 171.9,376.0 172.6,376.4 172.1,375.1 172.5,374.6" stroke="#ff0a0a" />
<path d="M177.7,212.5 176.8,211.5 177.0,211.8 176.9,209.9 177.1,209.2 177.2,209.3" stroke="#96be3c" />
<path d="M173.9,380.9 174.5,380.2 173.5,378.7 173.8,378.1 174.2,377.3 174.3,376.8" stroke="#12661c" />
<path d="M171.8,441.7 172.3,441.4 172.2,440.3 172.0,439.7 171.8,439.1 172.6,438.6" stroke="#000000" />
<path d="M174.3,357.9 175.3,357.4 174.8,356.7 175.2,356.7 174.9,356.0 175.0,354.1" stroke="#96be3c" />
<path d="M176.1,170.7 176.7,169.7 176.9,169.8 177.1,168.9 176.3,167.2 176.6,166.9" stroke="#0a0ad2" />
<path d="M175.3,273.9 175.8,274.2 175.3,272.2 175.3,272.8 175.6,271.1 175.0,271.4" stroke="#ff0a0a" />
<path d="M180.2,145.3 180.1,145.1 179.9,144.3 179.5,143.0 180.5,142.2 179.6,141.3" stroke="#96be3c" />
<path d="M176.8,226.7 176.3,225.9 176.3,225.0 176.4,224.2 176.9,223.6 176.4,223.0" stroke="#12661c" />
<path d="M174.0,347.3 174.0,346.2 174.5,345.5 174.1,344.6 174.9,344.2 174.7,343.2" stroke="#000000" />
<path d="M173.3,344.0 173.6,344.2 173.2,342.3 173.2,342.4 173.3,341.4 173.4,341.5" stroke="#ff0a0a" />
<path d="M172.8,406.1 173.4,405.5 173.7,404.5 173.1,404.2 173.5,403.1 173.0,402.1" stroke="#000000" />
<path d="M175.6,271.1 175.0,271.4 175.0,270.3 175.7,269.0 175.5,269.3 176.2,267.4" stroke="#ff0a0a" />
<path d="M172.5,417.2 172.9,416.7 172.5,415.9 173.3,415.1 172.8,413.6 172.8,413.3" stroke="#0a0ad2" />
<path d="M174.5,279.8 175.7,279.1 175.3,278.3 175.4,277.6 175.7,277.0 175.0,276.3" stroke="#ff0a0a" />
<path d="M181.6,126.3 181.9,125.8 181.8,124.4 181.7,124.0 182.1,123.4 181.6,122.0" stroke="#96be3c" />
<path d="M175.3,330.4 175.4,329.6 175.7,328.6 176.4,327.9 175.9,327.2 175.6,326.3" stroke="#9b1fe0" />
<path d="M177.5,262.8 177.1,262.6 176.6,262.0 176.8,260.3 177.1,260.0 177.5,259.4" stroke="#9b1fe0" />
<path d="M176.4,240.9 177.3,240.0 177.4,239.2 177.0,238.6 176.6,237.3 177.3,237.9" stroke="#ff0a0a" />
<path d="M173.5,319.8 173.5,319.0 173.3,317.6 174.3,317.3 174.1,316.9 173.9,315.7" stroke="#ff0a0a" />
<path d="M171.3,397.3 172.2,397.0 171.7,396.2 171.8,395.5 172.3,395.4 171.5,394.4" stroke="#ff0a0a" />
<path d="M175.7,246.4 175.6,244.8 175.0,245.5 174.8,243.8 175.3,243.1 175.3,242.1" stroke="#0a0ad2" />
<path d="M178.2,168.3 177.9,167.2 178.1,166.6 178.8,165.9 178.5,165.6 178.2,165.0" stroke="#12661c" />
<path d="M176.5,182.5 175.7,180.4 176.2,180.3 176.7,180.2 176.1,178.9 176.4,178.9" stroke="#0a0ad2" />
<path d="M176.5,173.1 177.1,172.9 176.5,171.6 176.3,171.9 176.1,170.7 176.7,169.7" stroke="#0a0ad2" />
<path d="M174.2,377.3 174.3,376.8 174.0,376.6 174.7,375.2 174.0,375.6 173.9,373.6" stroke="#12661c" />
<path d="M173.4,369.8 174.0,368.6 174.0,368.3 173.6,367.5 174.2,367.0 173.7,366.1" stroke="#000000" />
<path d="M178.1,145.4 177.8,145.3 177.7,144.0 177.9,143.8 177.5,142.1 178.2,142.0" stroke="#0a0ad2" />
<path d="M174.1,349.3 174.7,349.5 175.0,348.6 174.3,348.2 174.0,347.3 174.0,346.2" stroke="#000000" />
<path d="M175.5,316.4 176.2,315.1 175.4,314.9 176.3,314.6 176.2,313.3 175.9,312.7" stroke="#96be3c" />
<path d="M176.7,285.0 176.5,285.0 177.3,284.4 176.9,282.6 176.6,283.0 177.4,281.9" stroke="#9b1fe0" />
<path d="M174.4,285.7 175.3,285.1 174.4,283.5 174.7,283.8 174.5,283.4 175.5,282.1" stroke="#ff0a0a" />
<path d="M173.2,400.5 173.1,400.1 173.2,398.2 173.3,398.6 173.9,397.9 173.7,396.1" stroke="#12661c" />
<path d="M173.3,378.3 173.8,376.6 174.0,376.5 174.1,376.0 173.9,374.8 174.0,374.9" stroke="#0a0ad2" />
<path d="M173.6,383.7 173.8,382.9 173.8,381.9 173.8,381.5 174.2,381.0 174.1,380.3" stroke="#000000" />
<path d="M173.3,394.1 173.1,393.5 173.3,393.3 172.9,392.1 173.6,391.1 173.7,391.6" stroke="#0a0ad2" />
<path d="M172.8,434.0 172.5,433.5 173.5,432.6 173.4,432.2 172.8,431.4 173.3,430.4" stroke="#12661c" />
<path d="M173.9,380.8 173.0,379.7 173.2,378.6 173.6,379.1 173.3,378.3 173.8,376.6" stroke="#0a0ad2" />
<path d="M174.9,366.6 174.1,365.2 174.2,365.0 175.1,365.1 174.8,363.4 174.6,362.9" stroke="#96be3c" />
<path d="M173.3,405.1 173.4,404.5 173.6,405.0 173.6,403.4 173.7,402.6 174.0,402.6" stroke="#96be3c" />
<path d="M173.0,436.0 172.6,435.7 173.3,434.7 173.3,434.7 172.5,434.0 172.6,432.5" stroke="#96be3c" />
<path d="M176.7,285.5 176.1,284.4 176.8,284.0 175.8,283.2 176.1,282.8 175.9,281.6" stroke="#96be3c" />
<path d="M174.7,344.5 175.6,343.0 175.5,342.5 175.4,342.6 175.4,341.8 175.1,340.0" stroke="#96be3c" />
<path d="M170.3,447.7 170.5,447.0 171.0,446.3 170.8,445.1 170.3,445.4 171.2,444.1" stroke="#ff0a0a" />
<path d="M172.1,375.1 172.5,374.6 172.0,374.3 172.4,373.3 172.6,372.2 172.6,371.1" stroke="#ff0a0a" />
<path d="M188.2,118.5 188.8,117.0 189.4,116.1 189.1,116.1 189.6,115.6 189.7,114.3" stroke="#ff0a0a" />
<path d="M175.7,277.0 175.0,276.3 174.8,275.5 175.6,274.9 175.3,273.9 175.8,274.2" stroke="#ff0a0a" />
<path d="M172.3,395.4 171.5,394.4 172.4,393.4 171.9,392.4 171.9,392.0 172.0,390.6" stroke="#ff0a0a" />
<path d="M173.4,350.0 173.4,348.8 173.4,348.0 172.5,347.5 173.5,346.9 172.9,346.1" stroke="#ff0a0a" />
<path d="M170.7,450.9 171.2,449.8 171.1,449.5 170.6,448.1 170.3,447.7 170.5,447.0" stroke="#ff0a0a" />
<path d="M172.8,386.6 173.6,385.5 173.4,384.7 173.1,384.1 172.9,383.4 173.6,382.6" stroke="#0a0ad2" />
<path d="M187.9,121.2 188.5,120.1 188.8,119.5 188.1,118.3 188.2,118.5 188.8,117.0" stroke="#ff0a0a" />
<path d="M172.3,399.7 171.4,399.7 172.1,399.5 171.6,398.6 171.3,397.3 172.2,397.0" stroke="#ff0a0a" />
<path d="M173.9,324.7 173.7,324.5 173.3,322.8 174.1,322.8 173.0,322.2 173.9,321.6" stroke="#ff0a0a" />
<path d="M177.6,147.8 177.9,147.3 177.9,147.0 177.2,146.2 178.1,145.4 177.8,145.3" stroke="#0a0ad2" />
<path d="M171.7,450.9 171.7,449.9 171.5,449.4 172.1,448.0 171.2,448.1 172.2,447.1" stroke="#0a0ad2" />
<path d="M174.5,283.4 175.5,282.1 175.5,281.5 174.7,280.5 174.5,279.8 175.7,279.1" stroke="#ff0a0a" />
<path d="M172.7,408.9 173.0,408.0 173.1,407.1 172.7,406.0 172.5,406.1 173.3,405.1" stroke="#0a0ad2" />
<path d="M171.3,461.9 171.0,461.1 170.9,459.6 170.9,459.6 170.9,458.4 171.0,458.8" stroke="#0a0ad2" />
<path d="M179.6,204.2 179.0,203.6 179.8,203.1 179.0,202.5 179.6,201.7 179.9,200.4" stroke="#ff0a0a" />
<path d="M171.3,403.4 171.8,401.9 171.9,401.8 171.4,400.9 172.3,399.7 171.4,399.7" stroke="#ff0a0a" />
<path d="M175.5,210.0 175.4,209.8 175.6,208.4 175.7,208.2 176.3,207.0 175.6,206.5" stroke="#0a0ad2" />
<path d="M180.6,187.4 180.8,186.9 181.4,186.0 180.4,185.7 181.0,184.7 181.6,184.7" stroke="#ff0a0a" />
<path d="M170.7,459.6 170.6,455.9 170.3,454.9 170.3,458.0 170.3,456.3 170.6,453.2" stroke="#ff0a0a" />
<path d="M171.7,406.1 171.5,404.8 172.0,404.6 171.2,403.4 171.3,403.4 171.8,401.9" stroke="#ff0a0a" />
<path d="M184.1,157.6 184.8,156.8 184.5,155.0 184.3,155.1 184.9,154.2 184.6,153.4" stroke="#ff0a0a" />
<path d="M172.7,353.1 172.9,352.1 173.3,352.0 172.6,350.2 173.4,350.0 173.4,348.8" stroke="#ff0a0a" />
<path d="M172.1,383.7 172.3,382.8 172.1,381.9 172.1,381.4 172.5,380.2 171.7,380.6" stroke="#ff0a0a" />
<path d="M171.7,439.2 171.9,439.1 171.8,438.7 172.2,437.4 172.2,437.0 172.6,436.0" stroke="#0a0ad2" />
<path d="M173.8,333.1 173.1,332.6 173.3,331.2 172.9,330.9 173.0,330.0 174.0,330.3" stroke="#ff0a0a" />
<path d="M179.5,210.3 179.5,208.8 178.5,208.4 179.1,208.0 179.3,206.6 179.7,206.0" stroke="#ff0a0a" />
<path d="M176.7,234.5 177.4,235.1 177.5,233.2 177.6,232.5 177.4,232.8 177.4,231.4" stroke="#ff0a0a" />
<path d="M185.2,146.4 185.9,144.9 185.1,144.8 185.7,143.7 185.3,143.9 185.2,143.0" stroke="#ff0a0a" />
<path d="M175.5,269.3 176.2,267.4 175.1,267.0 175.1,267.3 175.2,265.7 176.2,265.2" stroke="#ff0a0a" />
<path d="M180.2,196.6 180.1,195.7 180.0,195.0 179.8,194.3 179.8,192.8 179.8,192.3" stroke="#ff0a0a" />
<path d="M185.0,151.8 185.3,151.2 184.7,150.5 185.2,149.5 185.4,149.3 184.9,147.8" stroke="#ff0a0a" />
<path d="M185.4,149.3 184.9,147.8 185.3,146.8 185.7,146.2 185.2,146.4 185.9,144.9" stroke="#ff0a0a" />
<path d="M174.1,291.4 174.5,290.5 174.8,290.3 174.3,288.7 174.2,288.6 174.3,288.2" stroke="#ff0a0a" />
<path d="M172.4,363.6 172.1,362.7 172.6,362.6 172.1,362.3 172.1,360.5 172.6,360.1" stroke="#ff0a0a" />
<path d="M182.1,177.0 181.9,176.6 182.4,175.2 183.0,174.3 182.7,173.6 182.4,173.2" stroke="#ff0a0a" />
<path d="M179.6,201.7 179.9,200.4 179.9,200.7 180.2,199.4 179.4,199.2 180.4,198.9" stroke="#ff0a0a" />
<path d="M177.9,218.7 178.9,218.1 178.5,216.9 177.9,216.2 178.6,215.3 178.5,215.6" stroke="#ff0a0a" />
<path d="M171.2,433.4 170.5,433.7 170.5,432.9 171.3,431.4 171.2,430.7 171.5,429.9" stroke="#ff0a0a" />
<path d="M172.0,368.9 172.0,368.3 172.4,368.2 172.7,367.3 172.8,366.0 172.3,365.4" stroke="#ff0a0a" />
<path d="M173.2,339.4 172.7,337.3 173.5,336.7 172.8,337.1 173.1,336.5 173.6,335.4" stroke="#ff0a0a" />
<path d="M184.9,154.2 184.6,153.4 184.7,152.9 184.6,152.9 185.0,151.8 185.3,151.2" stroke="#ff0a0a" />
<path d="M187.9,125.8 187.7,126.0 187.7,125.8 187.5,125.0 187.9,123.3 187.7,122.4" stroke="#ff0a0a" />
<path d="M173.5,307.7 173.8,307.8 173.7,306.3 174.2,305.4 174.1,304.8 174.4,304.9" stroke="#ff0a0a" />
<path d="M176.2,263.1 175.9,262.1 175.8,262.4 175.5,261.4 175.7,260.2 176.3,259.4" stroke="#ff0a0a" />
<path d="M172.5,380.2 171.7,380.6 172.2,379.6 172.7,378.9 172.3,378.6 172.4,377.1" stroke="#ff0a0a" />
<path d="M178.5,220.6 177.7,220.2 178.5,219.4 177.7,219.0 177.9,218.7 178.9,218.1" stroke="#ff0a0a" />
<path d="M179.4,199.2 180.4,198.9 180.0,197.2 180.5,196.3 180.2,196.6 180.1,195.7" stroke="#ff0a0a" />
<path d="M176.6,237.3 177.3,237.9 176.8,237.2 177.0,235.8 176.7,234.5 177.4,235.1" stroke="#ff0a0a" />
<path d="M176.3,254.9 176.6,253.4 175.7,253.5 176.0,252.7 176.1,251.3 176.5,251.0" stroke="#ff0a0a" />
<path d="M181.8,182.0 181.1,181.5 181.5,181.1 181.1,180.8 181.7,179.1 181.9,178.0" stroke="#ff0a0a" />
<path d="M170.3,445.4 171.2,444.1 170.2,443.3 170.6,442.8 170.8,442.0 170.9,442.0" stroke="#ff0a0a" />
<path d="M170.8,442.0 170.9,442.0 171.1,441.2 170.9,439.8 171.2,439.2 171.3,438.7" stroke="#ff0a0a" />
<path d="M170.1,454.2 170.4,453.0 171.1,451.5 171.2,450.7 170.7,450.9 171.2,449.8" stroke="#ff0a0a" />
<path d="M172.7,358.6 172.6,357.0 172.2,356.4 172.7,355.9 172.8,355.7 173.3,354.3" stroke="#ff0a0a" />
<path d="M176.1,251.3 176.5,251.0 176.4,251.1 176.4,250.4 176.3,248.7 176.4,248.2" stroke="#ff0a0a" />
<path d="M171.1,414.3 171.5,413.4 171.1,413.2 171.7,411.7 171.8,411.7 171.9,411.2" stroke="#ff0a0a" />
<path d="M171.5,420.6 171.5,418.9 171.4,418.7 171.0,418.1 171.0,416.4 170.8,416.4" stroke="#ff0a0a" />
<path d="M174.1,316.9 173.9,315.7 174.2,315.0 174.4,314.6 173.2,313.2 174.3,312.2" stroke="#ff0a0a" />
<path d="M171.9,392.0 172.0,390.6 172.5,390.2 172.0,389.3 172.1,388.4 171.8,388.2" stroke="#ff0a0a" />
<path d="M172.1,360.5 172.6,360.1 172.7,360.0 172.8,359.4 172.7,358.6 172.6,357.0" stroke="#ff0a0a" />
<path d="M173.1,336.5 173.6,335.4 173.1,333.9 173.9,334.4 173.8,333.1 173.1,332.6" stroke="#ff0a0a" />
<path d="M175.7,260.2 176.3,259.4 176.0,258.9 176.0,257.6 176.0,257.4 176.0,256.5" stroke="#ff0a0a" />
<path d="M171.0,461.0 170.8,460.5 170.8,458.7 170.0,459.0 170.7,459.6 170.6,455.9" stroke="#ff0a0a" />
<path d="M173.3,341.4 173.4,341.5 173.4,339.4 173.3,339.6 173.2,339.4 172.7,337.3" stroke="#ff0a0a" />
<path d="M173.0,330.0 174.0,330.3 173.9,328.9 173.8,327.7 173.6,328.2 173.8,327.5" stroke="#ff0a0a" />
<path d="M174.1,304.8 174.4,304.9 174.3,304.3 174.2,303.4 173.7,302.1 174.0,302.2" stroke="#ff0a0a" />
<path d="M174.5,310.9 174.2,310.1 174.4,309.6 173.6,308.8 173.5,307.7 173.8,307.8" stroke="#ff0a0a" />
<path d="M172.6,372.2 172.6,371.1 172.4,371.1 172.6,369.9 172.0,368.9 172.0,368.3" stroke="#ff0a0a" />
<path d="M172.4,386.5 172.6,386.3 172.0,384.8 172.4,384.8 172.1,383.7 172.3,382.8" stroke="#ff0a0a" />
<path d="M171.0,416.4 170.8,416.4 171.6,415.3 171.2,415.3 171.1,414.3 171.5,413.4" stroke="#ff0a0a" />
<path d="M171.8,411.7 171.9,411.2 171.5,410.4 171.3,409.6 171.0,408.5 171.5,408.6" stroke="#ff0a0a" />
<path d="M170.9,426.0 171.0,425.4 170.6,424.8 170.7,423.4 171.2,423.4 171.5,422.7" stroke="#ff0a0a" />
<path d="M172.1,388.4 171.8,388.2 171.8,387.7 171.6,387.0 172.4,386.5 172.6,386.3" stroke="#ff0a0a" />
<path d="M171.2,423.4 171.5,422.7 171.7,421.2 170.8,420.0 171.5,420.6 171.5,418.9" stroke="#ff0a0a" />
<path d="M174.7,294.5 175.1,293.0 174.2,292.9 174.9,291.4 174.1,291.4 174.5,290.5" stroke="#ff0a0a" />
</g>
<g stroke="#1a1a1a" stroke-width="1.7">
<polyline points="66,465 66,9 521,9 521,465" fill="none" stroke-width="2"/>
<line x1="157.0" y1="9" x2="157.0" y2="18.5"/>
<line x1="248.0" y1="9" x2="248.0" y2="18.5"/>
<line x1="339.0" y1="9" x2="339.0" y2="18.5"/>
<line x1="430.0" y1="9" x2="430.0" y2="18.5"/>
<line x1="66" y1="66.7" x2="76" y2="66.7"/>
<line x1="521" y1="66.7" x2="511" y2="66.7"/>
<line x1="66" y1="123.5" x2="76" y2="123.5"/>
<line x1="521" y1="123.5" x2="511" y2="123.5"/>
<line x1="66" y1="180.3" x2="76" y2="180.3"/>
<line x1="521" y1="180.3" x2="511" y2="180.3"/>
<line x1="66" y1="237.1" x2="76" y2="237.1"/>
<line x1="521" y1="237.1" x2="511" y2="237.1"/>
<line x1="66" y1="293.9" x2="76" y2="293.9"/>
<line x1="521" y1="293.9" x2="511" y2="293.9"/>
<line x1="66" y1="350.7" x2="76" y2="350.7"/>
<line x1="521" y1="350.7" x2="511" y2="350.7"/>
<line x1="66" y1="407.5" x2="76" y2="407.5"/>
<line x1="521" y1="407.5" x2="511" y2="407.5"/>
</g>
<g font-size="23" fill="#000">
<text x="66.0" y="488" text-anchor="middle">0</text>
<text x="157.0" y="488" text-anchor="middle">0.2</text>
<text x="248.0" y="488" text-anchor="middle">0.4</text>
<text x="339.0" y="488" text-anchor="middle">0.6</text>
<text x="430.0" y="488" text-anchor="middle">0.8</text>
<text x="521.0" y="488" text-anchor="middle">1</text>
<text x="295" y="538" text-anchor="middle">Time (µs)</text>
<text transform="translate(24,235) rotate(-90)" text-anchor="middle">Signal (arb. unit)</text>
</g>
<rect x="345.3" y="40" width="134.3" height="216.8" fill="#fff" stroke="#1a1a1a" stroke-width="1.8"/>
<g font-size="22.8">
<line x1="354.5" y1="60.2" x2="399.5" y2="60.2" stroke="#000000" stroke-width="2.2"/>
<text x="403" y="68.8" fill="#000000">52 ns</text>
<line x1="354.5" y1="85.4" x2="399.5" y2="85.4" stroke="#9b1fe0" stroke-width="2.2"/>
<text x="403" y="94.0" fill="#9b1fe0">75 ns</text>
<line x1="354.5" y1="110.6" x2="399.5" y2="110.6" stroke="#0a0ad2" stroke-width="2.2"/>
<text x="403" y="119.2" fill="#0a0ad2">104 ns</text>
<line x1="354.5" y1="135.8" x2="399.5" y2="135.8" stroke="#12661c" stroke-width="2.2"/>
<text x="403" y="144.4" fill="#12661c">216 ns</text>
<line x1="354.5" y1="161.0" x2="399.5" y2="161.0" stroke="#96be3c" stroke-width="2.2"/>
<text x="403" y="169.6" fill="#96be3c">257 ns</text>
<line x1="354.5" y1="186.2" x2="399.5" y2="186.2" stroke="#ffd232" stroke-width="2.2"/>
<text x="403" y="194.8" fill="#ffd232">304 ns</text>
<line x1="354.5" y1="211.4" x2="399.5" y2="211.4" stroke="#ff8c1e" stroke-width="2.2"/>
<text x="403" y="220.0" fill="#ff8c1e">437 ns</text>
<line x1="354.5" y1="236.6" x2="399.5" y2="236.6" stroke="#ff0a0a" stroke-width="2.2"/>
<text x="403" y="245.2" fill="#ff0a0a">512 ns</text>
</g>
</svg>
</body></html>
